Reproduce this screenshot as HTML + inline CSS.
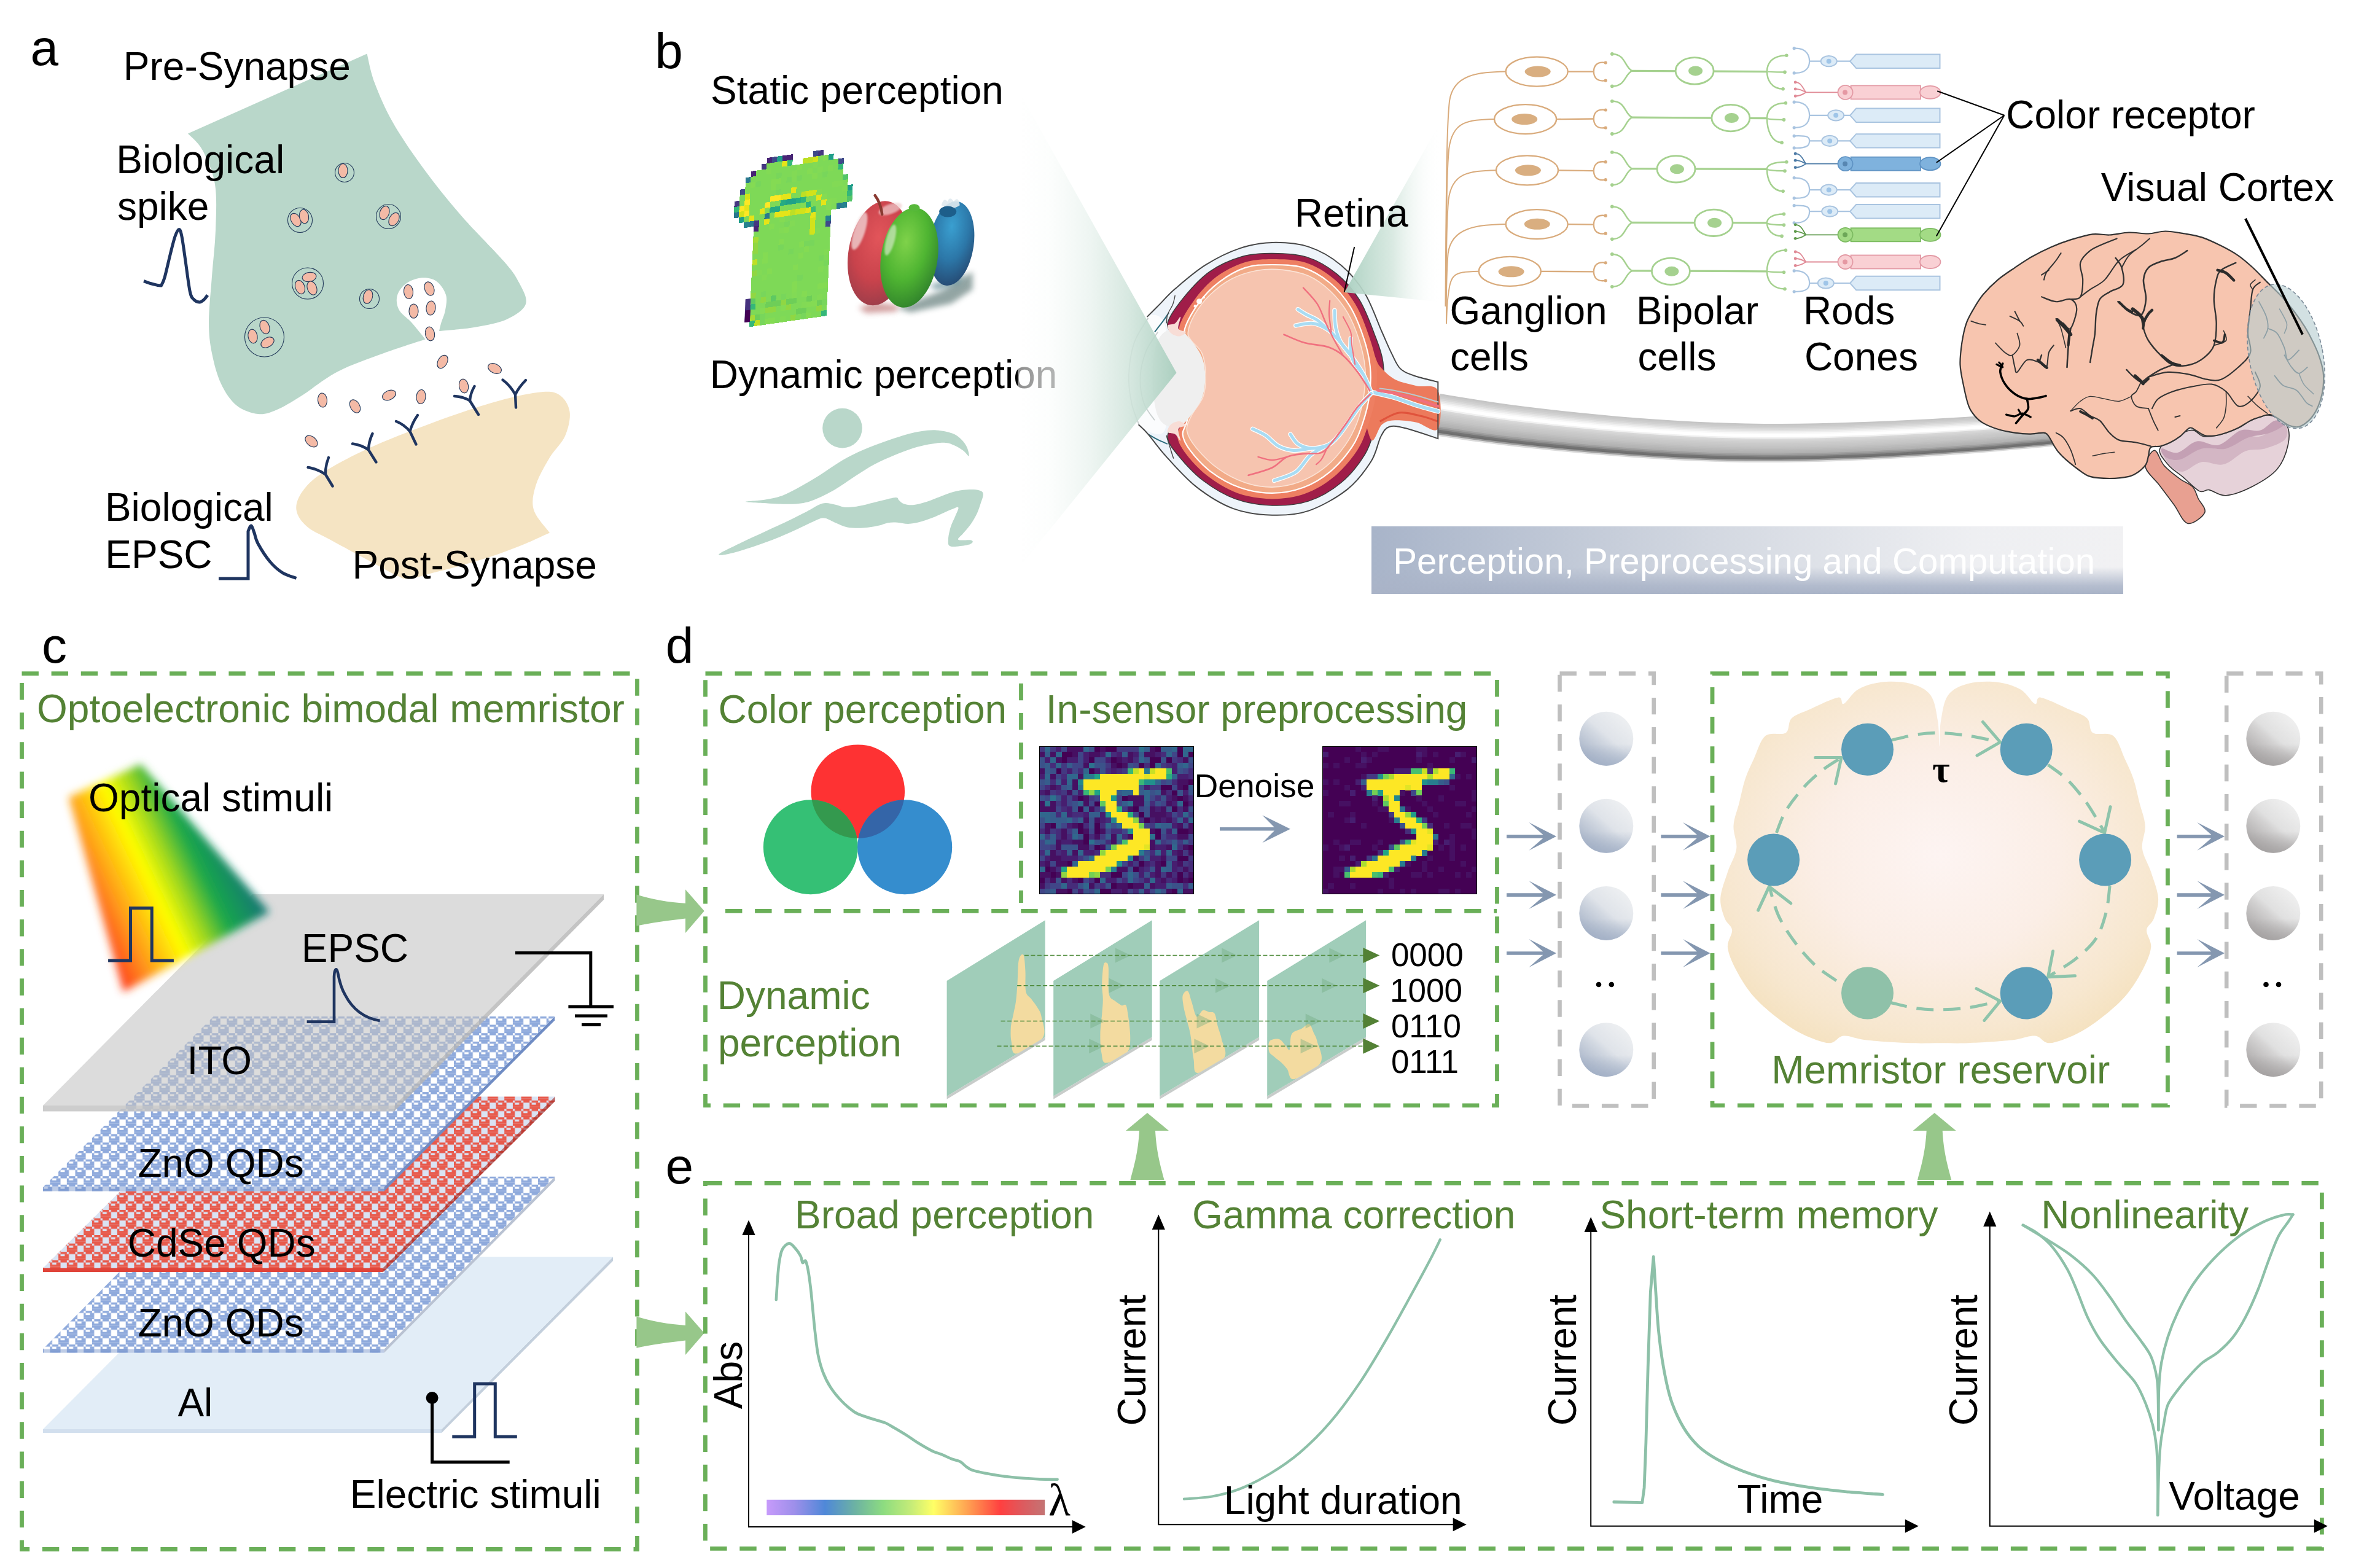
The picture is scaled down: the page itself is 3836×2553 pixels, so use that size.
<!DOCTYPE html>
<html><head><meta charset="utf-8"><title>figure</title>
<style>
html,body{margin:0;padding:0;background:#fff;}
svg{display:block}
text{font-family:"Liberation Sans",sans-serif;}
.s{font-family:"Liberation Serif",serif;}
</style></head><body>
<svg width="3836" height="2553" viewBox="0 0 3836 2553">
<rect width="3836" height="2553" fill="#fff"/>
<!-- defs -->
<defs>
<linearGradient id="beamL" gradientUnits="userSpaceOnUse" x1="1657" y1="0" x2="1916" y2="0">
<stop offset="0" stop-color="#ffffff" stop-opacity="0.55"/>
<stop offset="0.2" stop-color="#fbfdfc" stop-opacity="0.7"/>
<stop offset="0.45" stop-color="#eaf3ef" stop-opacity="0.8"/>
<stop offset="0.7" stop-color="#d0e4db" stop-opacity="0.85"/>
<stop offset="1" stop-color="#a6cdbc" stop-opacity="0.92"/>
</linearGradient>
<linearGradient id="beamR" gradientUnits="userSpaceOnUse" x1="2190" y1="0" x2="2345" y2="0">
<stop offset="0" stop-color="#a9cfbf" stop-opacity="0.95"/>
<stop offset="0.5" stop-color="#d3e6dd" stop-opacity="0.85"/>
<stop offset="1" stop-color="#ffffff" stop-opacity="0"/>
</linearGradient>
</defs>
<!-- a -->
<path d="M597.5,87.5 L306.0,217.5 C310.0,222.1 322.7,231.2 330.0,245.0C337.3,258.8 346.5,278.3 350.0,300.0C353.5,321.7 351.8,350.0 351.0,375.0C350.2,400.0 346.8,425.0 345.0,450.0C343.2,475.0 340.0,504.2 340.0,525.0C340.0,545.8 341.7,558.3 345.0,575.0C348.3,591.7 353.3,610.8 360.0,625.0C366.7,639.2 375.0,651.8 385.0,660.0C395.0,668.2 409.2,672.8 420.0,674.0C430.8,675.2 438.3,672.3 450.0,667.5C461.7,662.7 473.3,655.4 490.0,645.0C506.7,634.6 527.5,616.7 550.0,605.0C572.5,593.3 601.2,583.8 625.0,575.0C648.8,566.2 681.2,556.2 692.5,552.5C688.8,547.9 677.1,532.9 670.0,525.0C662.9,517.1 653.9,512.1 650.0,505.0C646.1,497.9 644.8,489.6 646.5,482.5C648.2,475.4 653.6,467.5 660.0,462.5C666.4,457.5 676.7,453.3 685.0,452.5C693.3,451.7 703.2,452.9 710.0,457.5C716.8,462.1 723.5,472.1 726.0,480.0C728.5,487.9 726.2,497.5 725.0,505.0C723.8,512.5 720.2,519.3 718.5,525.0C716.8,530.7 715.6,536.7 715.0,539.0C725.0,537.9 756.7,535.7 775.0,532.5C793.3,529.3 811.5,526.2 825.0,520.0C838.5,513.8 852.7,505.0 856.0,495.0C859.3,485.0 851.0,471.7 845.0,460.0C839.0,448.3 835.8,443.3 820.0,425.0C804.2,406.7 771.7,375.0 750.0,350.0C728.3,325.0 708.3,300.0 690.0,275.0C671.7,250.0 653.3,223.3 640.0,200.0C626.7,176.7 617.1,153.8 610.0,135.0C602.9,116.2 599.6,95.4 597.5,87.5Z" fill="#b9d7ca"/>
<path d="M895.0,867.5C887.5,870.8 865.8,881.1 850.0,887.5C834.2,893.9 816.7,900.4 800.0,906.0C783.3,911.6 766.7,916.3 750.0,921.0C733.3,925.7 714.2,930.4 700.0,934.0C685.8,937.6 674.2,942.1 665.0,942.5C655.8,942.9 655.8,941.5 645.0,936.5C634.2,931.5 617.5,921.9 600.0,912.5C582.5,903.1 556.7,889.2 540.0,880.0C523.3,870.8 509.6,865.8 500.0,857.5C490.4,849.2 483.8,839.6 482.5,830.0C481.2,820.4 485.4,810.0 492.5,800.0C499.6,790.0 507.1,781.7 525.0,770.0C542.9,758.3 570.8,743.3 600.0,730.0C629.2,716.7 666.7,702.3 700.0,690.0C733.3,677.7 770.8,664.5 800.0,656.0C829.2,647.5 856.7,641.2 875.0,639.0C893.3,636.8 901.2,637.3 910.0,642.5C918.8,647.7 925.8,658.8 927.5,670.0C929.2,681.2 925.4,697.5 920.0,710.0C914.6,722.5 902.9,731.7 895.0,745.0C887.1,758.3 876.8,775.8 872.5,790.0C868.2,804.2 865.2,817.1 869.0,830.0C872.8,842.9 890.7,861.2 895.0,867.5Z" fill="#f5e4c3"/>
<circle cx="561.0" cy="281.0" r="15.5" fill="none" stroke="#22395a" stroke-width="1.1"/>
<ellipse cx="558.5" cy="278.0" rx="7.5" ry="11.5" transform="rotate(0 558.5 278.0)" fill="#f4baa6" stroke="#22395a" stroke-width="1.1"/>
<circle cx="488.5" cy="358.5" r="20.0" fill="none" stroke="#22395a" stroke-width="1.1"/>
<ellipse cx="481.5" cy="358.0" rx="7.5" ry="11.5" transform="rotate(-30 481.5 358.0)" fill="#f4baa6" stroke="#22395a" stroke-width="1.1"/>
<ellipse cx="495.0" cy="352.5" rx="7.5" ry="11.5" transform="rotate(-10 495.0 352.5)" fill="#f4baa6" stroke="#22395a" stroke-width="1.1"/>
<circle cx="632.5" cy="352.5" r="20.0" fill="none" stroke="#22395a" stroke-width="1.1"/>
<ellipse cx="626.0" cy="346.5" rx="7.5" ry="11.5" transform="rotate(20 626.0 346.5)" fill="#f4baa6" stroke="#22395a" stroke-width="1.1"/>
<ellipse cx="641.5" cy="357.0" rx="7.5" ry="11.5" transform="rotate(30 641.5 357.0)" fill="#f4baa6" stroke="#22395a" stroke-width="1.1"/>
<circle cx="501.0" cy="461.5" r="25.5" fill="none" stroke="#22395a" stroke-width="1.1"/>
<ellipse cx="503.5" cy="451.0" rx="7.5" ry="11.5" transform="rotate(80 503.5 451.0)" fill="#f4baa6" stroke="#22395a" stroke-width="1.1"/>
<ellipse cx="488.5" cy="467.5" rx="7.5" ry="11.5" transform="rotate(-20 488.5 467.5)" fill="#f4baa6" stroke="#22395a" stroke-width="1.1"/>
<ellipse cx="508.0" cy="469.0" rx="7.5" ry="11.5" transform="rotate(-20 508.0 469.0)" fill="#f4baa6" stroke="#22395a" stroke-width="1.1"/>
<circle cx="601.5" cy="486.5" r="16.0" fill="none" stroke="#22395a" stroke-width="1.1"/>
<ellipse cx="599.0" cy="483.0" rx="7.5" ry="11.5" transform="rotate(15 599.0 483.0)" fill="#f4baa6" stroke="#22395a" stroke-width="1.1"/>
<circle cx="430.5" cy="549.0" r="32.0" fill="none" stroke="#22395a" stroke-width="1.1"/>
<ellipse cx="431.0" cy="532.5" rx="7.5" ry="11.5" transform="rotate(-20 431.0 532.5)" fill="#f4baa6" stroke="#22395a" stroke-width="1.1"/>
<ellipse cx="411.5" cy="547.5" rx="7.5" ry="11.5" transform="rotate(-10 411.5 547.5)" fill="#f4baa6" stroke="#22395a" stroke-width="1.1"/>
<ellipse cx="435.5" cy="557.5" rx="7.5" ry="11.5" transform="rotate(60 435.5 557.5)" fill="#f4baa6" stroke="#22395a" stroke-width="1.1"/>
<ellipse cx="665.0" cy="475.0" rx="7.5" ry="11.5" transform="rotate(-5 665.0 475.0)" fill="#f4baa6" stroke="#22395a" stroke-width="1.1"/>
<ellipse cx="699.0" cy="470.0" rx="7.5" ry="11.5" transform="rotate(-20 699.0 470.0)" fill="#f4baa6" stroke="#22395a" stroke-width="1.1"/>
<ellipse cx="673.5" cy="506.5" rx="7.5" ry="11.5" transform="rotate(0 673.5 506.5)" fill="#f4baa6" stroke="#22395a" stroke-width="1.1"/>
<ellipse cx="701.5" cy="501.5" rx="7.5" ry="11.5" transform="rotate(5 701.5 501.5)" fill="#f4baa6" stroke="#22395a" stroke-width="1.1"/>
<ellipse cx="700.0" cy="543.5" rx="7.5" ry="11.5" transform="rotate(-10 700.0 543.5)" fill="#f4baa6" stroke="#22395a" stroke-width="1.1"/>
<ellipse cx="720.5" cy="589.0" rx="7.5" ry="11.5" transform="rotate(30 720.5 589.0)" fill="#f4baa6" stroke="#22395a" stroke-width="1.1"/>
<ellipse cx="805.5" cy="600.0" rx="7.5" ry="11.5" transform="rotate(-65 805.5 600.0)" fill="#f4baa6" stroke="#22395a" stroke-width="1.1"/>
<ellipse cx="755.0" cy="628.5" rx="7.5" ry="11.5" transform="rotate(-10 755.0 628.5)" fill="#f4baa6" stroke="#22395a" stroke-width="1.1"/>
<ellipse cx="525.0" cy="651.5" rx="7.5" ry="11.5" transform="rotate(-5 525.0 651.5)" fill="#f4baa6" stroke="#22395a" stroke-width="1.1"/>
<ellipse cx="578.0" cy="661.5" rx="7.5" ry="11.5" transform="rotate(-30 578.0 661.5)" fill="#f4baa6" stroke="#22395a" stroke-width="1.1"/>
<ellipse cx="633.5" cy="643.5" rx="7.5" ry="11.5" transform="rotate(65 633.5 643.5)" fill="#f4baa6" stroke="#22395a" stroke-width="1.1"/>
<ellipse cx="685.5" cy="646.0" rx="7.5" ry="11.5" transform="rotate(5 685.5 646.0)" fill="#f4baa6" stroke="#22395a" stroke-width="1.1"/>
<ellipse cx="507.0" cy="718.5" rx="7.5" ry="11.5" transform="rotate(-50 507.0 718.5)" fill="#f4baa6" stroke="#22395a" stroke-width="1.1"/>
<path d="M541.5,791.5 L530.0,772.5 M501.5,761.0 Q517.75,763.75 530.0,772.5 Q529.5,758.75 535.0,745.0" fill="none" stroke="#1f3560" stroke-width="4.4" stroke-linecap="round" stroke-linejoin="round"/>
<path d="M612.5,752.5 L600.0,732.5 M574.0,722.5 Q589.0,724.5 600.0,732.5 Q600.25,719.25 606.5,706.0" fill="none" stroke="#1f3560" stroke-width="4.4" stroke-linecap="round" stroke-linejoin="round"/>
<path d="M677.5,723.5 L667.5,702.5 M645.0,686.0 Q658.25,691.25 667.5,702.5 Q670.75,689.25 680.0,676.0" fill="none" stroke="#1f3560" stroke-width="4.4" stroke-linecap="round" stroke-linejoin="round"/>
<path d="M779.0,675.0 L765.0,652.5 M740.0,645.0 Q754.5,645.75 765.0,652.5 Q765.75,640.75 772.5,629.0" fill="none" stroke="#1f3560" stroke-width="4.4" stroke-linecap="round" stroke-linejoin="round"/>
<path d="M840.0,663.5 L839.0,642.5 M818.5,618.5 Q830.75,627.5 839.0,642.5 Q844.5,630.75 856.0,619.0" fill="none" stroke="#1f3560" stroke-width="4.4" stroke-linecap="round" stroke-linejoin="round"/>
<path d="M234,457.6C235.8,458.2 241.2,460.4 245,461.5C248.8,462.6 254.1,463.9 257,464.5C259.9,465.1 261.6,464.9 262.5,465 L262.5,465C263.4,462.8 265.6,460.3 268,452C270.4,443.7 274.2,426.2 277,415C279.8,403.8 282.6,391.9 285,385C287.4,378.1 289.6,373.4 291.4,373.4C293.2,373.4 294.2,376.4 296,385C297.8,393.6 299.8,410.0 302,425C304.2,440.0 307.1,464.5 309.3,474.8C311.5,485.1 312.4,484.1 315,487C317.6,489.9 321.8,491.8 324.6,492C327.4,492.2 329.8,489.9 332,488C334.2,486.1 337.0,481.8 338,480.5" fill="none" stroke="#1f3560" stroke-width="5" stroke-linecap="butt" stroke-linejoin="round"/>
<path d="M356,942 L404,942 L404.0,865.0 C404.8,863.5 407.3,855.6 409.0,856.0C410.7,856.4 412.2,862.7 414.0,867.5C415.8,872.3 415.7,877.1 420.0,885.0C424.3,892.9 433.3,907.1 440.0,915.0C446.7,922.9 452.9,928.1 460.0,932.5C467.1,936.9 478.8,940.0 482.5,941.5" fill="none" stroke="#1f3560" stroke-width="5" stroke-linejoin="miter"/>
<text x="49.5" y="105.9" font-size="82" fill="#000" >a</text>
<text x="200.8" y="129.8" font-size="64" fill="#000" >Pre-Synapse</text>
<text x="189.2" y="282" font-size="64" fill="#000" >Biological</text>
<text x="190.9" y="357.8" font-size="64" fill="#000" >spike</text>
<text x="170.9" y="847.5" font-size="64" fill="#000" >Biological</text>
<text x="171.3" y="924.7" font-size="64" fill="#000" >EPSC</text>
<text x="573.5" y="941.8" font-size="64" fill="#000" >Post-Synapse</text>
<!-- b_static -->
<g transform="matrix(8.3681,-1.2144,-0.4082,9.0824,1191.55,238.42)" shape-rendering="crispEdges"><rect x="7" y="3" width="1.04" height="1.04" fill="#482475"/><rect x="8" y="3" width="1.04" height="1.04" fill="#3e4989"/><rect x="9" y="3" width="1.04" height="1.04" fill="#1f9e89"/><rect x="10" y="3" width="1.04" height="1.04" fill="#482475"/><rect x="11" y="3" width="1.04" height="1.04" fill="#482475"/><rect x="16" y="3" width="1.04" height="1.04" fill="#3e4989"/><rect x="17" y="3" width="1.04" height="1.04" fill="#453781"/><rect x="6" y="4" width="1.04" height="1.04" fill="#453781"/><rect x="7" y="4" width="1.04" height="1.04" fill="#7ed957"/><rect x="8" y="4" width="1.04" height="1.04" fill="#7ed957"/><rect x="9" y="4" width="1.04" height="1.04" fill="#7ed957"/><rect x="10" y="4" width="1.04" height="1.04" fill="#e5e419"/><rect x="11" y="4" width="1.04" height="1.04" fill="#35b779"/><rect x="14" y="4" width="1.04" height="1.04" fill="#bddf26"/><rect x="15" y="4" width="1.04" height="1.04" fill="#bddf26"/><rect x="16" y="4" width="1.04" height="1.04" fill="#d2e21b"/><rect x="17" y="4" width="1.04" height="1.04" fill="#7ed957"/><rect x="18" y="4" width="1.04" height="1.04" fill="#84db53"/><rect x="19" y="4" width="1.04" height="1.04" fill="#1f9e89"/><rect x="4" y="5" width="1.04" height="1.04" fill="#482475"/><rect x="5" y="5" width="1.04" height="1.04" fill="#7ed957"/><rect x="6" y="5" width="1.04" height="1.04" fill="#7ed957"/><rect x="7" y="5" width="1.04" height="1.04" fill="#82da55"/><rect x="8" y="5" width="1.04" height="1.04" fill="#7ed957"/><rect x="9" y="5" width="1.04" height="1.04" fill="#7ed957"/><rect x="10" y="5" width="1.04" height="1.04" fill="#7ed957"/><rect x="11" y="5" width="1.04" height="1.04" fill="#7ed957"/><rect x="12" y="5" width="1.04" height="1.04" fill="#7ed957"/><rect x="13" y="5" width="1.04" height="1.04" fill="#84db53"/><rect x="14" y="5" width="1.04" height="1.04" fill="#7ed957"/><rect x="15" y="5" width="1.04" height="1.04" fill="#7ed957"/><rect x="16" y="5" width="1.04" height="1.04" fill="#82da55"/><rect x="17" y="5" width="1.04" height="1.04" fill="#7ed957"/><rect x="18" y="5" width="1.04" height="1.04" fill="#7ed957"/><rect x="19" y="5" width="1.04" height="1.04" fill="#7ed957"/><rect x="20" y="5" width="1.04" height="1.04" fill="#7ed957"/><rect x="21" y="5" width="1.04" height="1.04" fill="#3e4989"/><rect x="3" y="6" width="1.04" height="1.04" fill="#2a788e"/><rect x="4" y="6" width="1.04" height="1.04" fill="#7ed957"/><rect x="5" y="6" width="1.04" height="1.04" fill="#7ed957"/><rect x="6" y="6" width="1.04" height="1.04" fill="#7ed957"/><rect x="7" y="6" width="1.04" height="1.04" fill="#7ed957"/><rect x="8" y="6" width="1.04" height="1.04" fill="#7ed957"/><rect x="9" y="6" width="1.04" height="1.04" fill="#78d65b"/><rect x="10" y="6" width="1.04" height="1.04" fill="#7ed957"/><rect x="11" y="6" width="1.04" height="1.04" fill="#7ed957"/><rect x="12" y="6" width="1.04" height="1.04" fill="#82da55"/><rect x="13" y="6" width="1.04" height="1.04" fill="#7ed957"/><rect x="14" y="6" width="1.04" height="1.04" fill="#7ed957"/><rect x="15" y="6" width="1.04" height="1.04" fill="#84db53"/><rect x="16" y="6" width="1.04" height="1.04" fill="#7ed957"/><rect x="17" y="6" width="1.04" height="1.04" fill="#82da55"/><rect x="18" y="6" width="1.04" height="1.04" fill="#7ed957"/><rect x="19" y="6" width="1.04" height="1.04" fill="#82da55"/><rect x="20" y="6" width="1.04" height="1.04" fill="#7ed957"/><rect x="21" y="6" width="1.04" height="1.04" fill="#35b779"/><rect x="3" y="7" width="1.04" height="1.04" fill="#7ed957"/><rect x="4" y="7" width="1.04" height="1.04" fill="#84db53"/><rect x="5" y="7" width="1.04" height="1.04" fill="#78d65b"/><rect x="6" y="7" width="1.04" height="1.04" fill="#7ed957"/><rect x="7" y="7" width="1.04" height="1.04" fill="#7ed957"/><rect x="8" y="7" width="1.04" height="1.04" fill="#84db53"/><rect x="9" y="7" width="1.04" height="1.04" fill="#84db53"/><rect x="10" y="7" width="1.04" height="1.04" fill="#7ed957"/><rect x="11" y="7" width="1.04" height="1.04" fill="#78d65b"/><rect x="12" y="7" width="1.04" height="1.04" fill="#82da55"/><rect x="13" y="7" width="1.04" height="1.04" fill="#78d65b"/><rect x="14" y="7" width="1.04" height="1.04" fill="#7ed957"/><rect x="15" y="7" width="1.04" height="1.04" fill="#7ed957"/><rect x="16" y="7" width="1.04" height="1.04" fill="#84db53"/><rect x="17" y="7" width="1.04" height="1.04" fill="#7ed957"/><rect x="18" y="7" width="1.04" height="1.04" fill="#78d65b"/><rect x="19" y="7" width="1.04" height="1.04" fill="#7ed957"/><rect x="20" y="7" width="1.04" height="1.04" fill="#7ed957"/><rect x="21" y="7" width="1.04" height="1.04" fill="#7ed957"/><rect x="2" y="8" width="1.04" height="1.04" fill="#3e4989"/><rect x="3" y="8" width="1.04" height="1.04" fill="#7ed957"/><rect x="4" y="8" width="1.04" height="1.04" fill="#7ed957"/><rect x="5" y="8" width="1.04" height="1.04" fill="#7ed957"/><rect x="6" y="8" width="1.04" height="1.04" fill="#7ed957"/><rect x="7" y="8" width="1.04" height="1.04" fill="#7ed957"/><rect x="8" y="8" width="1.04" height="1.04" fill="#84db53"/><rect x="9" y="8" width="1.04" height="1.04" fill="#7ed957"/><rect x="10" y="8" width="1.04" height="1.04" fill="#7ed957"/><rect x="11" y="8" width="1.04" height="1.04" fill="#7ed957"/><rect x="12" y="8" width="1.04" height="1.04" fill="#7ed957"/><rect x="13" y="8" width="1.04" height="1.04" fill="#7ed957"/><rect x="14" y="8" width="1.04" height="1.04" fill="#7ed957"/><rect x="15" y="8" width="1.04" height="1.04" fill="#7ed957"/><rect x="16" y="8" width="1.04" height="1.04" fill="#7ed957"/><rect x="17" y="8" width="1.04" height="1.04" fill="#7ed957"/><rect x="18" y="8" width="1.04" height="1.04" fill="#7ed957"/><rect x="19" y="8" width="1.04" height="1.04" fill="#7ed957"/><rect x="20" y="8" width="1.04" height="1.04" fill="#7ed957"/><rect x="21" y="8" width="1.04" height="1.04" fill="#7ed957"/><rect x="22" y="8" width="1.04" height="1.04" fill="#54c568"/><rect x="2" y="9" width="1.04" height="1.04" fill="#78d65b"/><rect x="3" y="9" width="1.04" height="1.04" fill="#d2e21b"/><rect x="4" y="9" width="1.04" height="1.04" fill="#7ed957"/><rect x="5" y="9" width="1.04" height="1.04" fill="#7ed957"/><rect x="6" y="9" width="1.04" height="1.04" fill="#7ed957"/><rect x="7" y="9" width="1.04" height="1.04" fill="#7ed957"/><rect x="8" y="9" width="1.04" height="1.04" fill="#7ed957"/><rect x="9" y="9" width="1.04" height="1.04" fill="#78d65b"/><rect x="10" y="9" width="1.04" height="1.04" fill="#7ed957"/><rect x="11" y="9" width="1.04" height="1.04" fill="#7ed957"/><rect x="12" y="9" width="1.04" height="1.04" fill="#e5e419"/><rect x="13" y="9" width="1.04" height="1.04" fill="#7ed957"/><rect x="14" y="9" width="1.04" height="1.04" fill="#7ed957"/><rect x="15" y="9" width="1.04" height="1.04" fill="#7ed957"/><rect x="16" y="9" width="1.04" height="1.04" fill="#7ed957"/><rect x="17" y="9" width="1.04" height="1.04" fill="#7ed957"/><rect x="18" y="9" width="1.04" height="1.04" fill="#7ed957"/><rect x="19" y="9" width="1.04" height="1.04" fill="#7ed957"/><rect x="20" y="9" width="1.04" height="1.04" fill="#82da55"/><rect x="21" y="9" width="1.04" height="1.04" fill="#82da55"/><rect x="22" y="9" width="1.04" height="1.04" fill="#7ed957"/><rect x="1" y="10" width="1.04" height="1.04" fill="#453781"/><rect x="2" y="10" width="1.04" height="1.04" fill="#7ed957"/><rect x="3" y="10" width="1.04" height="1.04" fill="#fde725"/><rect x="4" y="10" width="1.04" height="1.04" fill="#7ed957"/><rect x="5" y="10" width="1.04" height="1.04" fill="#7ed957"/><rect x="6" y="10" width="1.04" height="1.04" fill="#7ed957"/><rect x="7" y="10" width="1.04" height="1.04" fill="#7ed957"/><rect x="8" y="10" width="1.04" height="1.04" fill="#fde725"/><rect x="9" y="10" width="1.04" height="1.04" fill="#fde725"/><rect x="10" y="10" width="1.04" height="1.04" fill="#e5e419"/><rect x="11" y="10" width="1.04" height="1.04" fill="#e5e419"/><rect x="12" y="10" width="1.04" height="1.04" fill="#7ed957"/><rect x="13" y="10" width="1.04" height="1.04" fill="#7ed957"/><rect x="14" y="10" width="1.04" height="1.04" fill="#bddf26"/><rect x="15" y="10" width="1.04" height="1.04" fill="#d2e21b"/><rect x="16" y="10" width="1.04" height="1.04" fill="#d2e21b"/><rect x="17" y="10" width="1.04" height="1.04" fill="#82da55"/><rect x="18" y="10" width="1.04" height="1.04" fill="#7ed957"/><rect x="19" y="10" width="1.04" height="1.04" fill="#7ed957"/><rect x="20" y="10" width="1.04" height="1.04" fill="#7ed957"/><rect x="21" y="10" width="1.04" height="1.04" fill="#7ed957"/><rect x="22" y="10" width="1.04" height="1.04" fill="#82da55"/><rect x="23" y="10" width="1.04" height="1.04" fill="#1f9e89"/><rect x="1" y="11" width="1.04" height="1.04" fill="#35b779"/><rect x="2" y="11" width="1.04" height="1.04" fill="#fde725"/><rect x="3" y="11" width="1.04" height="1.04" fill="#e5e419"/><rect x="4" y="11" width="1.04" height="1.04" fill="#7ed957"/><rect x="5" y="11" width="1.04" height="1.04" fill="#7ed957"/><rect x="6" y="11" width="1.04" height="1.04" fill="#7ed957"/><rect x="7" y="11" width="1.04" height="1.04" fill="#fde725"/><rect x="8" y="11" width="1.04" height="1.04" fill="#7ed957"/><rect x="9" y="11" width="1.04" height="1.04" fill="#7ed957"/><rect x="10" y="11" width="1.04" height="1.04" fill="#25ab82"/><rect x="11" y="11" width="1.04" height="1.04" fill="#1fa188"/><rect x="12" y="11" width="1.04" height="1.04" fill="#1fa188"/><rect x="13" y="11" width="1.04" height="1.04" fill="#25ab82"/><rect x="14" y="11" width="1.04" height="1.04" fill="#2fb47c"/><rect x="15" y="11" width="1.04" height="1.04" fill="#7ed957"/><rect x="16" y="11" width="1.04" height="1.04" fill="#7ed957"/><rect x="17" y="11" width="1.04" height="1.04" fill="#e5e419"/><rect x="18" y="11" width="1.04" height="1.04" fill="#84db53"/><rect x="19" y="11" width="1.04" height="1.04" fill="#7ed957"/><rect x="20" y="11" width="1.04" height="1.04" fill="#7ed957"/><rect x="21" y="11" width="1.04" height="1.04" fill="#7ed957"/><rect x="22" y="11" width="1.04" height="1.04" fill="#7ed957"/><rect x="23" y="11" width="1.04" height="1.04" fill="#35b779"/><rect x="1" y="12" width="1.04" height="1.04" fill="#2a788e"/><rect x="2" y="12" width="1.04" height="1.04" fill="#d2e21b"/><rect x="3" y="12" width="1.04" height="1.04" fill="#fde725"/><rect x="4" y="12" width="1.04" height="1.04" fill="#7ed957"/><rect x="5" y="12" width="1.04" height="1.04" fill="#7ed957"/><rect x="6" y="12" width="1.04" height="1.04" fill="#e5e419"/><rect x="7" y="12" width="1.04" height="1.04" fill="#82da55"/><rect x="8" y="12" width="1.04" height="1.04" fill="#25ab82"/><rect x="9" y="12" width="1.04" height="1.04" fill="#25ab82"/><rect x="10" y="12" width="1.04" height="1.04" fill="#7ed957"/><rect x="11" y="12" width="1.04" height="1.04" fill="#7ed957"/><rect x="12" y="12" width="1.04" height="1.04" fill="#7ed957"/><rect x="13" y="12" width="1.04" height="1.04" fill="#7ed957"/><rect x="14" y="12" width="1.04" height="1.04" fill="#84db53"/><rect x="15" y="12" width="1.04" height="1.04" fill="#2fb47c"/><rect x="16" y="12" width="1.04" height="1.04" fill="#7ed957"/><rect x="17" y="12" width="1.04" height="1.04" fill="#7ed957"/><rect x="18" y="12" width="1.04" height="1.04" fill="#e5e419"/><rect x="19" y="12" width="1.04" height="1.04" fill="#84db53"/><rect x="20" y="12" width="1.04" height="1.04" fill="#82da55"/><rect x="21" y="12" width="1.04" height="1.04" fill="#7ed957"/><rect x="22" y="12" width="1.04" height="1.04" fill="#7ed957"/><rect x="23" y="12" width="1.04" height="1.04" fill="#54c568"/><rect x="2" y="13" width="1.04" height="1.04" fill="#1f9e89"/><rect x="3" y="13" width="1.04" height="1.04" fill="#7ed957"/><rect x="4" y="13" width="1.04" height="1.04" fill="#e5e419"/><rect x="5" y="13" width="1.04" height="1.04" fill="#7ed957"/><rect x="6" y="13" width="1.04" height="1.04" fill="#7ed957"/><rect x="7" y="13" width="1.04" height="1.04" fill="#2a788e"/><rect x="8" y="13" width="1.04" height="1.04" fill="#7ed957"/><rect x="9" y="13" width="1.04" height="1.04" fill="#e5e419"/><rect x="10" y="13" width="1.04" height="1.04" fill="#e5e419"/><rect x="11" y="13" width="1.04" height="1.04" fill="#e5e419"/><rect x="12" y="13" width="1.04" height="1.04" fill="#bddf26"/><rect x="13" y="13" width="1.04" height="1.04" fill="#d2e21b"/><rect x="14" y="13" width="1.04" height="1.04" fill="#d2e21b"/><rect x="15" y="13" width="1.04" height="1.04" fill="#e5e419"/><rect x="16" y="13" width="1.04" height="1.04" fill="#3dbc74"/><rect x="17" y="13" width="1.04" height="1.04" fill="#7ed957"/><rect x="18" y="13" width="1.04" height="1.04" fill="#7ed957"/><rect x="19" y="13" width="1.04" height="1.04" fill="#84db53"/><rect x="20" y="13" width="1.04" height="1.04" fill="#7ed957"/><rect x="21" y="13" width="1.04" height="1.04" fill="#2a788e"/><rect x="22" y="13" width="1.04" height="1.04" fill="#26828e"/><rect x="3" y="14" width="1.04" height="1.04" fill="#26828e"/><rect x="4" y="14" width="1.04" height="1.04" fill="#2a788e"/><rect x="5" y="14" width="1.04" height="1.04" fill="#453781"/><rect x="6" y="14" width="1.04" height="1.04" fill="#7ed957"/><rect x="7" y="14" width="1.04" height="1.04" fill="#e5e419"/><rect x="8" y="14" width="1.04" height="1.04" fill="#7ed957"/><rect x="9" y="14" width="1.04" height="1.04" fill="#7ed957"/><rect x="10" y="14" width="1.04" height="1.04" fill="#84db53"/><rect x="11" y="14" width="1.04" height="1.04" fill="#7ed957"/><rect x="12" y="14" width="1.04" height="1.04" fill="#7ed957"/><rect x="13" y="14" width="1.04" height="1.04" fill="#7ed957"/><rect x="14" y="14" width="1.04" height="1.04" fill="#7ed957"/><rect x="15" y="14" width="1.04" height="1.04" fill="#7ed957"/><rect x="16" y="14" width="1.04" height="1.04" fill="#e5e419"/><rect x="17" y="14" width="1.04" height="1.04" fill="#7ed957"/><rect x="18" y="14" width="1.04" height="1.04" fill="#7ed957"/><rect x="19" y="14" width="1.04" height="1.04" fill="#7ed957"/><rect x="5" y="15" width="1.04" height="1.04" fill="#482475"/><rect x="6" y="15" width="1.04" height="1.04" fill="#7ed957"/><rect x="7" y="15" width="1.04" height="1.04" fill="#7ed957"/><rect x="8" y="15" width="1.04" height="1.04" fill="#84db53"/><rect x="9" y="15" width="1.04" height="1.04" fill="#7ed957"/><rect x="10" y="15" width="1.04" height="1.04" fill="#7ed957"/><rect x="11" y="15" width="1.04" height="1.04" fill="#78d65b"/><rect x="12" y="15" width="1.04" height="1.04" fill="#82da55"/><rect x="13" y="15" width="1.04" height="1.04" fill="#7ed957"/><rect x="14" y="15" width="1.04" height="1.04" fill="#7ed957"/><rect x="15" y="15" width="1.04" height="1.04" fill="#7ed957"/><rect x="16" y="15" width="1.04" height="1.04" fill="#d2e21b"/><rect x="17" y="15" width="1.04" height="1.04" fill="#7ed957"/><rect x="18" y="15" width="1.04" height="1.04" fill="#7ed957"/><rect x="19" y="15" width="1.04" height="1.04" fill="#26828e"/><rect x="5" y="16" width="1.04" height="1.04" fill="#7ed957"/><rect x="6" y="16" width="1.04" height="1.04" fill="#7ed957"/><rect x="7" y="16" width="1.04" height="1.04" fill="#7ed957"/><rect x="8" y="16" width="1.04" height="1.04" fill="#7ed957"/><rect x="9" y="16" width="1.04" height="1.04" fill="#7ed957"/><rect x="10" y="16" width="1.04" height="1.04" fill="#82da55"/><rect x="11" y="16" width="1.04" height="1.04" fill="#84db53"/><rect x="12" y="16" width="1.04" height="1.04" fill="#7ed957"/><rect x="13" y="16" width="1.04" height="1.04" fill="#7ed957"/><rect x="14" y="16" width="1.04" height="1.04" fill="#7ed957"/><rect x="15" y="16" width="1.04" height="1.04" fill="#7ed957"/><rect x="16" y="16" width="1.04" height="1.04" fill="#d2e21b"/><rect x="17" y="16" width="1.04" height="1.04" fill="#7ed957"/><rect x="18" y="16" width="1.04" height="1.04" fill="#7ed957"/><rect x="19" y="16" width="1.04" height="1.04" fill="#3e4989"/><rect x="5" y="17" width="1.04" height="1.04" fill="#a5db36"/><rect x="6" y="17" width="1.04" height="1.04" fill="#7ed957"/><rect x="7" y="17" width="1.04" height="1.04" fill="#7ed957"/><rect x="8" y="17" width="1.04" height="1.04" fill="#7ed957"/><rect x="9" y="17" width="1.04" height="1.04" fill="#7ed957"/><rect x="10" y="17" width="1.04" height="1.04" fill="#7ed957"/><rect x="11" y="17" width="1.04" height="1.04" fill="#7ed957"/><rect x="12" y="17" width="1.04" height="1.04" fill="#7ed957"/><rect x="13" y="17" width="1.04" height="1.04" fill="#7ed957"/><rect x="14" y="17" width="1.04" height="1.04" fill="#7ed957"/><rect x="15" y="17" width="1.04" height="1.04" fill="#7ed957"/><rect x="16" y="17" width="1.04" height="1.04" fill="#d2e21b"/><rect x="17" y="17" width="1.04" height="1.04" fill="#82da55"/><rect x="18" y="17" width="1.04" height="1.04" fill="#7ed957"/><rect x="19" y="17" width="1.04" height="1.04" fill="#7ed957"/><rect x="5" y="18" width="1.04" height="1.04" fill="#90d743"/><rect x="6" y="18" width="1.04" height="1.04" fill="#7ed957"/><rect x="7" y="18" width="1.04" height="1.04" fill="#7ed957"/><rect x="8" y="18" width="1.04" height="1.04" fill="#7ed957"/><rect x="9" y="18" width="1.04" height="1.04" fill="#7ed957"/><rect x="10" y="18" width="1.04" height="1.04" fill="#84db53"/><rect x="11" y="18" width="1.04" height="1.04" fill="#7ed957"/><rect x="12" y="18" width="1.04" height="1.04" fill="#7ed957"/><rect x="13" y="18" width="1.04" height="1.04" fill="#7ed957"/><rect x="14" y="18" width="1.04" height="1.04" fill="#7ed957"/><rect x="15" y="18" width="1.04" height="1.04" fill="#7ed957"/><rect x="16" y="18" width="1.04" height="1.04" fill="#7ed957"/><rect x="17" y="18" width="1.04" height="1.04" fill="#7ed957"/><rect x="18" y="18" width="1.04" height="1.04" fill="#7ed957"/><rect x="19" y="18" width="1.04" height="1.04" fill="#7ed957"/><rect x="5" y="19" width="1.04" height="1.04" fill="#90d743"/><rect x="6" y="19" width="1.04" height="1.04" fill="#7ed957"/><rect x="7" y="19" width="1.04" height="1.04" fill="#7ed957"/><rect x="8" y="19" width="1.04" height="1.04" fill="#7ed957"/><rect x="9" y="19" width="1.04" height="1.04" fill="#7ed957"/><rect x="10" y="19" width="1.04" height="1.04" fill="#78d65b"/><rect x="11" y="19" width="1.04" height="1.04" fill="#7ed957"/><rect x="12" y="19" width="1.04" height="1.04" fill="#7ed957"/><rect x="13" y="19" width="1.04" height="1.04" fill="#7ed957"/><rect x="14" y="19" width="1.04" height="1.04" fill="#84db53"/><rect x="15" y="19" width="1.04" height="1.04" fill="#78d65b"/><rect x="16" y="19" width="1.04" height="1.04" fill="#78d65b"/><rect x="17" y="19" width="1.04" height="1.04" fill="#7ed957"/><rect x="18" y="19" width="1.04" height="1.04" fill="#7ed957"/><rect x="19" y="19" width="1.04" height="1.04" fill="#7ed957"/><rect x="5" y="20" width="1.04" height="1.04" fill="#7ed957"/><rect x="6" y="20" width="1.04" height="1.04" fill="#7ed957"/><rect x="7" y="20" width="1.04" height="1.04" fill="#84db53"/><rect x="8" y="20" width="1.04" height="1.04" fill="#7ed957"/><rect x="9" y="20" width="1.04" height="1.04" fill="#7ed957"/><rect x="10" y="20" width="1.04" height="1.04" fill="#7ed957"/><rect x="11" y="20" width="1.04" height="1.04" fill="#7ed957"/><rect x="12" y="20" width="1.04" height="1.04" fill="#78d65b"/><rect x="13" y="20" width="1.04" height="1.04" fill="#7ed957"/><rect x="14" y="20" width="1.04" height="1.04" fill="#7ed957"/><rect x="15" y="20" width="1.04" height="1.04" fill="#84db53"/><rect x="16" y="20" width="1.04" height="1.04" fill="#7ed957"/><rect x="17" y="20" width="1.04" height="1.04" fill="#7ed957"/><rect x="18" y="20" width="1.04" height="1.04" fill="#7ed957"/><rect x="19" y="20" width="1.04" height="1.04" fill="#7ed957"/><rect x="5" y="21" width="1.04" height="1.04" fill="#bddf26"/><rect x="6" y="21" width="1.04" height="1.04" fill="#7ed957"/><rect x="7" y="21" width="1.04" height="1.04" fill="#84db53"/><rect x="8" y="21" width="1.04" height="1.04" fill="#7ed957"/><rect x="9" y="21" width="1.04" height="1.04" fill="#7ed957"/><rect x="10" y="21" width="1.04" height="1.04" fill="#7ed957"/><rect x="11" y="21" width="1.04" height="1.04" fill="#7ed957"/><rect x="12" y="21" width="1.04" height="1.04" fill="#7ed957"/><rect x="13" y="21" width="1.04" height="1.04" fill="#7ed957"/><rect x="14" y="21" width="1.04" height="1.04" fill="#84db53"/><rect x="15" y="21" width="1.04" height="1.04" fill="#7ed957"/><rect x="16" y="21" width="1.04" height="1.04" fill="#7ed957"/><rect x="17" y="21" width="1.04" height="1.04" fill="#7ed957"/><rect x="18" y="21" width="1.04" height="1.04" fill="#7ed957"/><rect x="19" y="21" width="1.04" height="1.04" fill="#82da55"/><rect x="5" y="22" width="1.04" height="1.04" fill="#7ed957"/><rect x="6" y="22" width="1.04" height="1.04" fill="#7ed957"/><rect x="7" y="22" width="1.04" height="1.04" fill="#7ed957"/><rect x="8" y="22" width="1.04" height="1.04" fill="#7ed957"/><rect x="9" y="22" width="1.04" height="1.04" fill="#7ed957"/><rect x="10" y="22" width="1.04" height="1.04" fill="#7ed957"/><rect x="11" y="22" width="1.04" height="1.04" fill="#7ed957"/><rect x="12" y="22" width="1.04" height="1.04" fill="#7ed957"/><rect x="13" y="22" width="1.04" height="1.04" fill="#7ed957"/><rect x="14" y="22" width="1.04" height="1.04" fill="#7ed957"/><rect x="15" y="22" width="1.04" height="1.04" fill="#7ed957"/><rect x="16" y="22" width="1.04" height="1.04" fill="#7ed957"/><rect x="17" y="22" width="1.04" height="1.04" fill="#7ed957"/><rect x="18" y="22" width="1.04" height="1.04" fill="#78d65b"/><rect x="19" y="22" width="1.04" height="1.04" fill="#7ed957"/><rect x="5" y="23" width="1.04" height="1.04" fill="#90d743"/><rect x="6" y="23" width="1.04" height="1.04" fill="#82da55"/><rect x="7" y="23" width="1.04" height="1.04" fill="#7ed957"/><rect x="8" y="23" width="1.04" height="1.04" fill="#84db53"/><rect x="9" y="23" width="1.04" height="1.04" fill="#7ed957"/><rect x="10" y="23" width="1.04" height="1.04" fill="#7ed957"/><rect x="11" y="23" width="1.04" height="1.04" fill="#7ed957"/><rect x="12" y="23" width="1.04" height="1.04" fill="#7ed957"/><rect x="13" y="23" width="1.04" height="1.04" fill="#84db53"/><rect x="14" y="23" width="1.04" height="1.04" fill="#7ed957"/><rect x="15" y="23" width="1.04" height="1.04" fill="#7ed957"/><rect x="16" y="23" width="1.04" height="1.04" fill="#7ed957"/><rect x="17" y="23" width="1.04" height="1.04" fill="#7ed957"/><rect x="18" y="23" width="1.04" height="1.04" fill="#7ed957"/><rect x="19" y="23" width="1.04" height="1.04" fill="#78d65b"/><rect x="5" y="24" width="1.04" height="1.04" fill="#7ed957"/><rect x="6" y="24" width="1.04" height="1.04" fill="#7ed957"/><rect x="7" y="24" width="1.04" height="1.04" fill="#82da55"/><rect x="8" y="24" width="1.04" height="1.04" fill="#7ed957"/><rect x="9" y="24" width="1.04" height="1.04" fill="#7ed957"/><rect x="10" y="24" width="1.04" height="1.04" fill="#7ed957"/><rect x="11" y="24" width="1.04" height="1.04" fill="#7ed957"/><rect x="12" y="24" width="1.04" height="1.04" fill="#7ed957"/><rect x="13" y="24" width="1.04" height="1.04" fill="#7ed957"/><rect x="14" y="24" width="1.04" height="1.04" fill="#7ed957"/><rect x="15" y="24" width="1.04" height="1.04" fill="#7ed957"/><rect x="16" y="24" width="1.04" height="1.04" fill="#7ed957"/><rect x="17" y="24" width="1.04" height="1.04" fill="#7ed957"/><rect x="18" y="24" width="1.04" height="1.04" fill="#82da55"/><rect x="19" y="24" width="1.04" height="1.04" fill="#7ed957"/><rect x="5" y="25" width="1.04" height="1.04" fill="#7ed957"/><rect x="6" y="25" width="1.04" height="1.04" fill="#7ed957"/><rect x="7" y="25" width="1.04" height="1.04" fill="#7ed957"/><rect x="8" y="25" width="1.04" height="1.04" fill="#7ed957"/><rect x="9" y="25" width="1.04" height="1.04" fill="#7ed957"/><rect x="10" y="25" width="1.04" height="1.04" fill="#7ed957"/><rect x="11" y="25" width="1.04" height="1.04" fill="#7ed957"/><rect x="12" y="25" width="1.04" height="1.04" fill="#7ed957"/><rect x="13" y="25" width="1.04" height="1.04" fill="#7ed957"/><rect x="14" y="25" width="1.04" height="1.04" fill="#78d65b"/><rect x="15" y="25" width="1.04" height="1.04" fill="#7ed957"/><rect x="16" y="25" width="1.04" height="1.04" fill="#7ed957"/><rect x="17" y="25" width="1.04" height="1.04" fill="#7ed957"/><rect x="18" y="25" width="1.04" height="1.04" fill="#7ed957"/><rect x="19" y="25" width="1.04" height="1.04" fill="#7ed957"/><rect x="5" y="26" width="1.04" height="1.04" fill="#7ed957"/><rect x="6" y="26" width="1.04" height="1.04" fill="#7ed957"/><rect x="7" y="26" width="1.04" height="1.04" fill="#7ed957"/><rect x="8" y="26" width="1.04" height="1.04" fill="#7ed957"/><rect x="9" y="26" width="1.04" height="1.04" fill="#7ed957"/><rect x="10" y="26" width="1.04" height="1.04" fill="#7ed957"/><rect x="11" y="26" width="1.04" height="1.04" fill="#7ed957"/><rect x="12" y="26" width="1.04" height="1.04" fill="#7ed957"/><rect x="13" y="26" width="1.04" height="1.04" fill="#84db53"/><rect x="14" y="26" width="1.04" height="1.04" fill="#7ed957"/><rect x="15" y="26" width="1.04" height="1.04" fill="#7ed957"/><rect x="16" y="26" width="1.04" height="1.04" fill="#7ed957"/><rect x="17" y="26" width="1.04" height="1.04" fill="#7ed957"/><rect x="18" y="26" width="1.04" height="1.04" fill="#7ed957"/><rect x="19" y="26" width="1.04" height="1.04" fill="#7ed957"/><rect x="5" y="27" width="1.04" height="1.04" fill="#90d743"/><rect x="6" y="27" width="1.04" height="1.04" fill="#7ed957"/><rect x="7" y="27" width="1.04" height="1.04" fill="#78d65b"/><rect x="8" y="27" width="1.04" height="1.04" fill="#7ed957"/><rect x="9" y="27" width="1.04" height="1.04" fill="#7ed957"/><rect x="10" y="27" width="1.04" height="1.04" fill="#7ed957"/><rect x="11" y="27" width="1.04" height="1.04" fill="#7ed957"/><rect x="12" y="27" width="1.04" height="1.04" fill="#7ed957"/><rect x="13" y="27" width="1.04" height="1.04" fill="#84db53"/><rect x="14" y="27" width="1.04" height="1.04" fill="#7ed957"/><rect x="15" y="27" width="1.04" height="1.04" fill="#7ed957"/><rect x="16" y="27" width="1.04" height="1.04" fill="#7ed957"/><rect x="17" y="27" width="1.04" height="1.04" fill="#7ed957"/><rect x="18" y="27" width="1.04" height="1.04" fill="#84db53"/><rect x="19" y="27" width="1.04" height="1.04" fill="#84db53"/><rect x="5" y="28" width="1.04" height="1.04" fill="#5ec962"/><rect x="6" y="28" width="1.04" height="1.04" fill="#7ed957"/><rect x="7" y="28" width="1.04" height="1.04" fill="#90d743"/><rect x="8" y="28" width="1.04" height="1.04" fill="#7ed957"/><rect x="9" y="28" width="1.04" height="1.04" fill="#5ec962"/><rect x="10" y="28" width="1.04" height="1.04" fill="#7ed957"/><rect x="11" y="28" width="1.04" height="1.04" fill="#78d65b"/><rect x="12" y="28" width="1.04" height="1.04" fill="#7ed957"/><rect x="13" y="28" width="1.04" height="1.04" fill="#82da55"/><rect x="14" y="28" width="1.04" height="1.04" fill="#7ed957"/><rect x="15" y="28" width="1.04" height="1.04" fill="#84db53"/><rect x="16" y="28" width="1.04" height="1.04" fill="#7ed957"/><rect x="17" y="28" width="1.04" height="1.04" fill="#7ed957"/><rect x="18" y="28" width="1.04" height="1.04" fill="#7ed957"/><rect x="19" y="28" width="1.04" height="1.04" fill="#7ed957"/><rect x="5" y="29" width="1.04" height="1.04" fill="#35b779"/><rect x="6" y="29" width="1.04" height="1.04" fill="#7ed957"/><rect x="7" y="29" width="1.04" height="1.04" fill="#7ed957"/><rect x="8" y="29" width="1.04" height="1.04" fill="#6ece58"/><rect x="9" y="29" width="1.04" height="1.04" fill="#6ece58"/><rect x="10" y="29" width="1.04" height="1.04" fill="#6ece58"/><rect x="11" y="29" width="1.04" height="1.04" fill="#90d743"/><rect x="12" y="29" width="1.04" height="1.04" fill="#6ece58"/><rect x="13" y="29" width="1.04" height="1.04" fill="#6ece58"/><rect x="14" y="29" width="1.04" height="1.04" fill="#7ed957"/><rect x="15" y="29" width="1.04" height="1.04" fill="#7ed957"/><rect x="16" y="29" width="1.04" height="1.04" fill="#6ece58"/><rect x="17" y="29" width="1.04" height="1.04" fill="#7ed957"/><rect x="18" y="29" width="1.04" height="1.04" fill="#82da55"/><rect x="19" y="29" width="1.04" height="1.04" fill="#7ed957"/><rect x="5" y="30" width="1.04" height="1.04" fill="#7ed957"/><rect x="6" y="30" width="1.04" height="1.04" fill="#7ed957"/><rect x="7" y="30" width="1.04" height="1.04" fill="#84db53"/><rect x="8" y="30" width="1.04" height="1.04" fill="#90d743"/><rect x="9" y="30" width="1.04" height="1.04" fill="#90d743"/><rect x="10" y="30" width="1.04" height="1.04" fill="#7ed957"/><rect x="11" y="30" width="1.04" height="1.04" fill="#84db53"/><rect x="12" y="30" width="1.04" height="1.04" fill="#90d743"/><rect x="13" y="30" width="1.04" height="1.04" fill="#7ed957"/><rect x="14" y="30" width="1.04" height="1.04" fill="#7ed957"/><rect x="15" y="30" width="1.04" height="1.04" fill="#82da55"/><rect x="16" y="30" width="1.04" height="1.04" fill="#84db53"/><rect x="17" y="30" width="1.04" height="1.04" fill="#84db53"/><rect x="18" y="30" width="1.04" height="1.04" fill="#6ece58"/><rect x="19" y="30" width="1.04" height="1.04" fill="#78d65b"/><rect x="5" y="31" width="1.04" height="1.04" fill="#a5db36"/><rect x="6" y="31" width="1.04" height="1.04" fill="#6ece58"/><rect x="7" y="31" width="1.04" height="1.04" fill="#78d65b"/><rect x="8" y="31" width="1.04" height="1.04" fill="#7ed957"/><rect x="9" y="31" width="1.04" height="1.04" fill="#7ed957"/><rect x="10" y="31" width="1.04" height="1.04" fill="#7ed957"/><rect x="11" y="31" width="1.04" height="1.04" fill="#7ed957"/><rect x="12" y="31" width="1.04" height="1.04" fill="#7ed957"/><rect x="13" y="31" width="1.04" height="1.04" fill="#7ed957"/><rect x="14" y="31" width="1.04" height="1.04" fill="#6ece58"/><rect x="15" y="31" width="1.04" height="1.04" fill="#6ece58"/><rect x="16" y="31" width="1.04" height="1.04" fill="#7ed957"/><rect x="17" y="31" width="1.04" height="1.04" fill="#7ed957"/><rect x="18" y="31" width="1.04" height="1.04" fill="#90d743"/><rect x="19" y="31" width="1.04" height="1.04" fill="#7ed957"/><rect x="5" y="32" width="1.04" height="1.04" fill="#35b779"/><rect x="6" y="32" width="1.04" height="1.04" fill="#bddf26"/><rect x="7" y="32" width="1.04" height="1.04" fill="#78d65b"/><rect x="8" y="32" width="1.04" height="1.04" fill="#84db53"/><rect x="9" y="32" width="1.04" height="1.04" fill="#84db53"/><rect x="10" y="32" width="1.04" height="1.04" fill="#7ed957"/><rect x="11" y="32" width="1.04" height="1.04" fill="#82da55"/><rect x="12" y="32" width="1.04" height="1.04" fill="#7ed957"/><rect x="13" y="32" width="1.04" height="1.04" fill="#90d743"/><rect x="14" y="32" width="1.04" height="1.04" fill="#7ed957"/><rect x="15" y="32" width="1.04" height="1.04" fill="#78d65b"/><rect x="16" y="32" width="1.04" height="1.04" fill="#84db53"/><rect x="17" y="32" width="1.04" height="1.04" fill="#7ed957"/><rect x="18" y="32" width="1.04" height="1.04" fill="#7ed957"/><rect x="19" y="32" width="1.04" height="1.04" fill="#35b779"/></g>
<polygon points="1213.7,487.2 1222.2,486.1 1220.8,523.9 1212.2,524.9" fill="#46327e"/>
<polygon points="1213.7,505.5 1221.8,504.5 1220.8,523.9 1212.2,524.9" fill="#440154"/>
<defs>
<radialGradient id="gApple" cx="0.45" cy="0.35" r="0.75"><stop offset="0" stop-color="#e2555a"/><stop offset="0.55" stop-color="#c9434c"/><stop offset="1" stop-color="#8f3b49"/></radialGradient>
<radialGradient id="gLime" cx="0.4" cy="0.35" r="0.75"><stop offset="0" stop-color="#7fd24a"/><stop offset="0.5" stop-color="#4fb532"/><stop offset="1" stop-color="#2b7a2a"/></radialGradient>
<radialGradient id="gBlue" cx="0.45" cy="0.3" r="0.8"><stop offset="0" stop-color="#3a9fd0"/><stop offset="0.5" stop-color="#2c77a8"/><stop offset="1" stop-color="#243f66"/></radialGradient>
<filter id="blur6" x="-20%" y="-50%" width="140%" height="200%"><feGaussianBlur stdDeviation="5"/></filter>
<filter id="blur2"><feGaussianBlur stdDeviation="1.6"/></filter>
</defs>
<polygon points="1459.8,501.5 1531.7,474.1 1583.5,442.5 1583.5,471.3 1549.0,494.3 1482.8,508.7" fill="#6f8785" filter="url(#blur6)" opacity="0.75"/>
<polygon points="1397.9,501.5 1422.3,491.4 1462.6,497.2 1459.8,507.2 1410.8,510.1" fill="#c98c8c" filter="url(#blur6)" opacity="0.8"/>
<polygon points="1511.6,465.5 1549.0,454.0 1572.0,445.4 1560.5,462.6 1525.9,471.3" fill="#4a7a86" filter="url(#blur6)" opacity="0.7"/>
<ellipse cx="1549.5" cy="396.4" rx="36.0" ry="69.1" transform="rotate(8 1549.5 396.4)" fill="url(#gBlue)"/>
<path d="M1532.7,334.2 q4,-14 10,-6 q4,-10 10,0 q8,-10 10,6 q-14,10 -30,0z" fill="#dfe9ee" opacity="0.9"/>
<ellipse cx="1543.2" cy="344.6" rx="14" ry="9" fill="#1d5e8a"/>
<ellipse cx="1431.0" cy="412.3" rx="49.5" ry="85.8" transform="rotate(10 1431.0 412.3)" fill="url(#gApple)"/>
<ellipse cx="1399.3" cy="376.3" rx="9" ry="32" transform="rotate(18 1399.3 376.3)" fill="#f3dada" opacity="0.75" filter="url(#blur2)"/>
<ellipse cx="1449.7" cy="340.3" rx="20" ry="8" transform="rotate(-20 1449.7 340.3)" fill="#f0cfd0" opacity="0.7" filter="url(#blur2)"/>
<path d="M1436.2,348.9 Q1434.2,330.9 1424.6,318.2" stroke="#8a3a32" stroke-width="4.5" fill="none" stroke-linecap="round"/>
<ellipse cx="1480.5" cy="419.5" rx="46.0" ry="82.0" transform="rotate(9 1480.5 419.5)" fill="url(#gLime)"/>
<ellipse cx="1488.5" cy="338.3" rx="9" ry="6" fill="#57b83a"/>
<ellipse cx="1449.7" cy="390.7" rx="7" ry="26" transform="rotate(15 1449.7 390.7)" fill="#e6f0dc" opacity="0.6" filter="url(#blur2)"/>
<path d="M1214.1,817.1C1212.8,816.1 1234.8,815.4 1244.6,813.8C1254.3,812.2 1262.8,811.0 1272.6,807.4C1282.4,803.8 1293.0,797.7 1303.2,792.2C1313.4,786.7 1323.6,780.7 1333.8,774.3C1344.0,767.9 1353.7,760.3 1364.3,753.9C1374.9,747.5 1385.5,741.6 1397.4,736.1C1409.3,730.6 1422.9,725.5 1435.6,720.8C1448.3,716.1 1463.2,711.2 1473.8,708.1C1484.4,705.0 1490.8,703.5 1499.3,702.2C1507.8,700.9 1516.3,699.9 1524.8,700.5C1533.3,701.1 1543.5,703.1 1550.3,705.6C1557.1,708.1 1561.5,711.9 1565.5,715.7C1569.5,719.5 1572.5,724.0 1574.5,728.5C1576.5,733.0 1578.6,741.6 1577.5,742.5C1576.4,743.4 1572.2,736.6 1568.1,733.6C1564.0,730.6 1557.9,726.8 1552.8,724.7C1547.7,722.6 1544.3,721.0 1537.5,720.8C1530.7,720.6 1520.5,721.9 1512.0,723.4C1503.5,724.9 1495.9,726.8 1486.6,729.8C1477.3,732.8 1466.6,736.8 1456.0,741.2C1445.4,745.7 1433.9,750.5 1422.9,756.5C1411.9,762.5 1400.4,770.1 1389.8,776.9C1379.2,783.7 1369.4,791.3 1359.2,797.2C1349.0,803.1 1337.2,808.9 1328.7,812.5C1320.2,816.1 1316.0,817.5 1308.3,818.9C1300.6,820.3 1292.1,820.6 1282.8,820.7C1273.5,820.8 1263.8,820.3 1252.3,819.7C1240.8,819.1 1215.4,818.1 1214.1,817.1Z" fill="#b9d7ca"/>
<path d="M1171.3,901.7C1175.5,898.5 1194.2,889.8 1206.4,883.8C1218.6,877.8 1231.9,871.9 1244.6,866.0C1257.3,860.1 1271.3,853.7 1282.8,848.2C1294.3,842.7 1304.1,837.6 1313.4,832.9C1322.8,828.1 1331.3,821.6 1338.9,819.7C1346.5,817.8 1353.3,820.4 1359.2,821.4C1365.1,822.4 1369.4,825.1 1374.5,825.8C1379.6,826.4 1383.8,826.0 1389.8,825.3C1395.8,824.6 1402.6,823.1 1410.2,821.4C1417.8,819.7 1427.5,817.0 1435.6,815.1C1443.7,813.2 1453.9,810.1 1458.6,810.0C1463.3,809.9 1461.6,812.9 1463.7,814.6C1465.8,816.3 1467.5,818.9 1471.3,820.2C1475.1,821.5 1480.6,822.6 1486.6,822.2C1492.5,821.8 1500.2,819.6 1507.0,817.6C1513.8,815.6 1520.5,812.5 1527.3,810.0C1534.1,807.5 1540.9,804.3 1547.7,802.3C1554.5,800.3 1561.3,798.6 1568.1,797.8C1574.9,796.9 1583.4,796.8 1588.5,797.2C1593.6,797.6 1596.6,798.8 1598.6,800.3C1600.6,801.8 1600.9,803.3 1600.7,806.2C1600.5,809.1 1599.0,812.7 1597.4,817.6C1595.8,822.5 1593.8,829.5 1591.0,835.5C1588.2,841.5 1584.6,847.8 1580.8,853.3C1577.0,858.8 1571.5,864.4 1568.1,868.6C1564.7,872.9 1558.3,877.0 1560.4,878.8C1562.5,880.6 1577.0,878.7 1580.8,879.5C1584.5,880.3 1584.2,882.4 1582.9,883.8C1581.6,885.2 1579.1,886.8 1573.2,887.7C1567.3,888.6 1552.6,890.9 1547.7,889.4C1542.8,887.9 1543.9,884.0 1543.9,878.8C1543.9,873.6 1545.8,864.8 1547.7,858.4C1549.6,852.0 1553.2,845.8 1555.3,840.5C1557.4,835.2 1561.2,828.4 1560.4,826.5C1559.6,824.6 1555.4,827.2 1550.3,829.1C1545.2,831.0 1537.1,835.0 1529.9,838.0C1522.7,841.0 1515.1,844.4 1507.0,846.9C1498.9,849.4 1489.2,852.2 1481.5,852.8C1473.8,853.4 1467.0,851.0 1461.1,850.7C1455.1,850.4 1450.9,850.4 1445.8,851.2C1440.7,852.1 1437.3,854.4 1430.5,855.8C1423.7,857.2 1413.6,859.2 1405.1,859.6C1396.6,860.0 1387.2,859.9 1379.6,858.4C1371.9,856.9 1365.6,853.2 1359.2,850.7C1352.8,848.2 1347.3,843.8 1341.4,843.6C1335.5,843.4 1333.4,845.3 1323.6,849.5C1313.8,853.7 1296.0,862.9 1282.8,868.6C1269.6,874.3 1257.3,879.1 1244.6,883.8C1231.9,888.5 1217.0,893.4 1206.4,896.6C1195.8,899.8 1186.8,902.0 1180.9,902.9C1175.1,903.8 1167.0,904.9 1171.3,901.7Z" fill="#b9d7ca"/>
<circle cx="1371.5" cy="697.1" r="32.3" fill="#b9d7ca"/>
<!-- b_text0 -->
<text x="1066.3" y="110.9" font-size="82" fill="#000" >b</text>
<text x="1157.1" y="168.5" font-size="64" fill="#000" >Static perception</text>
<text x="1155.8" y="631.7" font-size="64" fill="#000" >Dynamic perception</text>
<!-- b_tube -->
<polygon points="2344.8,640.9 2359.3,643.4 2379.2,646.8 2402.7,650.6 2428.3,654.6 2454.2,658.3 2481.3,661.7 2510.5,665.3 2541.1,668.8 2572.1,672.1 2602.9,675.1 2633.7,677.9 2665.0,680.4 2696.3,682.8 2727.3,684.8 2757.5,686.5 2786.6,687.8 2815.0,688.8 2843.0,689.5 2871.2,689.9 2899.9,690.0 2929.2,689.8 2958.8,689.3 2988.7,688.6 3018.7,687.6 3048.7,686.5 3079.3,685.3 3110.7,683.8 3141.8,682.2 3171.3,680.6 3198.0,679.1 3221.0,677.6 3241.2,676.1 3259.9,674.7 3278.3,673.2 3297.5,671.6 3319.0,669.8 3342.2,667.9 3364.5,665.9 3383.7,664.3 3397.4,663.1 3397.6,666.0 3384.0,667.2 3364.8,668.9 3342.4,670.8 3319.3,672.8 3297.7,674.6 3278.5,676.1 3260.1,677.6 3241.5,679.1 3221.2,680.6 3198.2,682.1 3171.5,683.6 3142.0,685.3 3110.9,686.9 3079.4,688.4 3048.8,689.7 3018.9,690.8 2988.8,691.7 2958.9,692.5 2929.2,693.0 2899.9,693.2 2871.2,693.1 2843.0,692.7 2814.9,692.0 2786.5,691.1 2757.4,689.8 2727.1,688.1 2696.1,686.0 2664.7,683.7 2633.4,681.1 2602.6,678.4 2571.8,675.4 2540.7,672.1 2510.1,668.6 2480.9,665.1 2453.8,661.6 2427.8,658.0 2402.2,654.0 2378.6,650.2 2358.7,646.8 2344.3,644.4" fill="#c5c5c5"/>
<polygon points="2344.4,643.5 2358.8,646.0 2378.7,649.3 2402.3,653.2 2427.9,657.2 2453.9,660.8 2481.0,664.3 2510.2,667.8 2540.8,671.3 2571.9,674.6 2602.7,677.6 2633.5,680.3 2664.8,682.9 2696.2,685.3 2727.2,687.3 2757.4,689.0 2786.5,690.3 2814.9,691.3 2843.0,691.9 2871.2,692.3 2899.9,692.4 2929.2,692.2 2958.9,691.7 2988.8,691.0 3018.8,690.0 3048.8,688.9 3079.4,687.7 3110.8,686.2 3141.9,684.6 3171.4,682.9 3198.1,681.4 3221.2,679.9 3241.4,678.4 3260.1,676.9 3278.4,675.4 3297.6,673.9 3319.2,672.1 3342.4,670.1 3364.7,668.2 3384.0,666.5 3397.6,665.3 3397.8,668.3 3384.2,669.4 3365.0,671.1 3342.6,673.0 3319.5,675.0 3297.9,676.8 3278.7,678.4 3260.3,679.9 3241.6,681.4 3221.4,682.9 3198.3,684.4 3171.6,686.0 3142.1,687.6 3111.0,689.3 3079.5,690.8 3048.9,692.0 3018.9,693.1 2988.9,694.1 2958.9,694.9 2929.2,695.4 2899.9,695.6 2871.1,695.5 2842.9,695.1 2814.8,694.5 2786.4,693.5 2757.2,692.2 2727.0,690.5 2696.0,688.5 2664.5,686.2 2633.2,683.6 2602.4,680.9 2571.6,677.9 2540.5,674.6 2509.9,671.1 2480.6,667.6 2453.5,664.2 2427.5,660.5 2401.8,656.6 2378.2,652.7 2358.3,649.4 2343.9,647.0" fill="#cacaca"/>
<polygon points="2344.0,646.2 2358.4,648.6 2378.3,651.9 2401.9,655.8 2427.6,659.7 2453.6,663.4 2480.7,666.8 2509.9,670.3 2540.5,673.8 2571.6,677.1 2602.4,680.1 2633.3,682.8 2664.6,685.4 2696.0,687.7 2727.0,689.8 2757.3,691.5 2786.5,692.7 2814.9,693.7 2843.0,694.4 2871.2,694.7 2899.9,694.8 2929.2,694.7 2958.9,694.1 2988.9,693.4 3018.9,692.4 3048.9,691.3 3079.5,690.1 3111.0,688.5 3142.1,686.9 3171.6,685.2 3198.3,683.7 3221.4,682.2 3241.6,680.7 3260.3,679.2 3278.6,677.7 3297.8,676.1 3319.4,674.3 3342.6,672.3 3365.0,670.4 3384.2,668.7 3397.8,667.6 3398.0,670.5 3384.4,671.6 3365.2,673.3 3342.8,675.3 3319.7,677.3 3298.1,679.1 3278.9,680.7 3260.5,682.2 3241.8,683.7 3221.6,685.2 3198.5,686.7 3171.8,688.3 3142.2,690.0 3111.1,691.6 3079.7,693.2 3049.0,694.4 3019.0,695.5 2989.0,696.5 2959.0,697.3 2929.3,697.8 2899.9,698.0 2871.1,697.9 2842.9,697.6 2814.8,696.9 2786.3,696.0 2757.1,694.7 2726.9,693.0 2695.8,691.0 2664.4,688.6 2633.0,686.1 2602.1,683.4 2571.3,680.4 2540.2,677.1 2509.6,673.7 2480.3,670.2 2453.2,666.7 2427.1,663.1 2401.4,659.2 2377.8,655.3 2357.9,652.0 2343.5,649.6" fill="#d0d0d0"/>
<polygon points="2343.6,648.8 2358.0,651.2 2377.9,654.5 2401.6,658.4 2427.2,662.3 2453.3,665.9 2480.4,669.4 2509.7,672.9 2540.3,676.3 2571.4,679.6 2602.2,682.6 2633.1,685.3 2664.4,687.9 2695.8,690.2 2726.9,692.2 2757.2,693.9 2786.4,695.2 2814.8,696.2 2842.9,696.8 2871.1,697.2 2899.9,697.3 2929.3,697.1 2959.0,696.6 2988.9,695.8 3019.0,694.8 3049.0,693.7 3079.6,692.4 3111.1,690.9 3142.2,689.2 3171.7,687.6 3198.5,686.0 3221.5,684.4 3241.8,683.0 3260.5,681.5 3278.8,680.0 3298.0,678.4 3319.6,676.6 3342.8,674.6 3365.2,672.6 3384.4,670.9 3398.0,669.8 3398.2,672.7 3384.6,673.9 3365.4,675.6 3343.0,677.5 3319.9,679.5 3298.3,681.4 3279.1,682.9 3260.7,684.5 3242.0,686.0 3221.7,687.5 3198.7,689.0 3171.9,690.6 3142.4,692.3 3111.3,694.0 3079.8,695.5 3049.1,696.8 3019.1,697.9 2989.0,698.9 2959.1,699.7 2929.3,700.2 2899.9,700.4 2871.1,700.4 2842.9,700.0 2814.7,699.4 2786.2,698.4 2757.0,697.1 2726.7,695.5 2695.6,693.4 2664.2,691.1 2632.8,688.6 2601.9,685.9 2571.1,682.9 2539.9,679.6 2509.3,676.2 2480.0,672.7 2452.8,669.3 2426.7,665.7 2401.0,661.7 2377.4,657.9 2357.5,654.6 2343.1,652.2" fill="#d8d8d8"/>
<polygon points="2343.2,651.4 2357.6,653.8 2377.5,657.1 2401.2,660.9 2426.9,664.9 2452.9,668.5 2480.1,671.9 2509.4,675.4 2540.0,678.8 2571.2,682.1 2602.0,685.1 2632.8,687.8 2664.2,690.3 2695.7,692.7 2726.8,694.7 2757.0,696.4 2786.3,697.7 2814.7,698.6 2842.9,699.2 2871.1,699.6 2899.9,699.7 2929.3,699.5 2959.0,699.0 2989.0,698.2 3019.1,697.2 3049.1,696.1 3079.7,694.8 3111.2,693.2 3142.3,691.6 3171.9,689.9 3198.6,688.3 3221.7,686.7 3242.0,685.2 3260.7,683.8 3279.0,682.2 3298.2,680.7 3319.8,678.8 3343.0,676.8 3365.4,674.9 3384.6,673.2 3398.2,672.0 3398.4,674.9 3384.8,676.1 3365.6,677.8 3343.2,679.8 3320.1,681.8 3298.5,683.6 3279.3,685.2 3260.9,686.7 3242.2,688.2 3221.9,689.7 3198.8,691.3 3172.1,692.9 3142.5,694.6 3111.4,696.3 3079.9,697.9 3049.2,699.2 3019.2,700.3 2989.1,701.3 2959.1,702.1 2929.3,702.7 2899.9,702.9 2871.1,702.8 2842.8,702.4 2814.7,701.8 2786.2,700.9 2756.9,699.6 2726.6,697.9 2695.5,695.9 2664.0,693.6 2632.6,691.1 2601.7,688.4 2570.8,685.4 2539.7,682.1 2509.0,678.7 2479.7,675.3 2452.5,671.8 2426.4,668.2 2400.7,664.3 2377.0,660.5 2357.1,657.2 2342.7,654.8" fill="#e3e3e3"/>
<polygon points="2342.8,654.0 2357.2,656.4 2377.1,659.7 2400.8,663.5 2426.5,667.4 2452.6,671.0 2479.8,674.5 2509.1,677.9 2539.8,681.3 2570.9,684.6 2601.8,687.6 2632.6,690.3 2664.0,692.8 2695.5,695.1 2726.6,697.2 2756.9,698.8 2786.2,700.1 2814.7,701.0 2842.8,701.7 2871.1,702.0 2899.9,702.1 2929.3,701.9 2959.1,701.4 2989.1,700.6 3019.2,699.6 3049.2,698.4 3079.9,697.1 3111.4,695.6 3142.5,693.9 3172.0,692.2 3198.8,690.6 3221.9,689.0 3242.1,687.5 3260.9,686.0 3279.2,684.5 3298.4,682.9 3320.0,681.1 3343.2,679.1 3365.6,677.1 3384.8,675.4 3398.4,674.2 3398.6,677.1 3385.0,678.3 3365.8,680.0 3343.4,682.0 3320.3,684.1 3298.7,685.9 3279.5,687.5 3261.1,689.0 3242.4,690.5 3222.1,692.0 3199.0,693.6 3172.2,695.2 3142.7,697.0 3111.5,698.7 3080.0,700.3 3049.3,701.6 3019.3,702.7 2989.2,703.7 2959.2,704.5 2929.4,705.1 2899.9,705.3 2871.1,705.2 2842.8,704.9 2814.6,704.3 2786.1,703.3 2756.8,702.1 2726.4,700.4 2695.3,698.4 2663.8,696.1 2632.4,693.5 2601.5,690.8 2570.6,687.9 2539.4,684.6 2508.7,681.3 2479.4,677.8 2452.2,674.4 2426.0,670.8 2400.3,666.9 2376.6,663.1 2356.7,659.8 2342.2,657.5" fill="#eeeeee"/>
<polygon points="2342.4,656.6 2356.8,659.0 2376.7,662.3 2400.4,666.1 2426.1,670.0 2452.3,673.6 2479.5,677.0 2508.8,680.5 2539.5,683.9 2570.7,687.1 2601.6,690.1 2632.4,692.8 2663.9,695.3 2695.3,697.6 2726.5,699.6 2756.8,701.3 2786.1,702.6 2814.6,703.5 2842.8,704.1 2871.1,704.5 2899.9,704.5 2929.4,704.3 2959.2,703.8 2989.2,703.0 3019.3,702.0 3049.3,700.8 3080.0,699.5 3111.5,697.9 3142.6,696.2 3172.2,694.5 3198.9,692.9 3222.0,691.3 3242.3,689.8 3261.0,688.3 3279.4,686.8 3298.6,685.2 3320.2,683.4 3343.4,681.3 3365.8,679.3 3385.0,677.6 3398.6,676.4 3398.8,679.4 3385.2,680.6 3366.0,682.3 3343.6,684.3 3320.5,686.3 3298.9,688.1 3279.7,689.8 3261.3,691.3 3242.6,692.8 3222.2,694.3 3199.1,695.9 3172.4,697.6 3142.8,699.3 3111.7,701.0 3080.1,702.6 3049.4,703.9 3019.4,705.1 2989.3,706.1 2959.2,706.9 2929.4,707.5 2899.9,707.7 2871.1,707.6 2842.8,707.3 2814.5,706.7 2786.0,705.8 2756.7,704.5 2726.3,702.9 2695.1,700.9 2663.6,698.6 2632.2,696.0 2601.3,693.3 2570.4,690.4 2539.2,687.2 2508.5,683.8 2479.1,680.3 2451.9,677.0 2425.7,673.4 2399.9,669.5 2376.2,665.7 2356.2,662.4 2341.8,660.1" fill="#f9f9f9"/>
<polygon points="2342.0,659.3 2356.4,661.6 2376.3,664.9 2400.0,668.7 2425.8,672.6 2452.0,676.2 2479.2,679.5 2508.5,683.0 2539.2,686.4 2570.4,689.6 2601.3,692.6 2632.2,695.2 2663.7,697.8 2695.2,700.1 2726.3,702.1 2756.7,703.7 2786.0,705.0 2814.6,705.9 2842.8,706.6 2871.1,706.9 2899.9,707.0 2929.4,706.7 2959.2,706.2 2989.3,705.4 3019.4,704.4 3049.4,703.2 3080.1,701.9 3111.6,700.3 3142.8,698.6 3172.3,696.8 3199.1,695.2 3222.2,693.6 3242.5,692.1 3261.2,690.6 3279.6,689.0 3298.8,687.4 3320.4,685.6 3343.6,683.6 3366.0,681.6 3385.2,679.9 3398.8,678.7 3399.1,681.6 3385.4,682.8 3366.2,684.5 3343.8,686.5 3320.7,688.6 3299.1,690.4 3279.9,692.0 3261.5,693.6 3242.7,695.1 3222.4,696.6 3199.3,698.2 3172.5,699.9 3142.9,701.6 3111.8,703.4 3080.2,705.0 3049.5,706.3 3019.5,707.5 2989.4,708.5 2959.3,709.3 2929.4,709.9 2900.0,710.1 2871.1,710.1 2842.7,709.8 2814.5,709.1 2785.9,708.2 2756.5,707.0 2726.1,705.3 2695.0,703.3 2663.4,701.0 2632.0,698.5 2601.0,695.8 2570.1,692.9 2538.9,689.7 2508.2,686.3 2478.8,682.9 2451.5,679.5 2425.3,675.9 2399.5,672.1 2375.8,668.3 2355.8,665.0 2341.4,662.7" fill="#ffffff"/>
<polygon points="2341.6,661.9 2356.0,664.2 2375.9,667.5 2399.6,671.3 2425.4,675.1 2451.6,678.7 2478.9,682.1 2508.3,685.5 2539.0,688.9 2570.2,692.1 2601.1,695.0 2632.0,697.7 2663.5,700.3 2695.0,702.6 2726.2,704.6 2756.6,706.2 2785.9,707.5 2814.5,708.4 2842.7,709.0 2871.1,709.3 2899.9,709.4 2929.4,709.1 2959.3,708.6 2989.3,707.8 3019.5,706.7 3049.5,705.6 3080.2,704.2 3111.7,702.6 3142.9,700.9 3172.5,699.1 3199.2,697.5 3222.4,695.9 3242.7,694.4 3261.4,692.9 3279.8,691.3 3299.0,689.7 3320.6,687.9 3343.8,685.8 3366.2,683.8 3385.4,682.1 3399.0,680.9 3399.3,683.8 3385.6,685.0 3366.4,686.8 3344.1,688.8 3320.9,690.8 3299.3,692.7 3280.1,694.3 3261.7,695.9 3242.9,697.4 3222.6,698.9 3199.4,700.5 3172.7,702.2 3143.1,704.0 3111.9,705.7 3080.4,707.4 3049.6,708.7 3019.6,709.9 2989.4,710.9 2959.4,711.7 2929.5,712.3 2900.0,712.6 2871.1,712.5 2842.7,712.2 2814.4,711.6 2785.8,710.7 2756.4,709.4 2726.0,707.8 2694.8,705.8 2663.2,703.5 2631.8,701.0 2600.8,698.3 2569.9,695.4 2538.6,692.2 2507.9,688.8 2478.5,685.4 2451.2,682.1 2424.9,678.5 2399.1,674.6 2375.4,670.9 2355.4,667.6 2341.0,665.3" fill="#ffffff"/>
<polygon points="2341.1,664.5 2355.5,666.8 2375.5,670.1 2399.2,673.8 2425.0,677.7 2451.3,681.3 2478.6,684.6 2508.0,688.1 2538.7,691.4 2570.0,694.6 2600.9,697.5 2631.8,700.2 2663.3,702.7 2694.8,705.0 2726.0,707.0 2756.5,708.7 2785.8,709.9 2814.4,710.8 2842.7,711.4 2871.1,711.8 2900.0,711.8 2929.5,711.6 2959.3,711.0 2989.4,710.2 3019.5,709.1 3049.6,708.0 3080.3,706.6 3111.9,705.0 3143.0,703.2 3172.6,701.5 3199.4,699.8 3222.5,698.2 3242.9,696.7 3261.6,695.1 3280.0,693.6 3299.2,692.0 3320.8,690.1 3344.0,688.1 3366.4,686.1 3385.6,684.3 3399.2,683.1 3399.5,686.0 3385.9,687.2 3366.7,689.0 3344.3,691.0 3321.1,693.1 3299.5,694.9 3280.3,696.6 3261.9,698.1 3243.1,699.7 3222.7,701.2 3199.6,702.8 3172.8,704.5 3143.2,706.3 3112.0,708.1 3080.5,709.7 3049.7,711.1 3019.7,712.3 2989.5,713.3 2959.4,714.2 2929.5,714.7 2900.0,715.0 2871.0,714.9 2842.6,714.6 2814.3,714.0 2785.7,713.1 2756.3,711.9 2725.9,710.3 2694.6,708.3 2663.0,706.0 2631.6,703.5 2600.6,700.8 2569.6,697.9 2538.4,694.7 2507.6,691.4 2478.2,688.0 2450.9,684.6 2424.6,681.1 2398.7,677.2 2374.9,673.5 2355.0,670.2 2340.6,668.0" fill="#f1f1f1"/>
<polygon points="2340.7,667.1 2355.1,669.4 2375.1,672.7 2398.8,676.4 2424.7,680.3 2451.0,683.8 2478.3,687.2 2507.7,690.6 2538.5,693.9 2569.7,697.1 2600.7,700.0 2631.6,702.7 2663.1,705.2 2694.7,707.5 2725.9,709.5 2756.3,711.1 2785.7,712.4 2814.4,713.3 2842.7,713.9 2871.0,714.2 2900.0,714.2 2929.5,714.0 2959.4,713.4 2989.5,712.6 3019.6,711.5 3049.7,710.4 3080.4,709.0 3112.0,707.3 3143.2,705.6 3172.8,703.8 3199.5,702.1 3222.7,700.5 3243.1,699.0 3261.8,697.4 3280.2,695.9 3299.4,694.2 3321.0,692.4 3344.2,690.3 3366.6,688.3 3385.8,686.6 3399.4,685.3 3399.7,688.3 3386.1,689.5 3366.9,691.2 3344.5,693.3 3321.3,695.3 3299.7,697.2 3280.5,698.8 3262.1,700.4 3243.3,702.0 3222.9,703.5 3199.7,705.1 3173.0,706.8 3143.4,708.6 3112.2,710.4 3080.6,712.1 3049.8,713.5 3019.8,714.7 2989.6,715.7 2959.5,716.6 2929.6,717.1 2900.0,717.4 2871.0,717.4 2842.6,717.1 2814.3,716.5 2785.6,715.6 2756.2,714.3 2725.7,712.7 2694.5,710.7 2662.9,708.5 2631.4,706.0 2600.4,703.3 2569.4,700.4 2538.1,697.2 2507.3,693.9 2477.9,690.5 2450.5,687.2 2424.2,683.6 2398.3,679.8 2374.5,676.1 2354.6,672.9 2340.2,670.6" fill="#d8d8d8"/>
<polygon points="2340.3,669.8 2354.7,672.0 2374.7,675.3 2398.4,679.0 2424.3,682.8 2450.7,686.4 2478.0,689.7 2507.4,693.1 2538.2,696.4 2569.5,699.6 2600.4,702.5 2631.4,705.2 2662.9,707.7 2694.5,710.0 2725.8,712.0 2756.2,713.6 2785.7,714.8 2814.3,715.7 2842.6,716.3 2871.0,716.6 2900.0,716.7 2929.5,716.4 2959.5,715.8 2989.6,715.0 3019.7,713.9 3049.8,712.7 3080.6,711.3 3112.1,709.7 3143.3,707.9 3172.9,706.1 3199.7,704.4 3222.9,702.8 3243.2,701.2 3262.0,699.7 3280.4,698.1 3299.6,696.5 3321.2,694.6 3344.4,692.6 3366.8,690.5 3386.0,688.8 3399.6,687.6 3399.9,690.5 3386.3,691.7 3367.1,693.5 3344.7,695.5 3321.5,697.6 3299.9,699.4 3280.7,701.1 3262.3,702.7 3243.5,704.2 3223.1,705.8 3199.9,707.4 3173.1,709.1 3143.5,711.0 3112.3,712.8 3080.7,714.5 3049.9,715.9 3019.8,717.1 2989.7,718.1 2959.5,719.0 2929.6,719.6 2900.0,719.8 2871.0,719.8 2842.6,719.5 2814.2,718.9 2785.5,718.0 2756.1,716.8 2725.6,715.2 2694.3,713.2 2662.7,710.9 2631.1,708.4 2600.2,705.8 2569.2,702.9 2537.9,699.8 2507.1,696.4 2477.6,693.1 2450.2,689.7 2423.9,686.2 2397.9,682.4 2374.1,678.7 2354.2,675.5 2339.8,673.2" fill="#d3d3d3"/>
<polygon points="2339.9,672.4 2354.3,674.6 2374.3,677.8 2398.0,681.6 2424.0,685.4 2450.3,688.9 2477.7,692.3 2507.1,695.6 2537.9,699.0 2569.2,702.1 2600.2,705.0 2631.2,707.7 2662.7,710.2 2694.3,712.4 2725.6,714.4 2756.1,716.0 2785.6,717.3 2814.2,718.2 2842.6,718.7 2871.0,719.0 2900.0,719.1 2929.6,718.8 2959.5,718.2 2989.6,717.4 3019.8,716.3 3049.9,715.1 3080.7,713.7 3112.3,712.0 3143.5,710.2 3173.1,708.4 3199.8,706.7 3223.0,705.1 3243.4,703.5 3262.2,702.0 3280.6,700.4 3299.8,698.7 3321.4,696.9 3344.6,694.8 3367.0,692.8 3386.2,691.0 3399.8,689.8 3400.1,692.7 3386.5,693.9 3367.3,695.7 3344.9,697.7 3321.7,699.8 3300.1,701.7 3280.9,703.4 3262.5,705.0 3243.7,706.5 3223.3,708.1 3200.0,709.7 3173.2,711.5 3143.6,713.3 3112.4,715.1 3080.8,716.8 3050.0,718.2 3019.9,719.4 2989.7,720.5 2959.6,721.4 2929.6,722.0 2900.0,722.3 2871.0,722.2 2842.5,721.9 2814.2,721.4 2785.4,720.5 2756.0,719.3 2725.4,717.7 2694.1,715.7 2662.5,713.4 2630.9,710.9 2599.9,708.3 2568.9,705.4 2537.6,702.3 2506.8,699.0 2477.3,695.6 2449.9,692.3 2423.5,688.8 2397.5,684.9 2373.7,681.2 2353.8,678.1 2339.4,675.8" fill="#cecece"/>
<polygon points="2339.5,675.0 2353.9,677.3 2373.8,680.4 2397.7,684.1 2423.6,688.0 2450.0,691.5 2477.4,694.8 2506.9,698.2 2537.7,701.5 2569.0,704.6 2600.0,707.5 2631.0,710.1 2662.5,712.6 2694.2,714.9 2725.5,716.9 2756.0,718.5 2785.5,719.7 2814.2,720.6 2842.5,721.2 2871.0,721.5 2900.0,721.5 2929.6,721.2 2959.6,720.6 2989.7,719.8 3019.9,718.7 3050.0,717.5 3080.8,716.1 3112.4,714.4 3143.6,712.6 3173.2,710.7 3200.0,709.0 3223.2,707.4 3243.6,705.8 3262.4,704.2 3280.8,702.7 3300.0,701.0 3321.6,699.1 3344.8,697.0 3367.2,695.0 3386.4,693.2 3400.0,692.0 3400.3,694.9 3386.7,696.2 3367.5,697.9 3345.1,700.0 3321.9,702.1 3300.3,704.0 3281.1,705.6 3262.7,707.2 3243.8,708.8 3223.4,710.4 3200.2,712.0 3173.4,713.8 3143.8,715.6 3112.6,717.5 3081.0,719.2 3050.1,720.6 3020.0,721.8 2989.8,722.9 2959.6,723.8 2929.7,724.4 2900.0,724.7 2871.0,724.7 2842.5,724.4 2814.1,723.8 2785.4,722.9 2755.8,721.7 2725.3,720.1 2694.0,718.2 2662.3,715.9 2630.7,713.4 2599.7,710.8 2568.7,707.9 2537.3,704.8 2506.5,701.5 2477.0,698.1 2449.6,694.9 2423.1,691.3 2397.1,687.5 2373.3,683.8 2353.4,680.7 2339.0,678.4" fill="#cacaca"/>
<polygon points="2339.1,677.6 2353.5,679.9 2373.4,683.0 2397.3,686.7 2423.2,690.5 2449.7,694.1 2477.1,697.4 2506.6,700.7 2537.4,704.0 2568.7,707.1 2599.8,710.0 2630.8,712.6 2662.4,715.1 2694.0,717.4 2725.3,719.4 2755.9,721.0 2785.4,722.2 2814.1,723.1 2842.5,723.6 2871.0,723.9 2900.0,723.9 2929.7,723.6 2959.6,723.0 2989.8,722.2 3020.0,721.1 3050.1,719.9 3080.9,718.4 3112.5,716.8 3143.7,714.9 3173.3,713.1 3200.2,711.3 3223.4,709.7 3243.8,708.1 3262.6,706.5 3281.0,704.9 3300.2,703.3 3321.8,701.4 3345.0,699.3 3367.4,697.2 3386.6,695.5 3400.2,694.2 3400.5,697.1 3386.9,698.4 3367.7,700.2 3345.3,702.2 3322.1,704.3 3300.5,706.2 3281.3,707.9 3262.8,709.5 3244.0,711.1 3223.6,712.7 3200.4,714.3 3173.5,716.1 3143.9,718.0 3112.7,719.8 3081.1,721.6 3050.2,723.0 3020.1,724.2 2989.9,725.3 2959.7,726.2 2929.7,726.8 2900.0,727.1 2871.0,727.1 2842.5,726.8 2814.0,726.3 2785.3,725.4 2755.7,724.2 2725.1,722.6 2693.8,720.6 2662.1,718.4 2630.5,715.9 2599.5,713.3 2568.4,710.4 2537.1,707.3 2506.2,704.0 2476.7,700.7 2449.2,697.4 2422.8,693.9 2396.7,690.1 2372.9,686.4 2352.9,683.3 2338.6,681.1" fill="#c7c7c7"/>
<polygon points="2338.7,680.2 2353.1,682.5 2373.0,685.6 2396.9,689.3 2422.9,693.1 2449.3,696.6 2476.8,699.9 2506.3,703.2 2537.1,706.5 2568.5,709.6 2599.6,712.5 2630.6,715.1 2662.2,717.6 2693.8,719.9 2725.2,721.8 2755.8,723.4 2785.3,724.6 2814.1,725.5 2842.5,726.1 2871.0,726.3 2900.0,726.3 2929.7,726.1 2959.7,725.4 2989.9,724.6 3020.1,723.5 3050.2,722.3 3081.0,720.8 3112.7,719.1 3143.9,717.2 3173.5,715.4 3200.3,713.6 3223.5,712.0 3244.0,710.4 3262.8,708.8 3281.2,707.2 3300.4,705.5 3322.0,703.6 3345.2,701.5 3367.6,699.5 3386.8,697.7 3400.4,696.4 3400.7,699.4 3387.1,700.6 3367.9,702.4 3345.5,704.5 3322.3,706.6 3300.6,708.5 3281.4,710.2 3263.0,711.8 3244.2,713.4 3223.8,715.0 3200.5,716.6 3173.7,718.4 3144.1,720.3 3112.8,722.2 3081.2,723.9 3050.3,725.4 3020.2,726.6 2990.0,727.7 2959.8,728.6 2929.7,729.2 2900.0,729.5 2871.0,729.5 2842.4,729.3 2814.0,728.7 2785.2,727.8 2755.6,726.6 2725.0,725.1 2693.6,723.1 2661.9,720.8 2630.3,718.4 2599.3,715.7 2568.2,712.9 2536.8,709.8 2505.9,706.6 2476.4,703.2 2448.9,700.0 2422.4,696.5 2396.4,692.7 2372.5,689.0 2352.5,685.9 2338.1,683.7" fill="#c4c4c4"/>
<polygon points="2338.3,682.9 2352.7,685.1 2372.6,688.2 2396.5,691.9 2422.5,695.7 2449.0,699.2 2476.5,702.4 2506.0,705.8 2536.9,709.0 2568.3,712.1 2599.3,715.0 2630.4,717.6 2662.0,720.1 2693.7,722.3 2725.0,724.3 2755.7,725.9 2785.2,727.1 2814.0,727.9 2842.4,728.5 2871.0,728.8 2900.0,728.8 2929.7,728.5 2959.7,727.8 2989.9,727.0 3020.2,725.9 3050.3,724.6 3081.2,723.2 3112.8,721.5 3144.0,719.6 3173.6,717.7 3200.5,715.9 3223.7,714.3 3244.1,712.7 3263.0,711.1 3281.4,709.5 3300.6,707.8 3322.2,705.9 3345.4,703.8 3367.8,701.7 3387.0,699.9 3400.6,698.7 3400.9,701.6 3387.3,702.9 3368.1,704.6 3345.7,706.7 3322.5,708.8 3300.8,710.7 3281.6,712.4 3263.2,714.1 3244.4,715.7 3223.9,717.3 3200.7,718.9 3173.8,720.7 3144.2,722.6 3113.0,724.5 3081.3,726.3 3050.4,727.8 3020.3,729.0 2990.0,730.1 2959.8,731.0 2929.8,731.6 2900.0,731.9 2871.0,732.0 2842.4,731.7 2813.9,731.2 2785.1,730.3 2755.5,729.1 2724.9,727.5 2693.5,725.6 2661.7,723.3 2630.1,720.9 2599.0,718.2 2567.9,715.4 2536.5,712.3 2505.7,709.1 2476.1,705.8 2448.6,702.5 2422.0,699.0 2396.0,695.3 2372.1,691.6 2352.1,688.5 2337.7,686.3" fill="#bfbfbf"/>
<polygon points="2337.9,685.5 2352.2,687.7 2372.2,690.8 2396.1,694.5 2422.2,698.2 2448.7,701.7 2476.2,705.0 2505.7,708.3 2536.6,711.6 2568.0,714.6 2599.1,717.5 2630.2,720.1 2661.8,722.6 2693.5,724.8 2724.9,726.8 2755.5,728.3 2785.1,729.5 2813.9,730.4 2842.4,730.9 2871.0,731.2 2900.0,731.2 2929.8,730.9 2959.8,730.2 2990.0,729.4 3020.3,728.3 3050.4,727.0 3081.3,725.5 3112.9,723.8 3144.2,721.9 3173.8,720.0 3200.6,718.2 3223.9,716.6 3244.3,715.0 3263.2,713.4 3281.6,711.7 3300.8,710.0 3322.4,708.1 3345.6,706.0 3368.0,703.9 3387.2,702.2 3400.8,700.9 3401.1,703.8 3387.5,705.1 3368.3,706.9 3345.9,709.0 3322.7,711.1 3301.0,713.0 3281.8,714.7 3263.4,716.3 3244.6,717.9 3224.1,719.6 3200.8,721.2 3174.0,723.1 3144.3,725.0 3113.1,726.9 3081.4,728.6 3050.5,730.2 3020.4,731.4 2990.1,732.5 2959.9,733.4 2929.8,734.0 2900.1,734.4 2870.9,734.4 2842.3,734.1 2813.8,733.6 2785.0,732.8 2755.4,731.6 2724.7,730.0 2693.3,728.0 2661.6,725.8 2629.9,723.3 2598.8,720.7 2567.7,717.9 2536.3,714.9 2505.4,711.6 2475.8,708.3 2448.3,705.1 2421.7,701.6 2395.6,697.8 2371.7,694.2 2351.7,691.1 2337.3,688.9" fill="#bababa"/>
<polygon points="2337.4,688.1 2351.8,690.3 2371.8,693.4 2395.7,697.0 2421.8,700.8 2448.4,704.3 2475.9,707.5 2505.5,710.8 2536.4,714.1 2567.8,717.1 2598.9,720.0 2630.0,722.6 2661.6,725.0 2693.3,727.3 2724.8,729.2 2755.4,730.8 2785.0,732.0 2813.9,732.8 2842.4,733.4 2870.9,733.6 2900.1,733.6 2929.8,733.3 2959.9,732.7 2990.1,731.8 3020.4,730.7 3050.5,729.4 3081.4,727.9 3113.1,726.2 3144.3,724.3 3173.9,722.3 3200.8,720.5 3224.0,718.9 3244.5,717.2 3263.4,715.6 3281.8,714.0 3301.0,712.3 3322.6,710.4 3345.8,708.3 3368.2,706.2 3387.4,704.4 3401.0,703.1 3401.3,706.0 3387.7,707.3 3368.5,709.1 3346.1,711.2 3322.9,713.3 3301.2,715.3 3282.0,717.0 3263.6,718.6 3244.8,720.2 3224.3,721.9 3201.0,723.5 3174.1,725.4 3144.5,727.3 3113.2,729.2 3081.5,731.0 3050.6,732.5 3020.5,733.8 2990.2,734.9 2959.9,735.8 2929.8,736.5 2900.1,736.8 2870.9,736.8 2842.3,736.6 2813.8,736.0 2784.9,735.2 2755.3,734.0 2724.6,732.5 2693.1,730.5 2661.4,728.3 2629.7,725.8 2598.6,723.2 2567.5,720.4 2536.0,717.4 2505.1,714.1 2475.5,710.9 2447.9,707.6 2421.3,704.2 2395.2,700.4 2371.3,696.8 2351.3,693.7 2336.9,691.5" fill="#b5b5b5"/>
<polygon points="2337.0,690.7 2351.4,692.9 2371.4,696.0 2395.3,699.6 2421.4,703.4 2448.0,706.8 2475.6,710.1 2505.2,713.4 2536.1,716.6 2567.5,719.7 2598.7,722.4 2629.8,725.1 2661.4,727.5 2693.2,729.7 2724.6,731.7 2755.3,733.3 2784.9,734.4 2813.8,735.3 2842.3,735.8 2870.9,736.1 2900.1,736.0 2929.8,735.7 2959.9,735.1 2990.2,734.2 3020.4,733.0 3050.6,731.8 3081.5,730.3 3113.2,728.5 3144.4,726.6 3174.1,724.7 3200.9,722.8 3224.2,721.1 3244.7,719.5 3263.6,717.9 3282.0,716.3 3301.2,714.6 3322.8,712.6 3346.0,710.5 3368.4,708.4 3387.6,706.6 3401.2,705.3 3401.5,708.2 3387.9,709.5 3368.7,711.4 3346.3,713.5 3323.1,715.6 3301.4,717.5 3282.2,719.2 3263.8,720.9 3244.9,722.5 3224.4,724.2 3201.1,725.8 3174.3,727.7 3144.6,729.6 3113.4,731.6 3081.7,733.4 3050.7,734.9 3020.6,736.2 2990.3,737.3 2960.0,738.2 2929.9,738.9 2900.1,739.2 2870.9,739.2 2842.3,739.0 2813.7,738.5 2784.8,737.7 2755.2,736.5 2724.4,734.9 2693.0,733.0 2661.2,730.8 2629.5,728.3 2598.4,725.7 2567.2,722.9 2535.8,719.9 2504.8,716.7 2475.2,713.4 2447.6,710.2 2421.0,706.7 2394.8,703.0 2370.9,699.4 2350.9,696.3 2336.5,694.2" fill="#b1b1b1"/>
<polygon points="2336.6,693.4 2351.0,695.5 2371.0,698.6 2394.9,702.2 2421.1,705.9 2447.7,709.4 2475.3,712.6 2504.9,715.9 2535.8,719.1 2567.3,722.2 2598.4,724.9 2629.6,727.5 2661.2,730.0 2693.0,732.2 2724.5,734.1 2755.2,735.7 2784.8,736.9 2813.7,737.7 2842.3,738.3 2870.9,738.5 2900.1,738.5 2929.9,738.1 2960.0,737.5 2990.2,736.6 3020.5,735.4 3050.7,734.2 3081.6,732.6 3113.3,730.9 3144.6,728.9 3174.2,727.0 3201.1,725.1 3224.4,723.4 3244.9,721.8 3263.8,720.2 3282.2,718.5 3301.4,716.8 3323.0,714.9 3346.2,712.8 3368.6,710.7 3387.8,708.8 3401.4,707.6 3401.7,710.5 3388.1,711.8 3368.9,713.6 3346.5,715.7 3323.3,717.8 3301.6,719.8 3282.4,721.5 3264.0,723.2 3245.1,724.8 3224.6,726.5 3201.3,728.1 3174.4,730.0 3144.8,732.0 3113.5,733.9 3081.8,735.7 3050.9,737.3 3020.6,738.6 2990.3,739.7 2960.1,740.6 2929.9,741.3 2900.1,741.6 2870.9,741.7 2842.2,741.5 2813.7,740.9 2784.7,740.1 2755.0,738.9 2724.3,737.4 2692.8,735.5 2661.0,733.2 2629.3,730.8 2598.2,728.2 2567.0,725.4 2535.5,722.4 2504.5,719.2 2474.9,716.0 2447.3,712.7 2420.6,709.3 2394.4,705.6 2370.5,702.0 2350.5,698.9 2336.1,696.8" fill="#a0a0a0"/>
<polygon points="2336.2,696.0 2350.6,698.1 2370.6,701.2 2394.5,704.8 2420.7,708.5 2447.4,712.0 2475.0,715.2 2504.6,718.4 2535.6,721.6 2567.1,724.7 2598.2,727.4 2629.4,730.0 2661.0,732.5 2692.8,734.7 2724.3,736.6 2755.1,738.2 2784.8,739.3 2813.7,740.2 2842.2,740.7 2870.9,740.9 2900.1,740.9 2929.9,740.5 2960.0,739.9 2990.3,739.0 3020.6,737.8 3050.8,736.6 3081.7,735.0 3113.4,733.2 3144.7,731.3 3174.4,729.3 3201.2,727.4 3224.5,725.7 3245.1,724.1 3263.9,722.5 3282.4,720.8 3301.6,719.1 3323.2,717.1 3346.4,715.0 3368.8,712.9 3388.0,711.1 3401.6,709.8 3401.9,712.7 3388.3,714.0 3369.1,715.8 3346.7,717.9 3323.5,720.1 3301.8,722.1 3282.6,723.8 3264.2,725.4 3245.3,727.1 3224.8,728.7 3201.4,730.4 3174.6,732.3 3144.9,734.3 3113.6,736.3 3081.9,738.1 3051.0,739.7 3020.7,741.0 2990.4,742.1 2960.1,743.0 2929.9,743.7 2900.1,744.1 2870.9,744.1 2842.2,743.9 2813.6,743.4 2784.6,742.6 2754.9,741.4 2724.1,739.8 2692.6,737.9 2660.8,735.7 2629.1,733.3 2597.9,730.7 2566.7,727.9 2535.2,724.9 2504.3,721.7 2474.6,718.5 2447.0,715.3 2420.2,711.9 2394.0,708.2 2370.0,704.6 2350.1,701.5 2335.7,699.4" fill="#8d8d8d"/>
<polygon points="2335.8,698.6 2350.2,700.7 2370.2,703.8 2394.1,707.3 2420.4,711.1 2447.1,714.5 2474.7,717.7 2504.3,721.0 2535.3,724.1 2566.8,727.2 2598.0,729.9 2629.2,732.5 2660.9,734.9 2692.7,737.2 2724.2,739.1 2755.0,740.6 2784.7,741.8 2813.6,742.6 2842.2,743.1 2870.9,743.4 2900.1,743.3 2929.9,743.0 2960.1,742.3 2990.4,741.3 3020.7,740.2 3050.9,738.9 3081.9,737.4 3113.6,735.6 3144.9,733.6 3174.5,731.6 3201.4,729.7 3224.7,728.0 3245.2,726.4 3264.1,724.7 3282.6,723.1 3301.8,721.3 3323.4,719.4 3346.6,717.2 3369.0,715.1 3388.2,713.3 3401.8,712.0 3402.1,714.9 3388.5,716.2 3369.3,718.1 3346.9,720.2 3323.7,722.4 3302.0,724.3 3282.8,726.0 3264.4,727.7 3245.5,729.4 3224.9,731.0 3201.6,732.7 3174.7,734.6 3145.0,736.7 3113.8,738.6 3082.0,740.5 3051.1,742.1 3020.8,743.4 2990.5,744.5 2960.2,745.4 2930.0,746.1 2900.1,746.5 2870.9,746.5 2842.2,746.3 2813.5,745.8 2784.6,745.0 2754.8,743.9 2724.0,742.3 2692.5,740.4 2660.6,738.2 2628.9,735.8 2597.7,733.2 2566.5,730.4 2535.0,727.4 2504.0,724.3 2474.3,721.0 2446.6,717.9 2419.9,714.4 2393.6,710.7 2369.6,707.2 2349.6,704.1 2335.3,702.0" fill="#747474"/>
<polygon points="2335.4,701.2 2349.8,703.3 2369.8,706.3 2393.7,709.9 2420.0,713.6 2446.7,717.1 2474.4,720.3 2504.1,723.5 2535.1,726.7 2566.6,729.7 2597.8,732.4 2629.0,735.0 2660.7,737.4 2692.5,739.6 2724.0,741.5 2754.8,743.1 2784.6,744.2 2813.5,745.1 2842.2,745.6 2870.9,745.8 2900.1,745.7 2930.0,745.4 2960.2,744.7 2990.5,743.7 3020.8,742.6 3051.0,741.3 3082.0,739.7 3113.7,737.9 3145.0,735.9 3174.7,733.9 3201.5,732.0 3224.9,730.3 3245.4,728.7 3264.3,727.0 3282.8,725.3 3302.0,723.6 3323.6,721.6 3346.8,719.5 3369.2,717.4 3388.4,715.5 3402.0,714.2 3402.3,717.1 3388.7,718.5 3369.5,720.3 3347.1,722.4 3323.9,724.6 3302.2,726.6 3283.0,728.3 3264.6,730.0 3245.7,731.7 3225.1,733.3 3201.7,735.0 3174.9,737.0 3145.2,739.0 3113.9,741.0 3082.1,742.8 3051.2,744.4 3020.9,745.7 2990.6,746.9 2960.2,747.8 2930.0,748.5 2900.1,748.9 2870.9,749.0 2842.1,748.8 2813.5,748.3 2784.5,747.5 2754.7,746.3 2723.9,744.8 2692.3,742.9 2660.4,740.7 2628.7,738.2 2597.5,735.7 2566.3,733.0 2534.7,730.0 2503.7,726.8 2474.0,723.6 2446.3,720.4 2419.5,717.0 2393.2,713.3 2369.2,709.7 2349.2,706.7 2334.9,704.7" fill="#6f6f6f"/>
<polygon points="2335.0,703.8 2349.4,705.9 2369.4,708.9 2393.4,712.5 2419.6,716.2 2446.4,719.6 2474.1,722.8 2503.8,726.0 2534.8,729.2 2566.3,732.2 2597.6,734.9 2628.8,737.5 2660.5,739.9 2692.3,742.1 2723.9,744.0 2754.7,745.5 2784.5,746.7 2813.5,747.5 2842.1,748.0 2870.9,748.2 2900.1,748.2 2930.0,747.8 2960.2,747.1 2990.6,746.1 3020.9,745.0 3051.1,743.7 3082.1,742.1 3113.8,740.3 3145.1,738.3 3174.8,736.2 3201.7,734.3 3225.0,732.6 3245.6,730.9 3264.5,729.3 3283.0,727.6 3302.2,725.9 3323.8,723.9 3347.0,721.7 3369.4,719.6 3388.6,717.8 3402.2,716.4 3402.5,719.4 3388.9,720.7 3369.7,722.5 3347.3,724.7 3324.1,726.9 3302.4,728.8 3283.2,730.6 3264.8,732.3 3245.9,733.9 3225.3,735.6 3201.9,737.3 3175.0,739.3 3145.3,741.3 3114.0,743.3 3082.2,745.2 3051.3,746.8 3021.0,748.1 2990.7,749.3 2960.3,750.3 2930.1,751.0 2900.1,751.3 2870.8,751.4 2842.1,751.2 2813.4,750.7 2784.4,749.9 2754.6,748.8 2723.7,747.2 2692.1,745.3 2660.2,743.1 2628.5,740.7 2597.3,738.2 2566.0,735.5 2534.5,732.5 2503.4,729.3 2473.7,726.1 2446.0,723.0 2419.2,719.6 2392.8,715.9 2368.8,712.3 2348.8,709.3 2334.5,707.3" fill="#9d9d9d"/>
<polygon points="2334.6,706.5 2348.9,708.5 2369.0,711.5 2393.0,715.1 2419.3,718.8 2446.1,722.2 2473.8,725.3 2503.5,728.5 2534.5,731.7 2566.1,734.7 2597.3,737.4 2628.6,740.0 2660.3,742.4 2692.2,744.6 2723.8,746.5 2754.6,748.0 2784.4,749.2 2813.4,750.0 2842.1,750.4 2870.8,750.6 2900.1,750.6 2930.0,750.2 2960.3,749.5 2990.6,748.5 3021.0,747.4 3051.2,746.1 3082.2,744.5 3114.0,742.6 3145.3,740.6 3175.0,738.6 3201.9,736.6 3225.2,734.9 3245.8,733.2 3264.7,731.6 3283.2,729.9 3302.4,728.1 3324.0,726.2 3347.2,724.0 3369.7,721.8 3388.8,720.0 3402.4,718.7 3402.6,720.9 3389.1,722.2 3369.9,724.1 3347.4,726.2 3324.2,728.4 3302.5,730.4 3283.3,732.1 3264.9,733.8 3246.0,735.5 3225.4,737.2 3202.0,738.9 3175.1,740.9 3145.4,742.9 3114.1,745.0 3082.3,746.8 3051.3,748.5 3021.1,749.8 2990.7,750.9 2960.3,751.9 2930.1,752.6 2900.1,753.0 2870.8,753.1 2842.1,752.9 2813.4,752.4 2784.3,751.6 2754.5,750.5 2723.6,748.9 2692.0,747.0 2660.1,744.9 2628.4,742.4 2597.1,739.9 2565.8,737.2 2534.3,734.2 2503.2,731.1 2473.5,727.9 2445.8,724.7 2418.9,721.3 2392.6,717.7 2368.5,714.1 2348.5,711.1 2334.2,709.1" fill="#dbdbdb"/>
<!-- b_eye -->
<defs>
<clipPath id="eyeclip"><rect x="1780" y="380" width="580" height="480"/></clipPath>
</defs>
<path d="M1867.7,515.9C1871.2,512.4 1881.1,502.5 1888.7,494.9C1896.3,487.3 1901.0,480.8 1913.3,470.3C1925.6,459.8 1944.9,442.7 1962.4,431.7C1979.9,420.7 2000.4,410.5 2018.5,404.4C2036.6,398.3 2052.5,395.3 2071.2,394.9C2089.9,394.5 2112.1,395.8 2130.8,401.9C2149.5,408.0 2168.2,419.1 2183.4,431.7C2198.6,444.3 2210.9,459.2 2222.0,477.3C2233.1,495.4 2242.8,524.1 2250.1,540.5C2257.4,556.9 2260.9,565.7 2265.9,575.6C2270.9,585.5 2273.8,594.1 2279.9,600.1C2286.0,606.1 2292.5,608.1 2302.7,611.7C2312.9,615.3 2334.9,620.2 2341.3,621.9 L2341.3,714.1 C2332.5,711.3 2301.9,700.5 2288.7,697.3C2275.5,694.1 2269.0,692.6 2262.3,694.8C2255.6,697.0 2253.3,701.2 2248.3,710.6C2243.3,720.0 2241.6,736.7 2232.5,751.0C2223.4,765.3 2210.8,783.2 2193.9,796.6C2177.0,810.0 2151.2,824.6 2130.8,831.6C2110.4,838.6 2091.7,839.3 2071.2,838.7C2050.7,838.1 2028.5,835.7 2008.0,828.1C1987.5,820.5 1966.5,807.1 1948.4,793.1C1930.3,779.1 1912.5,758.2 1899.3,743.9C1886.1,729.6 1877.1,715.9 1869.5,707.1C1861.9,698.3 1856.3,693.9 1853.7,691.3C1851.7,684.9 1844.0,666.2 1841.4,652.7C1838.8,639.2 1837.3,626.4 1837.9,610.6C1838.5,594.8 1839.9,573.8 1844.9,558.0C1849.9,542.2 1863.9,522.9 1867.7,515.9Z" fill="#eef4fa" stroke="none"/>
<path d="M1867.7,515.9C1859.2,521.2 1849.9,542.2 1844.9,558.0C1839.9,573.8 1838.5,594.8 1837.9,610.6C1837.3,626.4 1838.8,639.2 1841.4,652.7C1844.0,666.2 1844.6,683.1 1853.7,691.3C1862.8,699.5 1887.6,715.2 1895.8,701.8C1904.0,688.3 1902.8,639.8 1902.8,610.6C1902.8,581.4 1901.6,542.2 1895.8,526.4C1890.0,510.6 1876.2,510.6 1867.7,515.9Z" fill="#fbfcfd"/>
<path d="M1901.0,526.4C1903.3,514.7 1915.9,498.4 1927.3,484.4C1938.7,470.4 1953.6,453.4 1969.4,442.3C1985.2,431.2 2005.1,422.7 2022.1,417.7C2039.1,412.7 2053.7,412.3 2071.2,412.4C2088.7,412.5 2109.8,412.8 2127.3,418.4C2144.8,424.0 2162.1,434.2 2176.4,445.8C2190.7,457.4 2203.0,471.5 2213.2,487.9C2223.4,504.3 2231.4,527.0 2237.8,544.0C2244.2,561.0 2249.5,572.6 2251.8,589.6C2254.1,606.6 2253.9,628.2 2251.8,645.7C2249.8,663.2 2244.5,679.0 2239.5,694.8C2234.5,710.6 2231.3,725.2 2222.0,740.4C2212.7,755.6 2198.6,773.4 2183.4,786.0C2168.2,798.6 2149.5,809.8 2130.8,815.9C2112.1,822.0 2091.1,823.5 2071.2,822.9C2051.3,822.3 2030.2,819.1 2011.5,812.4C1992.8,805.7 1974.1,793.9 1958.9,782.5C1943.7,771.1 1930.0,755.6 1920.3,743.9C1910.6,732.2 1902.2,722.9 1901.0,712.4C1899.8,701.9 1910.4,696.9 1913.3,680.8C1916.2,664.7 1918.6,636.9 1918.6,615.9C1918.6,594.9 1916.2,569.4 1913.3,554.5C1910.4,539.6 1898.7,538.1 1901.0,526.4Z" fill="#a01d49" stroke="#3d3d3d" stroke-width="1.5"/>
<path d="M2232.5,575.6C2237.2,567.4 2240.2,589.6 2246.6,596.6C2253.0,603.6 2261.2,612.4 2271.1,617.7C2281.0,623.0 2294.5,625.2 2306.2,628.2C2317.9,631.2 2335.5,624.2 2341.3,635.9C2347.2,647.6 2347.2,689.6 2341.3,698.3C2335.5,706.9 2317.9,690.1 2306.2,687.8C2294.5,685.5 2280.4,683.7 2271.1,684.3C2261.8,684.9 2256.5,686.0 2250.1,691.3C2243.7,696.6 2237.8,723.5 2232.5,715.9C2227.2,708.3 2218.5,669.1 2218.5,645.7C2218.5,622.3 2227.8,583.8 2232.5,575.6Z" fill="#ec7a5c"/>
<path d="M2246.6,686.1C2251.8,683.8 2267.0,673.5 2278.1,672.0C2289.2,670.5 2302.7,674.9 2313.2,677.3C2323.7,679.6 2336.6,684.6 2341.3,686.1" fill="none" stroke="#e0533c" stroke-width="3.2"/>
<path d="M1920.3,531.7C1923.2,520.0 1935.0,501.3 1944.9,487.9C1954.9,474.4 1966.5,461.1 1980.0,451.0C1993.5,440.9 2010.4,432.4 2025.6,427.5C2040.8,422.6 2054.5,421.9 2071.2,421.9C2087.8,421.9 2108.8,422.2 2125.5,427.5C2142.2,432.8 2157.7,442.4 2171.1,453.5C2184.5,464.6 2196.5,478.5 2206.2,494.2C2215.8,509.9 2223.2,530.4 2229.0,547.5C2234.8,564.6 2239.6,580.2 2241.3,596.6C2243.1,613.0 2241.8,629.6 2239.5,645.7C2237.2,661.8 2232.3,678.5 2227.3,693.1C2222.3,707.7 2218.8,719.7 2209.7,733.4C2200.6,747.1 2186.9,763.8 2172.9,775.5C2158.9,787.2 2142.4,797.5 2125.5,803.6C2108.6,809.8 2089.6,812.5 2071.2,812.4C2052.8,812.3 2032.5,809.2 2015.0,802.9C1997.5,796.6 1979.9,785.5 1965.9,774.8C1951.9,764.1 1939.0,749.7 1930.8,738.7C1922.6,727.7 1917.4,718.5 1916.8,708.9C1916.2,699.2 1925.0,696.3 1927.3,680.8C1929.6,665.3 1930.8,636.4 1930.8,615.9C1930.8,595.4 1929.0,572.0 1927.3,558.0C1925.5,544.0 1917.4,543.4 1920.3,531.7Z" fill="#ee7f62" />
<path d="M1929.1,535.2C1932.0,524.1 1942.6,505.8 1951.9,493.1C1961.2,480.4 1972.6,468.6 1985.2,459.1C1997.8,449.6 2013.0,440.6 2027.3,435.9C2041.6,431.2 2055.4,431.0 2071.2,431.0C2087.0,431.0 2106.3,431.0 2122.0,435.9C2137.7,440.8 2152.5,450.0 2165.2,460.5C2177.9,471.0 2189.0,484.1 2198.2,499.1C2207.4,514.1 2214.9,534.0 2220.3,550.3C2225.7,566.5 2229.2,581.0 2230.8,596.6C2232.4,612.2 2231.8,628.5 2229.7,644.0C2227.6,659.5 2223.3,675.6 2218.5,689.6C2213.7,703.6 2209.8,715.2 2201.0,728.2C2192.2,741.2 2179.1,756.9 2165.9,767.8C2152.7,778.7 2137.8,787.9 2122.0,793.8C2106.2,799.6 2088.4,802.9 2071.2,802.9C2053.9,802.9 2035.2,799.6 2018.5,793.8C2001.8,787.9 1984.6,777.9 1971.2,767.8C1957.8,757.7 1945.5,743.5 1937.9,733.4C1930.3,723.3 1926.3,715.9 1925.6,707.1C1924.9,698.3 1931.7,696.0 1933.7,680.8C1935.8,665.6 1937.8,636.1 1937.9,615.9C1938.0,595.7 1935.9,573.2 1934.4,559.8C1932.9,546.3 1926.2,546.3 1929.1,535.2Z" fill="#f2ab88" stroke="#ffffff" stroke-width="2.2"/>
<path d="M1934.4,540.5C1935.3,533.5 1939.1,522.4 1944.9,512.4C1950.7,502.4 1959.5,490.4 1969.4,480.8C1979.3,471.2 1991.6,461.2 2004.5,454.5C2017.4,447.8 2032.6,443.0 2046.6,440.5C2060.6,438.0 2074.7,437.9 2088.7,439.4C2102.7,440.9 2117.9,443.6 2130.8,449.3C2143.7,455.0 2155.4,463.9 2165.9,473.8C2176.4,483.7 2186.0,495.4 2193.9,508.9C2201.8,522.4 2208.4,539.3 2213.2,554.5C2218.0,569.7 2221.5,584.9 2222.7,600.1C2223.9,615.3 2222.5,631.1 2220.3,645.7C2218.1,660.3 2214.7,674.6 2209.7,687.8C2204.7,700.9 2198.9,712.6 2190.4,724.6C2181.9,736.6 2171.2,749.8 2158.9,759.7C2146.6,769.7 2131.4,778.7 2116.8,784.3C2102.2,789.9 2086.4,792.9 2071.2,793.1C2056.0,793.3 2040.2,790.3 2025.6,785.3C2011.0,780.3 1996.4,772.4 1983.5,763.2C1970.6,754.0 1956.9,740.1 1948.4,729.9C1939.9,719.7 1934.1,710.6 1932.6,701.8C1931.1,693.0 1935.2,686.6 1939.6,677.3C1944.0,667.9 1955.0,656.8 1958.9,645.7C1962.8,634.6 1963.4,622.3 1963.1,610.6C1962.8,598.9 1961.1,585.0 1957.2,575.6C1953.3,566.2 1943.4,560.4 1939.6,554.5C1935.8,548.6 1933.5,547.5 1934.4,540.5Z" fill="#f6c4af" stroke="#fbe3d6" stroke-width="1.6"/>
<path d="M1885.2,554.5C1888.7,547.2 1893.5,541.6 1899.3,538.7C1905.1,535.8 1913.6,534.4 1920.3,537.0C1927.0,539.6 1933.4,546.9 1939.6,554.5C1945.8,562.1 1953.4,572.7 1957.2,582.6C1961.0,592.5 1962.4,603.3 1962.4,614.1C1962.4,624.9 1961.0,637.3 1957.2,647.5C1953.4,657.7 1945.8,667.6 1939.6,675.5C1933.4,683.4 1927.0,691.9 1920.3,694.8C1913.6,697.7 1905.1,696.0 1899.3,693.1C1893.5,690.2 1888.7,685.2 1885.2,677.3C1881.7,669.4 1879.7,656.2 1878.2,645.7C1876.8,635.2 1876.5,624.6 1876.5,614.1C1876.5,603.6 1876.8,592.5 1878.2,582.6C1879.7,572.7 1881.7,561.8 1885.2,554.5Z" fill="#efefef" />
<path d="M1901.0,530.0C1902.2,527.4 1909.8,528.8 1913.3,526.4C1916.8,524.0 1921.2,514.4 1922.1,515.9C1923.0,517.4 1917.1,531.1 1918.6,535.2C1920.0,539.3 1930.5,538.5 1930.8,540.5C1931.1,542.5 1924.4,547.2 1920.3,547.5C1916.2,547.8 1909.5,545.1 1906.3,542.2C1903.1,539.3 1899.8,532.6 1901.0,530.0Z" fill="#f8ddd6" />
<path d="M1901.0,703.6C1902.2,706.2 1909.8,704.8 1913.3,707.1C1916.8,709.4 1921.2,719.1 1922.1,717.6C1923.0,716.1 1917.1,702.4 1918.6,698.3C1920.0,694.2 1930.5,695.1 1930.8,693.1C1931.1,691.1 1924.4,686.4 1920.3,686.1C1916.2,685.8 1909.5,688.4 1906.3,691.3C1903.1,694.2 1899.8,701.0 1901.0,703.6Z" fill="#f8ddd6" />
<path d="M1869.5,517.7C1865.7,524.4 1852.0,542.5 1846.7,558.0C1841.4,573.5 1838.6,594.2 1837.9,610.6C1837.2,627.0 1839.7,642.8 1842.4,656.2C1845.2,669.7 1852.4,685.4 1854.4,691.3" fill="none" stroke="#c9cfcf" stroke-width="1.8"/>
<path d="M1885.2,540.5C1882.0,545.8 1870.7,559.8 1865.9,572.1C1861.1,584.4 1857.1,600.1 1856.5,614.1C1855.9,628.1 1858.5,644.5 1862.4,656.2C1866.3,667.9 1877.1,679.6 1880.0,684.3" fill="none" stroke="#c9cfcf" stroke-width="1.8"/>
<path d="M1880.0,540.5C1882.0,537.9 1888.5,529.9 1892.3,524.7C1896.1,519.6 1901.0,512.1 1902.8,509.6" fill="none" stroke="#2d6d7d" stroke-width="2"/>
<path d="M1869.5,707.1C1872.1,708.6 1880.0,713.3 1885.2,715.9C1890.5,718.5 1898.4,721.7 1901.0,722.9" fill="none" stroke="#2d6d7d" stroke-width="2"/>
<path d="M1867.7,515.9C1871.2,512.4 1881.1,502.5 1888.7,494.9C1896.3,487.3 1901.0,480.8 1913.3,470.3C1925.6,459.8 1944.9,442.7 1962.4,431.7C1979.9,420.7 2000.4,410.5 2018.5,404.4C2036.6,398.3 2052.5,395.3 2071.2,394.9C2089.9,394.5 2112.1,395.8 2130.8,401.9C2149.5,408.0 2168.2,419.1 2183.4,431.7C2198.6,444.3 2210.9,459.2 2222.0,477.3C2233.1,495.4 2242.8,524.1 2250.1,540.5C2257.4,556.9 2260.9,565.7 2265.9,575.6C2270.9,585.5 2273.8,594.1 2279.9,600.1C2286.0,606.1 2292.5,608.1 2302.7,611.7C2312.9,615.3 2334.9,620.2 2341.3,621.9 L2341.3,714.1 C2332.5,711.3 2301.9,700.5 2288.7,697.3C2275.5,694.1 2269.0,692.6 2262.3,694.8C2255.6,697.0 2253.3,701.2 2248.3,710.6C2243.3,720.0 2241.6,736.7 2232.5,751.0C2223.4,765.3 2210.8,783.2 2193.9,796.6C2177.0,810.0 2151.2,824.6 2130.8,831.6C2110.4,838.6 2091.7,839.3 2071.2,838.7C2050.7,838.1 2028.5,835.7 2008.0,828.1C1987.5,820.5 1966.5,807.1 1948.4,793.1C1930.3,779.1 1912.5,758.2 1899.3,743.9C1886.1,729.6 1877.1,715.9 1869.5,707.1C1861.9,698.3 1856.3,693.9 1853.7,691.3" fill="none" stroke="#474747" stroke-width="2"/>
<path d="M1913.3,480.8C1912.7,483.1 1911.8,489.6 1909.8,494.9C1907.8,500.2 1902.8,507.1 1901.0,512.4C1899.2,517.6 1899.6,524.1 1899.3,526.4" fill="none" stroke="#474747" stroke-width="1.4"/>
<path d="M1906.3,733.4C1907.0,735.5 1911.4,748.6 1910.5,745.7C1909.6,742.8 1902.9,722.0 1901.0,715.9C1899.1,709.8 1899.6,710.1 1899.3,708.9" fill="none" stroke="#474747" stroke-width="1.4"/>
<path d="M2341.3,669.6C2335.5,668.0 2317.9,663.5 2306.2,659.8C2294.5,656.1 2281.6,650.7 2271.1,647.5C2260.6,644.3 2249.5,642.0 2243.1,640.5C2236.7,639.0 2234.3,639.0 2232.5,638.7" fill="none" stroke="#ffffff" stroke-width="8" stroke-linecap="round" />
<path d="M2341.3,661.5C2335.5,659.6 2317.9,653.4 2306.2,649.9C2294.5,646.4 2281.6,642.8 2271.1,640.5C2260.6,638.2 2247.8,636.7 2243.1,635.9" fill="none" stroke="#f0707f" stroke-width="4.5" stroke-linecap="round" />
<path d="M2341.3,654.5C2335.5,652.8 2317.9,647.1 2306.2,644.0C2294.5,640.9 2281.0,637.8 2271.1,635.9C2261.2,634.0 2250.7,633.0 2246.6,632.4" fill="none" stroke="#b9c9cf" stroke-width="2" stroke-linecap="round" />
<path d="M2341.3,669.6C2335.5,668.0 2317.9,663.5 2306.2,659.8C2294.5,656.1 2281.6,650.7 2271.1,647.5C2260.6,644.3 2249.5,642.0 2243.1,640.5C2236.7,639.0 2234.3,639.0 2232.5,638.7" fill="none" stroke="#a9dcf3" stroke-width="5.5" stroke-linecap="round" />
<path d="M2232.5,638.7C2230.5,634.0 2225.6,620.2 2220.3,610.6C2215.1,601.0 2207.7,590.1 2201.0,580.8C2194.3,571.4 2186.3,561.8 2179.9,554.5C2173.5,547.2 2169.4,541.7 2162.4,537.0C2155.4,532.3 2146.6,527.6 2137.8,526.4C2129.0,525.2 2114.5,529.4 2109.8,530.0" fill="none" stroke="#ffffff" stroke-width="7.5" stroke-linecap="round" />
<path d="M2162.4,537.0C2159.5,534.4 2150.7,525.3 2144.8,521.2C2139.0,517.1 2132.6,515.3 2127.3,512.4C2122.1,509.5 2115.6,505.1 2113.3,503.6" fill="none" stroke="#ffffff" stroke-width="7.5" stroke-linecap="round" />
<path d="M2201.0,580.8C2198.1,577.0 2187.8,565.9 2183.4,558.0C2179.0,550.1 2176.4,542.3 2174.7,533.5C2172.9,524.7 2173.2,510.1 2172.9,505.4" fill="none" stroke="#ffffff" stroke-width="7.5" stroke-linecap="round" />
<path d="M2220.3,610.6C2217.7,607.1 2208.0,596.0 2204.5,589.6C2201.0,583.2 2200.1,578.5 2199.2,572.1C2198.3,565.7 2199.2,554.5 2199.2,551.0" fill="none" stroke="#ffffff" stroke-width="7.5" stroke-linecap="round" />
<path d="M2232.5,638.7C2230.5,634.0 2225.6,620.2 2220.3,610.6C2215.1,601.0 2207.7,590.1 2201.0,580.8C2194.3,571.4 2186.3,561.8 2179.9,554.5C2173.5,547.2 2169.4,541.7 2162.4,537.0C2155.4,532.3 2146.6,527.6 2137.8,526.4C2129.0,525.2 2114.5,529.4 2109.8,530.0" fill="none" stroke="#a9dcf3" stroke-width="5" stroke-linecap="round" />
<path d="M2162.4,537.0C2159.5,534.4 2150.7,525.3 2144.8,521.2C2139.0,517.1 2132.6,515.3 2127.3,512.4C2122.1,509.5 2115.6,505.1 2113.3,503.6" fill="none" stroke="#a9dcf3" stroke-width="5" stroke-linecap="round" />
<path d="M2201.0,580.8C2198.1,577.0 2187.8,565.9 2183.4,558.0C2179.0,550.1 2176.4,542.3 2174.7,533.5C2172.9,524.7 2173.2,510.1 2172.9,505.4" fill="none" stroke="#a9dcf3" stroke-width="5" stroke-linecap="round" />
<path d="M2220.3,610.6C2217.7,607.1 2208.0,596.0 2204.5,589.6C2201.0,583.2 2200.1,578.5 2199.2,572.1C2198.3,565.7 2199.2,554.5 2199.2,551.0" fill="none" stroke="#a9dcf3" stroke-width="5" stroke-linecap="round" />
<path d="M2230.8,637.0C2227.6,632.0 2218.8,616.8 2211.5,607.1C2204.2,597.5 2195.1,586.1 2186.9,579.1C2178.7,572.1 2172.9,568.5 2162.4,565.0C2151.9,561.5 2135.8,561.4 2123.8,558.0C2111.8,554.6 2096.1,546.9 2090.5,544.7" fill="none" stroke="#f0707f" stroke-width="2.6" stroke-linecap="round" />
<path d="M2186.9,579.1C2184.6,575.0 2177.6,563.3 2172.9,554.5C2168.2,545.7 2163.6,536.3 2158.9,526.4C2154.2,516.5 2151.0,504.5 2144.8,494.9C2138.7,485.3 2125.8,473.0 2122.0,468.6" fill="none" stroke="#f0707f" stroke-width="2.4" stroke-linecap="round" />
<path d="M2167.6,540.5C2167.0,535.8 2164.5,520.9 2164.1,512.4C2163.7,503.9 2165.0,493.4 2165.2,489.6" fill="none" stroke="#f0707f" stroke-width="2.2" stroke-linecap="round" />
<path d="M2206.2,593.1C2205.3,587.8 2202.2,570.3 2201.0,561.5C2199.8,552.7 2201.5,548.1 2199.2,540.5C2196.8,532.9 2188.9,520.0 2186.9,515.9" fill="none" stroke="#f0707f" stroke-width="2" stroke-linecap="round" />
<path d="M2232.5,640.5C2229.6,643.7 2220.8,652.5 2215.0,659.8C2209.2,667.1 2203.3,676.1 2197.5,684.3C2191.7,692.5 2185.8,702.2 2179.9,708.9C2174.1,715.6 2170.0,721.1 2162.4,724.6C2154.8,728.1 2142.5,730.2 2134.3,729.9C2126.1,729.6 2118.9,726.7 2113.3,722.9C2107.8,719.1 2103.1,709.7 2101.0,707.1" fill="none" stroke="#ffffff" stroke-width="7.5" stroke-linecap="round" />
<path d="M2162.4,724.6C2157.7,727.2 2143.1,733.1 2134.3,740.4C2125.5,747.7 2119.7,761.5 2109.8,768.5C2099.9,775.5 2080.5,780.2 2074.7,782.5" fill="none" stroke="#ffffff" stroke-width="7.5" stroke-linecap="round" />
<path d="M2134.3,729.9C2129.6,730.5 2115.0,734.0 2106.2,733.4C2097.4,732.8 2089.3,730.5 2081.7,726.4C2074.1,722.3 2067.6,713.6 2060.6,708.9C2053.6,704.2 2043.1,700.1 2039.6,698.3" fill="none" stroke="#ffffff" stroke-width="7.5" stroke-linecap="round" />
<path d="M2232.5,640.5C2229.6,643.7 2220.8,652.5 2215.0,659.8C2209.2,667.1 2203.3,676.1 2197.5,684.3C2191.7,692.5 2185.8,702.2 2179.9,708.9C2174.1,715.6 2170.0,721.1 2162.4,724.6C2154.8,728.1 2142.5,730.2 2134.3,729.9C2126.1,729.6 2118.9,726.7 2113.3,722.9C2107.8,719.1 2103.1,709.7 2101.0,707.1" fill="none" stroke="#a9dcf3" stroke-width="5" stroke-linecap="round" />
<path d="M2162.4,724.6C2157.7,727.2 2143.1,733.1 2134.3,740.4C2125.5,747.7 2119.7,761.5 2109.8,768.5C2099.9,775.5 2080.5,780.2 2074.7,782.5" fill="none" stroke="#a9dcf3" stroke-width="5" stroke-linecap="round" />
<path d="M2134.3,729.9C2129.6,730.5 2115.0,734.0 2106.2,733.4C2097.4,732.8 2089.3,730.5 2081.7,726.4C2074.1,722.3 2067.6,713.6 2060.6,708.9C2053.6,704.2 2043.1,700.1 2039.6,698.3" fill="none" stroke="#a9dcf3" stroke-width="5" stroke-linecap="round" />
<path d="M2230.8,642.2C2227.3,645.7 2216.4,655.1 2209.7,663.3C2203.0,671.5 2197.1,681.9 2190.4,691.3C2183.7,700.6 2175.8,711.8 2169.4,719.4C2163.0,727.0 2159.4,733.7 2151.8,736.9C2144.2,740.1 2133.2,737.5 2123.8,738.7C2114.5,739.9 2104.5,740.1 2095.7,743.9C2086.9,747.7 2081.7,756.5 2071.2,761.5C2060.7,766.5 2039.0,771.8 2032.6,773.8" fill="none" stroke="#f0707f" stroke-width="2.6" stroke-linecap="round" />
<path d="M2095.7,743.9C2091.6,744.8 2079.1,749.2 2071.2,749.2C2063.3,749.2 2052.2,744.8 2048.4,743.9" fill="none" stroke="#f0707f" stroke-width="2.2" stroke-linecap="round" />
<path d="M2158.9,733.4C2157.7,735.8 2154.4,743.7 2151.8,747.5C2149.2,751.3 2144.6,754.8 2143.1,756.2" fill="none" stroke="#f0707f" stroke-width="2.2" stroke-linecap="round" />
<circle cx="1952.6" cy="490.7" r="4.5" fill="#fff" opacity="0.95"/>
<circle cx="1945.9" cy="498.4" r="2.4" fill="#fff" opacity="0.95"/>
<circle cx="1960.0" cy="484.4" r="1.8" fill="#fff" opacity="0.95"/>
<!-- b_beam -->
<polygon points="1657,145 1915.5,607 1657,927" fill="url(#beamL)"/>
<polygon points="2189,476 2350,190 2350,492" fill="url(#beamR)"/>
<!-- b_neurons -->
<ellipse cx="2502.2" cy="116.6" rx="50.5" ry="24" fill="#fff" stroke="#d9ab7c" stroke-width="2.3"/>
<ellipse cx="2503.7" cy="116.6" rx="21" ry="9" fill="#d9ae80"/>
<path d="M2552.7,116.6 L2594.9,116.6" stroke="#d9ab7c" stroke-width="2.3" fill="none"/>
<path d="M2614.2,102.1 C2598.9,99.6 2594.9,108.6 2594.9,116.6 C2594.9,124.6 2598.9,133.6 2614.2,131.1" stroke="#d9ab7c" stroke-width="2.3" fill="none"/>
<circle cx="2614.2" cy="102.1" r="2.6" fill="#d9ab7c"/><circle cx="2614.2" cy="131.1" r="2.6" fill="#d9ab7c"/>
<path d="M2451.7,116.6 C2406.7,117.6 2366,120.6 2360.0,164.6 C2357.0,191.6 2355,226.6 2353.5,499" stroke="#d9ab7c" stroke-width="2" fill="none"/>
<ellipse cx="2483.6" cy="194.1" rx="50.5" ry="24" fill="#fff" stroke="#d9ab7c" stroke-width="2.3"/>
<ellipse cx="2482.2" cy="194.1" rx="21" ry="9" fill="#d9ae80"/>
<path d="M2534.1,194.1 L2594.9,193.5" stroke="#d9ab7c" stroke-width="2.3" fill="none"/>
<path d="M2614.2,179.0 C2598.9,176.5 2594.9,185.5 2594.9,193.5 C2594.9,201.5 2598.9,210.5 2614.2,208.0" stroke="#d9ab7c" stroke-width="2.3" fill="none"/>
<circle cx="2614.2" cy="179.0" r="2.6" fill="#d9ab7c"/><circle cx="2614.2" cy="208.0" r="2.6" fill="#d9ab7c"/>
<path d="M2433.1,194.1 C2388.1,195.1 2365,198.1 2359.2,242.1 C2356.4,269.1 2355,304.1 2353.9,499" stroke="#d9ab7c" stroke-width="2" fill="none"/>
<ellipse cx="2486.5" cy="277.3" rx="50.5" ry="24" fill="#fff" stroke="#d9ab7c" stroke-width="2.3"/>
<ellipse cx="2487.9" cy="277.3" rx="21" ry="9" fill="#d9ae80"/>
<path d="M2537.0,277.3 L2594.9,278.2" stroke="#d9ab7c" stroke-width="2.3" fill="none"/>
<path d="M2614.2,263.7 C2598.9,261.2 2594.9,270.2 2594.9,278.2 C2594.9,286.2 2598.9,295.2 2614.2,292.7" stroke="#d9ab7c" stroke-width="2.3" fill="none"/>
<circle cx="2614.2" cy="263.7" r="2.6" fill="#d9ab7c"/><circle cx="2614.2" cy="292.7" r="2.6" fill="#d9ab7c"/>
<path d="M2436.0,277.3 C2391.0,278.3 2364,281.3 2358.4,325.3 C2355.8,352.3 2355,387.3 2354.3,499" stroke="#d9ab7c" stroke-width="2" fill="none"/>
<ellipse cx="2502.2" cy="365.1" rx="50.5" ry="24" fill="#fff" stroke="#d9ab7c" stroke-width="2.3"/>
<ellipse cx="2502.8" cy="364.8" rx="21" ry="9" fill="#d9ae80"/>
<path d="M2552.7,365.1 L2594.9,365.7" stroke="#d9ab7c" stroke-width="2.3" fill="none"/>
<path d="M2614.2,351.2 C2598.9,348.7 2594.9,357.7 2594.9,365.7 C2594.9,373.7 2598.9,382.7 2614.2,380.2" stroke="#d9ab7c" stroke-width="2.3" fill="none"/>
<circle cx="2614.2" cy="351.2" r="2.6" fill="#d9ab7c"/><circle cx="2614.2" cy="380.2" r="2.6" fill="#d9ab7c"/>
<path d="M2451.7,365.1 C2406.7,366.1 2363,369.1 2357.6,413.1 C2355.2,440.1 2355,475.1 2354.7,499" stroke="#d9ab7c" stroke-width="2" fill="none"/>
<ellipse cx="2458.3" cy="441.8" rx="50.5" ry="24" fill="#fff" stroke="#d9ab7c" stroke-width="2.3"/>
<ellipse cx="2460.6" cy="442.3" rx="21" ry="9" fill="#d9ae80"/>
<path d="M2508.8,441.8 L2594.9,442.3" stroke="#d9ab7c" stroke-width="2.3" fill="none"/>
<path d="M2614.2,427.8 C2598.9,425.3 2594.9,434.3 2594.9,442.3 C2594.9,450.3 2598.9,459.3 2614.2,456.8" stroke="#d9ab7c" stroke-width="2.3" fill="none"/>
<circle cx="2614.2" cy="427.8" r="2.6" fill="#d9ab7c"/><circle cx="2614.2" cy="456.8" r="2.6" fill="#d9ab7c"/>
<path d="M2407.8,441.8 C2362.8,442.8 2362,445.8 2356.8,489.8 C2354.6,516.8 2355,551.8 2355.1,499" stroke="#d9ab7c" stroke-width="2" fill="none"/>
<path d="M2624.8,87.9 C2646.8,87.9 2644.8,109.4 2657.2,115.4 M2624.8,140.4 C2646.8,140.4 2644.8,121.4 2657.2,115.4" stroke="#a5d18f" stroke-width="2.5" fill="none"/>
<circle cx="2624.8" cy="87.9" r="2.8" fill="#a5d18f"/><circle cx="2624.8" cy="140.4" r="2.8" fill="#a5d18f"/>
<path d="M2656.2,115.4 L2877,116.6" stroke="#a5d18f" stroke-width="3.2" fill="none"/>
<ellipse cx="2759.1" cy="115.4" rx="31" ry="21.7" fill="#fff" stroke="#a5d18f" stroke-width="2.8"/>
<ellipse cx="2760.6" cy="115.4" rx="11.5" ry="8" fill="#a5d18f"/>
<path d="M2877,116.6 C2877,103.4 2885,90.2 2908.8,90.2" stroke="#a5d18f" stroke-width="2.5" fill="none"/>
<circle cx="2908.8" cy="90.2" r="2.8" fill="#a5d18f"/>
<path d="M2877,116.6 C2877,117.0 2885,117.4 2906.0,117.4" stroke="#a5d18f" stroke-width="2.5" fill="none"/>
<circle cx="2906.0" cy="117.4" r="2.8" fill="#a5d18f"/>
<path d="M2877,116.6 C2877,130.64999999999998 2885,144.7 2903.1,144.7" stroke="#a5d18f" stroke-width="2.5" fill="none"/>
<circle cx="2903.1" cy="144.7" r="2.8" fill="#a5d18f"/>
<path d="M2624.8,164.8 C2646.8,164.8 2644.8,185.2 2657.2,191.2 M2624.8,217.9 C2646.8,217.9 2644.8,197.2 2657.2,191.2" stroke="#a5d18f" stroke-width="2.5" fill="none"/>
<circle cx="2624.8" cy="164.8" r="2.8" fill="#a5d18f"/><circle cx="2624.8" cy="217.9" r="2.8" fill="#a5d18f"/>
<path d="M2656.2,191.2 L2877,192.6" stroke="#a5d18f" stroke-width="3.2" fill="none"/>
<ellipse cx="2817.9" cy="192.1" rx="31" ry="21.7" fill="#fff" stroke="#a5d18f" stroke-width="2.8"/>
<ellipse cx="2819.4" cy="192.1" rx="11.5" ry="8" fill="#a5d18f"/>
<path d="M2877,192.6 C2877,180.14999999999998 2885,167.7 2907.4,167.7" stroke="#a5d18f" stroke-width="2.5" fill="none"/>
<circle cx="2907.4" cy="167.7" r="2.8" fill="#a5d18f"/>
<path d="M2877,192.6 C2877,193.75 2885,194.9 2904.5,194.9" stroke="#a5d18f" stroke-width="2.5" fill="none"/>
<circle cx="2904.5" cy="194.9" r="2.8" fill="#a5d18f"/>
<path d="M2877,192.6 C2877,212.39999999999998 2885,232.2 2901.1,232.2" stroke="#a5d18f" stroke-width="2.5" fill="none"/>
<circle cx="2901.1" cy="232.2" r="2.8" fill="#a5d18f"/>
<path d="M2624.8,248.0 C2646.8,248.0 2644.8,268.7 2657.2,274.7 M2624.8,301.1 C2646.8,301.1 2644.8,280.7 2657.2,274.7" stroke="#a5d18f" stroke-width="2.5" fill="none"/>
<circle cx="2624.8" cy="248.0" r="2.8" fill="#a5d18f"/><circle cx="2624.8" cy="301.1" r="2.8" fill="#a5d18f"/>
<path d="M2656.2,274.7 L2877,275.3" stroke="#a5d18f" stroke-width="3.2" fill="none"/>
<ellipse cx="2729.0" cy="275.3" rx="31" ry="21.7" fill="#fff" stroke="#a5d18f" stroke-width="2.8"/>
<ellipse cx="2730.5" cy="275.3" rx="11.5" ry="8" fill="#a5d18f"/>
<path d="M2877,275.3 C2877,269.55 2885,263.8 2908.8,263.8" stroke="#a5d18f" stroke-width="2.5" fill="none"/>
<circle cx="2908.8" cy="263.8" r="2.8" fill="#a5d18f"/>
<path d="M2877,275.3 C2877,276.75 2885,278.2 2906.0,278.2" stroke="#a5d18f" stroke-width="2.5" fill="none"/>
<circle cx="2906.0" cy="278.2" r="2.8" fill="#a5d18f"/>
<path d="M2877,275.3 C2877,293.25 2885,311.2 2903.1,311.2" stroke="#a5d18f" stroke-width="2.5" fill="none"/>
<circle cx="2903.1" cy="311.2" r="2.8" fill="#a5d18f"/>
<path d="M2624.8,336.4 C2646.8,336.4 2644.8,356.3 2657.2,362.3 M2624.8,389.2 C2646.8,389.2 2644.8,368.3 2657.2,362.3" stroke="#a5d18f" stroke-width="2.5" fill="none"/>
<circle cx="2624.8" cy="336.4" r="2.8" fill="#a5d18f"/><circle cx="2624.8" cy="389.2" r="2.8" fill="#a5d18f"/>
<path d="M2656.2,362.3 L2877,362.8" stroke="#a5d18f" stroke-width="3.2" fill="none"/>
<ellipse cx="2790.1" cy="362.8" rx="31" ry="21.7" fill="#fff" stroke="#a5d18f" stroke-width="2.8"/>
<ellipse cx="2791.6" cy="362.8" rx="11.5" ry="8" fill="#a5d18f"/>
<path d="M2877,362.8 C2877,355.65 2885,348.5 2904.5,348.5" stroke="#a5d18f" stroke-width="2.5" fill="none"/>
<circle cx="2904.5" cy="348.5" r="2.8" fill="#a5d18f"/>
<path d="M2877,362.8 C2877,364.55 2885,366.3 2904.5,366.3" stroke="#a5d18f" stroke-width="2.5" fill="none"/>
<circle cx="2904.5" cy="366.3" r="2.8" fill="#a5d18f"/>
<path d="M2877,362.8 C2877,373.6 2885,384.4 2901.1,384.4" stroke="#a5d18f" stroke-width="2.5" fill="none"/>
<circle cx="2901.1" cy="384.4" r="2.8" fill="#a5d18f"/>
<path d="M2624.8,413.9 C2646.8,413.9 2644.8,434.9 2657.2,440.9 M2624.8,466.7 C2646.8,466.7 2644.8,446.9 2657.2,440.9" stroke="#a5d18f" stroke-width="2.5" fill="none"/>
<circle cx="2624.8" cy="413.9" r="2.8" fill="#a5d18f"/><circle cx="2624.8" cy="466.7" r="2.8" fill="#a5d18f"/>
<path d="M2656.2,440.9 L2877,441.8" stroke="#a5d18f" stroke-width="3.2" fill="none"/>
<ellipse cx="2720.4" cy="441.8" rx="31" ry="21.7" fill="#fff" stroke="#a5d18f" stroke-width="2.8"/>
<ellipse cx="2721.9" cy="441.8" rx="11.5" ry="8" fill="#a5d18f"/>
<path d="M2877,441.8 C2877,424.55 2885,407.3 2907.4,407.3" stroke="#a5d18f" stroke-width="2.5" fill="none"/>
<circle cx="2907.4" cy="407.3" r="2.8" fill="#a5d18f"/>
<path d="M2877,441.8 C2877,442.5 2885,443.2 2904.5,443.2" stroke="#a5d18f" stroke-width="2.5" fill="none"/>
<circle cx="2904.5" cy="443.2" r="2.8" fill="#a5d18f"/>
<path d="M2877,441.8 C2877,456.15 2885,470.5 2906.0,470.5" stroke="#a5d18f" stroke-width="2.5" fill="none"/>
<circle cx="2906.0" cy="470.5" r="2.8" fill="#a5d18f"/>
<path d="M2921.2,78.7 C2944.1,77.7 2946.1,93.7 2946.1,99.7 C2946.1,105.7 2944.1,119.9 2921.2,118.9" stroke="#a9c4e0" stroke-width="2.2" fill="none"/>
<circle cx="2921.2" cy="78.7" r="2.6" fill="#a9c4e0"/><circle cx="2921.2" cy="118.9" r="2.6" fill="#a9c4e0"/>
<path d="M2946.1,99.7 L3012.2,99.7" stroke="#a9c4e0" stroke-width="2.2"/>
<ellipse cx="2977.7" cy="99.7" rx="13" ry="8.6" fill="#dcebf7" stroke="#a9c4e0" stroke-width="2"/>
<circle cx="2977.7" cy="99.7" r="4" fill="#9fc5e8"/>
<path d="M3012.2,99.7 L3022.2,88.5 L3158.5,88.5 L3158.5,110.9 L3022.2,110.9 Z" fill="#dcebf7" stroke="#a9c4e0" stroke-width="2"/>
<path d="M2921.2,166.2 C2944.1,165.2 2946.1,181.8 2946.1,187.8 C2946.1,193.8 2944.1,208.8 2921.2,207.8" stroke="#a9c4e0" stroke-width="2.2" fill="none"/>
<circle cx="2921.2" cy="166.2" r="2.6" fill="#a9c4e0"/><circle cx="2921.2" cy="207.8" r="2.6" fill="#a9c4e0"/>
<path d="M2946.1,187.8 L3012.2,187.8" stroke="#a9c4e0" stroke-width="2.2"/>
<ellipse cx="2989.2" cy="187.8" rx="13" ry="8.6" fill="#dcebf7" stroke="#a9c4e0" stroke-width="2"/>
<circle cx="2989.2" cy="187.8" r="4" fill="#9fc5e8"/>
<path d="M3012.2,187.8 L3022.2,176.60000000000002 L3158.5,176.60000000000002 L3158.5,199.0 L3022.2,199.0 Z" fill="#dcebf7" stroke="#a9c4e0" stroke-width="2"/>
<path d="M2921.2,221.3 C2944.1,220.3 2946.1,223.4 2946.1,229.4 C2946.1,235.4 2944.1,241.9 2921.2,240.9" stroke="#a9c4e0" stroke-width="2.2" fill="none"/>
<circle cx="2921.2" cy="221.3" r="2.6" fill="#a9c4e0"/><circle cx="2921.2" cy="240.9" r="2.6" fill="#a9c4e0"/>
<path d="M2946.1,229.4 L3012.2,229.4" stroke="#a9c4e0" stroke-width="2.2"/>
<ellipse cx="2979.2" cy="229.4" rx="13" ry="8.6" fill="#dcebf7" stroke="#a9c4e0" stroke-width="2"/>
<circle cx="2979.2" cy="229.4" r="4" fill="#9fc5e8"/>
<path d="M3012.2,229.4 L3022.2,218.20000000000002 L3158.5,218.20000000000002 L3158.5,240.6 L3022.2,240.6 Z" fill="#dcebf7" stroke="#a9c4e0" stroke-width="2"/>
<path d="M2921.2,289.6 C2944.1,288.6 2946.1,303.2 2946.1,309.2 C2946.1,315.2 2944.1,323.6 2921.2,322.6" stroke="#a9c4e0" stroke-width="2.2" fill="none"/>
<circle cx="2921.2" cy="289.6" r="2.6" fill="#a9c4e0"/><circle cx="2921.2" cy="322.6" r="2.6" fill="#a9c4e0"/>
<path d="M2946.1,309.2 L3012.2,309.2" stroke="#a9c4e0" stroke-width="2.2"/>
<ellipse cx="2977.7" cy="309.2" rx="13" ry="8.6" fill="#dcebf7" stroke="#a9c4e0" stroke-width="2"/>
<circle cx="2977.7" cy="309.2" r="4" fill="#9fc5e8"/>
<path d="M3012.2,309.2 L3022.2,298.0 L3158.5,298.0 L3158.5,320.4 L3022.2,320.4 Z" fill="#dcebf7" stroke="#a9c4e0" stroke-width="2"/>
<path d="M2921.2,334.7 C2944.1,333.7 2946.1,338.2 2946.1,344.2 C2946.1,350.2 2944.1,363.8 2921.2,362.8" stroke="#a9c4e0" stroke-width="2.2" fill="none"/>
<circle cx="2921.2" cy="334.7" r="2.6" fill="#a9c4e0"/><circle cx="2921.2" cy="362.8" r="2.6" fill="#a9c4e0"/>
<path d="M2946.1,344.2 L3012.2,344.2" stroke="#a9c4e0" stroke-width="2.2"/>
<ellipse cx="2979.2" cy="344.2" rx="13" ry="8.6" fill="#dcebf7" stroke="#a9c4e0" stroke-width="2"/>
<circle cx="2979.2" cy="344.2" r="4" fill="#9fc5e8"/>
<path d="M3012.2,344.2 L3022.2,333.0 L3158.5,333.0 L3158.5,355.4 L3022.2,355.4 Z" fill="#dcebf7" stroke="#a9c4e0" stroke-width="2"/>
<path d="M2921.2,440.9 C2944.1,439.9 2946.1,455.0 2946.1,461.0 C2946.1,467.0 2944.1,475.8 2921.2,474.8" stroke="#a9c4e0" stroke-width="2.2" fill="none"/>
<circle cx="2921.2" cy="440.9" r="2.6" fill="#a9c4e0"/><circle cx="2921.2" cy="474.8" r="2.6" fill="#a9c4e0"/>
<path d="M2946.1,461.0 L3012.2,461.0" stroke="#a9c4e0" stroke-width="2.2"/>
<ellipse cx="2972.8" cy="461.0" rx="13" ry="8.6" fill="#dcebf7" stroke="#a9c4e0" stroke-width="2"/>
<circle cx="2972.8" cy="461.0" r="4" fill="#9fc5e8"/>
<path d="M3012.2,461.0 L3022.2,449.8 L3158.5,449.8 L3158.5,472.2 L3022.2,472.2 Z" fill="#dcebf7" stroke="#a9c4e0" stroke-width="2"/>
<path d="M2923.2,133.9 C2933.2,133.9 2936.4,145.45000000000002 2940.4,150.4" stroke="#e08a96" stroke-width="1.8" fill="none"/>
<circle cx="2923.2" cy="133.9" r="2.4" fill="#e08a96"/>
<path d="M2923.2,144.9 C2933.2,144.9 2936.4,148.75 2940.4,150.4" stroke="#e08a96" stroke-width="1.8" fill="none"/>
<circle cx="2923.2" cy="144.9" r="2.4" fill="#e08a96"/>
<path d="M2923.2,156.4 C2933.2,156.4 2936.4,152.20000000000002 2940.4,150.4" stroke="#e08a96" stroke-width="1.8" fill="none"/>
<circle cx="2923.2" cy="156.4" r="2.4" fill="#e08a96"/>
<path d="M2940.4,150.4 L2993.5,150.4" stroke="#e08a96" stroke-width="1.8"/>
<rect x="3013.6" y="139.4" width="113.40000000000009" height="22" fill="#f9d0d4" stroke="#e39aa5" stroke-width="1.8"/>
<ellipse cx="3004.55" cy="150.4" rx="12.049999999999955" ry="11.5" fill="#f9d0d4" stroke="#e39aa5" stroke-width="1.8"/>
<circle cx="3004.1" cy="150.4" r="4" fill="#e08a96" opacity="0.8"/>
<ellipse cx="3142.75" cy="150.4" rx="16.75" ry="10.5" fill="#f9d0d4" stroke="#e39aa5" stroke-width="1.8"/>
<path d="M2923.2,250.2 C2933.2,250.2 2936.4,261.75 2940.4,266.7" stroke="#4d7ba6" stroke-width="1.8" fill="none"/>
<circle cx="2923.2" cy="250.2" r="2.4" fill="#4d7ba6"/>
<path d="M2923.2,261.2 C2933.2,261.2 2936.4,265.05 2940.4,266.7" stroke="#4d7ba6" stroke-width="1.8" fill="none"/>
<circle cx="2923.2" cy="261.2" r="2.4" fill="#4d7ba6"/>
<path d="M2923.2,272.7 C2933.2,272.7 2936.4,268.5 2940.4,266.7" stroke="#4d7ba6" stroke-width="1.8" fill="none"/>
<circle cx="2923.2" cy="272.7" r="2.4" fill="#4d7ba6"/>
<path d="M2940.4,266.7 L2993.5,266.7" stroke="#4d7ba6" stroke-width="1.8"/>
<rect x="3013.6" y="255.7" width="113.40000000000009" height="22" fill="#7fb2dd" stroke="#5f93c4" stroke-width="1.8"/>
<ellipse cx="3004.55" cy="266.7" rx="12.049999999999955" ry="11.5" fill="#7fb2dd" stroke="#5f93c4" stroke-width="1.8"/>
<circle cx="3004.1" cy="266.7" r="4" fill="#4d7ba6" opacity="0.8"/>
<ellipse cx="3142.75" cy="266.7" rx="16.75" ry="10.5" fill="#7fb2dd" stroke="#5f93c4" stroke-width="1.8"/>
<path d="M2923.2,365.8 C2933.2,365.8 2936.4,377.35 2940.4,382.3" stroke="#5f9a4c" stroke-width="1.8" fill="none"/>
<circle cx="2923.2" cy="365.8" r="2.4" fill="#5f9a4c"/>
<path d="M2923.2,376.8 C2933.2,376.8 2936.4,380.65000000000003 2940.4,382.3" stroke="#5f9a4c" stroke-width="1.8" fill="none"/>
<circle cx="2923.2" cy="376.8" r="2.4" fill="#5f9a4c"/>
<path d="M2923.2,388.3 C2933.2,388.3 2936.4,384.1 2940.4,382.3" stroke="#5f9a4c" stroke-width="1.8" fill="none"/>
<circle cx="2923.2" cy="388.3" r="2.4" fill="#5f9a4c"/>
<path d="M2940.4,382.3 L2993.5,382.3" stroke="#5f9a4c" stroke-width="1.8"/>
<rect x="3013.6" y="371.3" width="113.40000000000009" height="22" fill="#a3db85" stroke="#7dbb62" stroke-width="1.8"/>
<ellipse cx="3004.55" cy="382.3" rx="12.049999999999955" ry="11.5" fill="#a3db85" stroke="#7dbb62" stroke-width="1.8"/>
<circle cx="3004.1" cy="382.3" r="4" fill="#5f9a4c" opacity="0.8"/>
<ellipse cx="3142.75" cy="382.3" rx="16.75" ry="10.5" fill="#a3db85" stroke="#7dbb62" stroke-width="1.8"/>
<path d="M2923.2,410.0 C2933.2,410.0 2936.4,421.55 2940.4,426.5" stroke="#e08a96" stroke-width="1.8" fill="none"/>
<circle cx="2923.2" cy="410.0" r="2.4" fill="#e08a96"/>
<path d="M2923.2,421.0 C2933.2,421.0 2936.4,424.85 2940.4,426.5" stroke="#e08a96" stroke-width="1.8" fill="none"/>
<circle cx="2923.2" cy="421.0" r="2.4" fill="#e08a96"/>
<path d="M2923.2,432.5 C2933.2,432.5 2936.4,428.3 2940.4,426.5" stroke="#e08a96" stroke-width="1.8" fill="none"/>
<circle cx="2923.2" cy="432.5" r="2.4" fill="#e08a96"/>
<path d="M2940.4,426.5 L2993.5,426.5" stroke="#e08a96" stroke-width="1.8"/>
<rect x="3013.6" y="415.5" width="113.40000000000009" height="22" fill="#f9d0d4" stroke="#e39aa5" stroke-width="1.8"/>
<ellipse cx="3004.55" cy="426.5" rx="12.049999999999955" ry="11.5" fill="#f9d0d4" stroke="#e39aa5" stroke-width="1.8"/>
<circle cx="3004.1" cy="426.5" r="4" fill="#e08a96" opacity="0.8"/>
<ellipse cx="3142.75" cy="426.5" rx="16.75" ry="10.5" fill="#f9d0d4" stroke="#e39aa5" stroke-width="1.8"/>
<path d="M3263.3,187.8 L3154.2,148.2" stroke="#000" stroke-width="2"/>
<path d="M3263.3,187.8 L3152.8,264.7" stroke="#000" stroke-width="2"/>
<path d="M3263.3,187.8 L3152.8,384.4" stroke="#000" stroke-width="2"/>
<!-- b_brain -->
<path d="M3517.7,728.4C3523.6,719.2 3553.3,703.8 3565.2,700.8C3577.1,697.8 3579.0,710.0 3588.9,710.6C3598.8,711.2 3612.0,709.0 3624.5,704.7C3637.0,700.4 3652.1,689.6 3664.0,684.9C3675.9,680.1 3685.8,674.9 3695.7,676.2C3705.6,677.5 3718.4,684.8 3723.3,692.8C3728.2,700.8 3727.9,712.6 3725.3,724.5C3722.7,736.4 3717.1,752.8 3707.5,764.0C3697.9,775.2 3681.8,784.6 3668.0,791.7C3654.2,798.8 3636.4,805.7 3624.5,806.7C3612.6,807.7 3604.1,798.8 3596.8,797.6C3589.6,796.4 3588.2,803.2 3581.0,799.6C3573.8,796.0 3561.9,783.1 3553.3,775.9C3544.7,768.6 3535.5,764.0 3529.6,756.1C3523.7,748.2 3511.8,737.6 3517.7,728.4Z" fill="#e6d2d9" stroke="#333333" stroke-width="1.6"/>
<path d="M3519.7,730.4C3522.0,727.8 3535.8,741.6 3545.4,740.3C3555.0,739.0 3565.8,724.1 3577.0,722.5C3588.2,720.9 3600.7,732.7 3612.6,730.4C3624.5,728.1 3637.0,712.0 3648.2,708.7C3659.4,705.4 3669.2,713.2 3679.8,710.6C3690.4,708.0 3704.2,695.1 3711.5,692.8C3718.8,690.5 3722.0,692.8 3723.3,696.8C3724.6,700.8 3725.3,711.0 3719.4,716.6C3713.5,722.2 3698.2,727.4 3687.7,730.4C3677.1,733.4 3667.3,730.1 3656.1,734.4C3644.9,738.7 3632.4,753.1 3620.5,756.1C3608.6,759.1 3596.1,750.2 3584.9,752.2C3573.7,754.2 3562.2,767.4 3553.3,768.0C3544.4,768.6 3537.2,762.4 3531.6,756.1C3526.0,749.8 3517.4,733.0 3519.7,730.4Z" fill="#d3b6c4"/>
<path d="M3519.7,730.4C3523.0,729.2 3535.8,739.1 3545.4,737.1C3555.0,735.1 3565.8,720.6 3577.0,718.5C3588.2,716.4 3600.7,727.5 3612.6,724.5C3624.5,721.5 3637.0,704.8 3648.2,700.8C3659.4,696.8 3670.6,703.4 3679.8,700.8C3689.0,698.1 3697.0,686.5 3703.6,684.9C3710.2,683.2 3720.7,687.6 3719.4,690.9C3718.1,694.2 3705.6,701.1 3695.7,704.7C3685.8,708.3 3672.0,708.3 3660.1,712.6C3648.2,716.9 3637.0,727.4 3624.5,730.4C3612.0,733.4 3597.4,727.4 3584.9,730.4C3572.4,733.4 3559.3,745.9 3549.4,748.2C3539.5,750.5 3530.6,747.2 3525.6,744.2C3520.6,741.2 3516.4,731.6 3519.7,730.4Z" fill="#c4a0b4"/>
<path d="M3493.2,760.1C3491.9,750.7 3502.7,733.5 3507.8,733.2C3512.9,732.9 3516.8,750.3 3523.7,758.1C3530.6,765.9 3541.7,774.1 3549.4,779.8C3557.1,785.5 3565.0,787.2 3569.9,792.5C3574.8,797.8 3575.7,804.5 3579.0,811.5C3582.3,818.5 3592.5,827.6 3589.7,834.4C3586.9,841.2 3570.4,854.4 3562.0,852.2C3553.6,850.0 3547.2,831.8 3539.5,821.4C3531.8,811.0 3523.4,799.9 3515.7,789.7C3508.0,779.5 3494.5,769.5 3493.2,760.1Z" fill="#e8a091" stroke="#333333" stroke-width="1.6"/>
<path d="M3191.5,594.0C3191.0,582.1 3192.7,569.6 3194.3,558.4C3196.0,547.2 3198.2,536.0 3201.4,526.8C3204.6,517.6 3208.7,511.0 3213.3,503.1C3217.9,495.2 3222.5,487.2 3229.1,479.3C3235.7,471.4 3244.2,462.9 3252.8,455.6C3261.4,448.4 3271.3,442.1 3280.5,435.8C3289.7,429.5 3298.3,423.6 3308.2,418.0C3318.1,412.4 3329.3,406.8 3339.8,402.2C3350.3,397.6 3360.2,393.9 3371.4,390.4C3382.6,386.9 3396.4,382.6 3407.0,381.3C3417.6,380.0 3424.8,383.0 3434.7,382.5C3444.6,382.0 3455.8,378.8 3466.3,378.5C3476.9,378.2 3488.1,380.8 3498.0,380.5C3507.9,380.2 3515.7,376.5 3525.6,376.5C3535.5,376.5 3547.4,378.9 3557.3,380.5C3567.2,382.1 3575.0,383.1 3584.9,386.4C3594.8,389.7 3606.7,395.4 3616.6,400.3C3626.5,405.2 3635.6,410.2 3644.2,416.1C3652.8,422.0 3660.1,428.6 3668.0,435.8C3675.9,443.1 3683.8,451.7 3691.7,459.6C3699.6,467.5 3708.2,475.4 3715.4,483.3C3722.7,491.2 3728.9,498.8 3735.2,507.0C3741.5,515.2 3747.7,524.1 3753.0,532.7C3758.3,541.3 3762.9,550.2 3766.8,558.4C3770.8,566.6 3774.1,574.2 3776.7,582.1C3779.3,590.0 3781.6,598.0 3782.6,605.9C3783.6,613.8 3783.2,622.4 3782.6,629.6C3781.9,636.9 3780.7,642.8 3778.7,649.4C3776.7,656.0 3774.1,663.2 3770.8,669.1C3767.5,675.0 3763.5,680.6 3758.9,684.9C3754.3,689.2 3748.4,693.5 3743.1,694.8C3737.8,696.1 3732.6,694.8 3727.3,692.8C3722.0,690.8 3716.8,686.0 3711.5,683.0C3706.2,680.0 3701.0,675.8 3695.7,675.1C3690.4,674.4 3685.1,677.4 3679.8,679.0C3674.5,680.6 3669.9,681.9 3664.0,684.9C3658.1,687.9 3650.8,693.5 3644.2,696.8C3637.6,700.1 3631.1,702.6 3624.5,704.7C3617.9,706.8 3610.6,708.8 3604.7,709.5C3598.8,710.2 3593.8,710.2 3588.9,708.7C3584.0,707.2 3579.1,702.8 3575.1,700.8C3571.1,698.8 3569.5,695.2 3565.2,696.8C3560.9,698.4 3554.7,706.6 3549.4,710.6C3544.1,714.6 3538.8,717.9 3533.5,720.5C3528.2,723.1 3523.0,725.2 3517.7,726.5C3512.4,727.8 3505.2,725.8 3501.9,728.4C3498.6,731.0 3499.3,737.7 3498.0,742.3C3496.7,746.9 3496.7,751.8 3494.0,756.1C3491.3,760.4 3486.7,764.7 3482.1,768.0C3477.5,771.3 3474.2,774.1 3466.3,775.9C3458.4,777.7 3445.2,779.0 3434.7,779.0C3424.2,779.0 3411.7,778.4 3403.1,775.9C3394.5,773.4 3389.9,768.6 3383.3,764.0C3376.7,759.4 3368.8,752.8 3363.5,748.2C3358.2,743.6 3355.0,740.2 3351.7,736.3C3348.4,732.3 3346.3,728.8 3343.7,724.5C3341.0,720.2 3338.4,713.9 3335.8,710.6C3333.2,707.3 3333.2,705.4 3327.9,704.7C3322.6,704.1 3312.1,706.7 3304.2,706.7C3296.3,706.7 3289.1,706.0 3280.5,704.7C3271.9,703.4 3261.4,701.4 3252.8,698.8C3244.2,696.2 3235.4,692.5 3229.1,688.9C3222.8,685.3 3219.1,681.6 3215.2,677.0C3211.2,672.4 3208.4,669.1 3205.4,661.2C3202.4,653.3 3199.7,640.8 3197.4,629.6C3195.1,618.4 3192.0,605.9 3191.5,594.0Z" fill="#f7c5af" stroke="#333333" stroke-width="2.2" stroke-linejoin="round"/>
<path d="M3444.6,420.0C3446.2,422.6 3452.5,428.6 3454.5,435.8C3456.5,443.1 3459.7,456.9 3456.4,463.5C3453.1,470.1 3440.9,471.4 3434.7,475.4C3428.4,479.3 3422.5,481.3 3418.9,487.2C3415.3,493.1 3414.2,501.8 3412.9,511.0C3411.6,520.2 3412.0,533.4 3411.0,542.6C3410.0,551.8 3408.3,558.4 3407.0,566.3C3405.7,574.2 3403.8,586.0 3403.1,590.0" fill="none" stroke="#333333" stroke-width="2.4" stroke-linecap="round" stroke-linejoin="round"/>
<path d="M3454.5,435.8C3456.5,432.5 3461.0,422.0 3466.3,416.1C3471.6,410.2 3480.5,404.9 3486.1,400.3C3491.7,395.7 3497.6,390.4 3499.9,388.4" fill="none" stroke="#333333" stroke-width="2" stroke-linecap="round" stroke-linejoin="round"/>
<path d="M3387.2,483.3C3389.8,481.3 3396.5,476.0 3403.1,471.4C3409.7,466.8 3418.9,463.5 3426.8,455.6C3434.7,447.7 3441.9,432.2 3450.5,424.0C3459.1,415.8 3473.6,409.2 3478.2,406.2" fill="none" stroke="#333333" stroke-width="2" stroke-linecap="round" stroke-linejoin="round"/>
<path d="M3448.5,491.2C3451.5,493.8 3460.0,503.4 3466.3,507.0C3472.6,510.6 3481.5,516.2 3486.1,512.9C3490.7,509.6 3493.3,496.8 3494.0,487.2C3494.7,477.6 3489.3,464.2 3490.0,455.6C3490.7,447.0 3493.4,440.7 3498.0,435.8C3502.6,430.9 3510.5,428.6 3517.7,426.0C3524.9,423.4 3534.2,423.0 3541.4,420.0C3548.7,417.0 3557.9,410.2 3561.2,408.2" fill="none" stroke="#333333" stroke-width="2.6" stroke-linecap="round" stroke-linejoin="round"/>
<path d="M3486.1,512.9C3486.8,516.5 3488.0,527.8 3490.0,534.7C3492.0,541.6 3493.4,547.2 3498.0,554.5C3502.6,561.8 3511.1,571.6 3517.7,578.2C3524.3,584.8 3529.6,591.4 3537.5,594.0C3545.4,596.6 3556.6,596.0 3565.2,594.0C3573.8,592.0 3582.3,587.4 3588.9,582.1C3595.5,576.8 3601.4,571.6 3604.7,562.4C3608.0,553.2 3608.7,539.3 3608.7,526.8C3608.7,514.3 3604.7,499.1 3604.7,487.2C3604.7,475.3 3606.7,463.5 3608.7,455.6C3610.7,447.7 3611.3,444.4 3616.6,439.8C3621.9,435.2 3636.4,429.9 3640.3,427.9" fill="none" stroke="#333333" stroke-width="2.4" stroke-linecap="round" stroke-linejoin="round"/>
<path d="M3537.5,594.0C3534.2,595.3 3524.3,598.6 3517.7,601.9C3511.1,605.2 3503.3,610.5 3498.0,613.8C3492.7,617.1 3490.1,621.7 3486.1,621.7C3482.1,621.7 3478.1,617.1 3474.2,613.8C3470.2,610.5 3464.4,603.9 3462.4,601.9" fill="none" stroke="#333333" stroke-width="2.4" stroke-linecap="round" stroke-linejoin="round"/>
<path d="M3486.1,621.7C3484.8,624.3 3480.8,633.5 3478.2,637.5C3475.6,641.5 3470.3,641.4 3470.3,645.4C3470.3,649.4 3473.6,657.9 3478.2,661.2C3482.8,664.5 3494.7,664.5 3498.0,665.2" fill="none" stroke="#333333" stroke-width="1.8" stroke-linecap="round" stroke-linejoin="round"/>
<path d="M3498.0,613.8C3503.3,612.5 3518.4,606.6 3529.6,605.9C3540.8,605.2 3554.7,607.8 3565.2,609.8C3575.7,611.8 3584.2,616.4 3592.8,617.7C3601.4,619.0 3608.0,621.0 3616.6,617.7C3625.2,614.4 3636.3,605.2 3644.2,598.0C3652.1,590.8 3661.3,583.4 3664.0,574.2C3666.7,565.0 3660.1,554.5 3660.1,542.6C3660.1,530.8 3662.7,515.0 3664.0,503.1C3665.3,491.2 3665.4,478.6 3668.0,471.4C3670.6,464.1 3677.8,461.6 3679.8,459.6" fill="none" stroke="#333333" stroke-width="2.2" stroke-linecap="round" stroke-linejoin="round"/>
<path d="M3616.6,439.8C3617.9,440.4 3621.2,441.1 3624.5,443.7C3627.8,446.3 3634.3,453.6 3636.3,455.6" fill="none" stroke="#333333" stroke-width="2" stroke-linecap="round" stroke-linejoin="round"/>
<path d="M3604.7,562.4C3608.0,561.1 3621.9,558.5 3624.5,554.5C3627.1,550.5 3621.2,541.2 3620.5,538.6" fill="none" stroke="#333333" stroke-width="1.6" stroke-linecap="round" stroke-linejoin="round"/>
<path d="M3503.9,665.2C3505.6,662.6 3508.2,654.0 3513.8,649.4C3519.4,644.8 3528.3,640.8 3537.5,637.5C3546.7,634.2 3558.5,631.6 3569.1,629.6C3579.7,627.6 3591.6,624.3 3600.8,625.6C3610.0,626.9 3617.3,631.6 3624.5,637.5C3631.7,643.4 3637.6,658.6 3644.2,661.2C3650.8,663.8 3658.1,658.6 3664.0,653.3C3669.9,648.0 3678.5,637.5 3679.8,629.6C3681.1,621.7 3673.2,609.9 3671.9,605.9" fill="none" stroke="#333333" stroke-width="2" stroke-linecap="round" stroke-linejoin="round"/>
<path d="M3498.0,665.2C3499.3,668.5 3503.3,679.0 3505.9,684.9C3508.5,690.8 3512.5,698.1 3513.8,700.8" fill="none" stroke="#333333" stroke-width="1.8" stroke-linecap="round" stroke-linejoin="round"/>
<path d="M3624.5,637.5C3624.5,641.5 3625.2,654.0 3624.5,661.2C3623.8,668.5 3623.1,675.1 3620.5,681.0C3617.9,686.9 3610.7,694.2 3608.7,696.8" fill="none" stroke="#333333" stroke-width="1.6" stroke-linecap="round" stroke-linejoin="round"/>
<path d="M3541.4,679.0C3542.7,678.7 3548.1,677.3 3549.4,677.0" fill="none" stroke="#333333" stroke-width="2" stroke-linecap="round" stroke-linejoin="round"/>
<path d="M3371.4,487.2C3374.0,486.6 3383.9,488.6 3387.2,483.3C3390.5,478.0 3391.2,464.8 3391.2,455.6C3391.2,446.4 3385.2,435.8 3387.2,427.9C3389.2,420.0 3396.5,413.5 3403.1,408.2C3409.7,402.9 3419.6,399.6 3426.8,396.3C3434.1,393.0 3443.3,389.7 3446.6,388.4" fill="none" stroke="#333333" stroke-width="2.2" stroke-linecap="round" stroke-linejoin="round"/>
<path d="M3324.0,483.3C3327.9,484.6 3339.8,490.6 3347.7,491.2C3355.6,491.8 3365.8,485.2 3371.4,487.2C3377.0,489.2 3381.3,495.2 3381.3,503.1C3381.3,511.0 3375.0,530.8 3371.4,534.7C3367.8,538.7 3363.6,529.4 3359.6,526.8C3355.6,524.2 3349.7,520.2 3347.7,518.9" fill="none" stroke="#333333" stroke-width="2.2" stroke-linecap="round" stroke-linejoin="round"/>
<path d="M3371.4,534.7C3370.8,540.0 3368.5,555.8 3367.5,566.3C3366.5,576.8 3365.8,592.7 3365.5,598.0" fill="none" stroke="#333333" stroke-width="2.6" stroke-linecap="round" stroke-linejoin="round"/>
<path d="M3359.6,526.8C3361.6,529.4 3369.4,540.0 3371.4,542.6" fill="none" stroke="#333333" stroke-width="3" stroke-linecap="round" stroke-linejoin="round"/>
<path d="M3327.9,455.6C3328.6,453.6 3328.6,449.0 3331.9,443.7C3335.2,438.4 3343.8,429.3 3347.7,424.0C3351.6,418.7 3354.3,414.1 3355.6,412.1" fill="none" stroke="#333333" stroke-width="2" stroke-linecap="round" stroke-linejoin="round"/>
<path d="M3324.0,447.7C3326.0,446.4 3333.8,441.1 3335.8,439.8" fill="none" stroke="#333333" stroke-width="2" stroke-linecap="round" stroke-linejoin="round"/>
<path d="M3272.6,514.9C3275.2,516.2 3284.8,520.2 3288.4,522.8C3292.0,525.4 3293.3,529.4 3294.3,530.7" fill="none" stroke="#333333" stroke-width="2" stroke-linecap="round" stroke-linejoin="round"/>
<path d="M3280.5,507.0C3281.8,509.6 3287.1,520.2 3288.4,522.8" fill="none" stroke="#333333" stroke-width="2" stroke-linecap="round" stroke-linejoin="round"/>
<path d="M3209.3,522.8C3211.3,523.5 3217.2,525.8 3221.2,526.8C3225.1,527.8 3231.0,528.5 3233.0,528.8" fill="none" stroke="#333333" stroke-width="1.8" stroke-linecap="round" stroke-linejoin="round"/>
<path d="M3248.8,558.4C3251.5,561.0 3260.1,570.9 3264.7,574.2C3269.3,577.5 3272.6,580.2 3276.5,578.2C3280.4,576.2 3287.1,568.3 3288.4,562.4C3289.7,556.5 3285.1,545.9 3284.4,542.6" fill="none" stroke="#333333" stroke-width="1.8" stroke-linecap="round" stroke-linejoin="round"/>
<path d="M3276.5,578.2C3277.2,581.5 3279.2,593.4 3280.5,598.0C3281.8,602.6 3281.1,607.9 3284.4,605.9C3287.7,603.9 3294.4,588.8 3300.3,586.1C3306.2,583.5 3314.7,588.0 3320.0,590.0C3325.3,592.0 3329.3,600.6 3331.9,598.0C3334.5,595.4 3333.8,580.1 3335.8,574.2C3337.8,568.3 3342.4,564.4 3343.7,562.4" fill="none" stroke="#333333" stroke-width="2" stroke-linecap="round" stroke-linejoin="round"/>
<path d="M3320.0,590.0C3320.7,588.0 3323.3,580.2 3324.0,578.2" fill="none" stroke="#333333" stroke-width="2.4" stroke-linecap="round" stroke-linejoin="round"/>
<path d="M3347.7,518.9C3349.0,521.5 3353.0,526.8 3355.6,534.7C3358.2,542.6 3362.2,561.0 3363.5,566.3" fill="none" stroke="#333333" stroke-width="1.6" stroke-linecap="round" stroke-linejoin="round"/>
<path d="M3371.4,669.1C3374.0,668.5 3381.9,663.9 3387.2,665.2C3392.5,666.5 3397.8,673.7 3403.1,677.0C3408.4,680.3 3413.6,680.3 3418.9,684.9C3424.2,689.5 3429.4,699.4 3434.7,704.7C3440.0,710.0 3443.2,714.0 3450.5,716.6C3457.8,719.2 3469.6,718.9 3478.2,720.5C3486.8,722.1 3497.9,725.5 3501.9,726.5" fill="none" stroke="#333333" stroke-width="2.2" stroke-linecap="round" stroke-linejoin="round"/>
<path d="M3347.7,704.7C3349.7,706.0 3355.6,708.0 3359.6,712.6C3363.6,717.2 3368.1,725.1 3371.4,732.4C3374.7,739.6 3378.0,752.1 3379.3,756.1" fill="none" stroke="#333333" stroke-width="1.8" stroke-linecap="round" stroke-linejoin="round"/>
<path d="M3407.0,742.3C3410.3,741.6 3420.9,739.3 3426.8,738.3C3432.7,737.3 3440.0,736.6 3442.6,736.3" fill="none" stroke="#333333" stroke-width="1.6" stroke-linecap="round" stroke-linejoin="round"/>
<path d="M3470.3,645.4C3467.0,646.7 3457.8,652.6 3450.5,653.3C3443.2,654.0 3434.7,650.7 3426.8,649.4C3418.9,648.1 3409.7,644.8 3403.1,645.4C3396.5,646.0 3392.5,649.3 3387.2,653.3C3381.9,657.2 3374.0,666.5 3371.4,669.1" fill="none" stroke="#333333" stroke-width="1.4" stroke-linecap="round" stroke-linejoin="round"/>
<path d="M3668.0,471.4C3667.3,470.1 3663.3,466.1 3664.0,463.5C3664.7,460.9 3670.6,456.9 3671.9,455.6" fill="none" stroke="#333333" stroke-width="1.6" stroke-linecap="round" stroke-linejoin="round"/>
<path d="M3660.1,645.4C3662.7,648.0 3670.6,656.6 3675.9,661.2C3681.2,665.8 3689.1,671.1 3691.7,673.1" fill="none" stroke="#333333" stroke-width="1.6" stroke-linecap="round" stroke-linejoin="round"/>
<path d="M3472.3,503.1C3474.3,504.7 3481.0,509.6 3484.1,512.9C3487.2,516.2 3489.7,521.1 3490.8,522.8" fill="none" stroke="#2b2b2b" stroke-width="5.5" stroke-linecap="round" stroke-linejoin="round"/>
<path d="M3490.8,522.8C3492.0,520.8 3495.8,514.0 3498.0,511.0C3500.2,508.0 3502.9,506.0 3503.9,505.0" fill="none" stroke="#2b2b2b" stroke-width="4.5" stroke-linecap="round" stroke-linejoin="round"/>
<path d="M3490.8,522.8C3490.6,524.8 3489.6,532.7 3489.3,534.7" fill="none" stroke="#2b2b2b" stroke-width="4" stroke-linecap="round" stroke-linejoin="round"/>
<path d="M3349.7,520.8C3351.7,522.8 3357.9,528.7 3361.5,532.7C3365.1,536.7 3369.8,542.6 3371.4,544.6" fill="none" stroke="#2b2b2b" stroke-width="5.5" stroke-linecap="round" stroke-linejoin="round"/>
<path d="M3369.4,543.4C3369.1,546.6 3367.8,559.2 3367.5,562.4" fill="none" stroke="#2b2b2b" stroke-width="4" stroke-linecap="round" stroke-linejoin="round"/>
<path d="M3318.0,586.1C3319.3,587.3 3323.6,591.1 3326.0,593.2C3328.4,595.3 3331.6,597.8 3332.7,598.7" fill="none" stroke="#2b2b2b" stroke-width="4.5" stroke-linecap="round" stroke-linejoin="round"/>
<path d="M3476.2,611.8C3478.0,613.4 3484.7,619.5 3486.9,621.7C3489.1,623.9 3488.9,624.3 3489.3,624.8" fill="none" stroke="#2b2b2b" stroke-width="5" stroke-linecap="round" stroke-linejoin="round"/>
<path d="M3489.3,624.8C3490.8,623.5 3496.6,618.2 3498.0,616.9" fill="none" stroke="#2b2b2b" stroke-width="4" stroke-linecap="round" stroke-linejoin="round"/>
<path d="M3610.6,439.8C3612.9,440.6 3620.1,441.7 3624.5,444.5C3628.9,447.3 3635.0,454.4 3637.1,456.4" fill="none" stroke="#2b2b2b" stroke-width="4.5" stroke-linecap="round" stroke-linejoin="round"/>
<path d="M3519.7,579.0C3522.3,581.0 3530.6,588.2 3535.5,590.8C3540.4,593.4 3547.1,594.1 3549.4,594.8" fill="none" stroke="#2b2b2b" stroke-width="4.5" stroke-linecap="round" stroke-linejoin="round"/>
<path d="M3450.5,492.0C3452.5,493.9 3459.0,500.5 3462.4,503.1C3465.8,505.7 3469.7,507.0 3471.1,507.8" fill="none" stroke="#2b2b2b" stroke-width="4" stroke-linecap="round" stroke-linejoin="round"/>
<path d="M3387.2,669.9C3389.2,671.0 3395.8,674.4 3399.1,676.2C3402.4,678.1 3405.7,680.2 3407.0,681.0" fill="none" stroke="#2b2b2b" stroke-width="4" stroke-linecap="round" stroke-linejoin="round"/>
<path d="M3604.7,554.5C3607.0,555.0 3615.5,559.2 3618.5,557.6C3621.5,556.0 3621.8,546.8 3622.5,544.6" fill="none" stroke="#2b2b2b" stroke-width="3.6" stroke-linecap="round" stroke-linejoin="round"/>
<path d="M3260.7,592.0C3260.0,594.3 3256.1,600.3 3256.8,605.9C3257.5,611.5 3260.8,619.7 3264.7,625.6C3268.6,631.5 3274.6,637.4 3280.5,641.4C3286.4,645.4 3293.7,648.4 3300.3,649.4C3306.9,650.4 3314.9,648.2 3320.0,647.4C3325.1,646.6 3329.2,645.1 3331.1,644.6" fill="none" stroke="#000" stroke-width="3.6" stroke-linecap="round" stroke-linejoin="round"/>
<path d="M3250.8,593.2C3252.5,594.0 3260.0,598.5 3260.7,598.0C3261.4,597.5 3255.8,591.3 3254.8,590.0" fill="none" stroke="#000" stroke-width="3" stroke-linecap="round" stroke-linejoin="round"/>
<path d="M3300.3,649.4C3300.6,652.0 3303.5,660.6 3302.2,665.2C3300.9,669.8 3295.6,673.0 3292.3,677.0C3289.0,681.0 3284.1,686.9 3282.5,688.9" fill="none" stroke="#000" stroke-width="3.6" stroke-linecap="round" stroke-linejoin="round"/>
<path d="M3266.6,675.1C3268.9,675.5 3276.2,678.1 3280.5,677.8C3284.8,677.5 3288.0,672.9 3292.3,673.1C3296.6,673.3 3303.9,678.0 3306.2,679.0" fill="none" stroke="#000" stroke-width="3.2" stroke-linecap="round" stroke-linejoin="round"/>
<path d="M3286.4,667.1C3287.4,668.8 3291.3,675.4 3292.3,677.0" fill="none" stroke="#000" stroke-width="3" stroke-linecap="round" stroke-linejoin="round"/>
<path d="M3677.9,491.2C3679.9,495.1 3687.3,507.6 3689.7,514.9C3692.1,522.1 3693.2,528.8 3692.5,534.7C3691.8,540.6 3686.9,547.9 3685.8,550.5" fill="none" stroke="#4a5560" stroke-width="1.8" stroke-linecap="round" stroke-linejoin="round"/>
<path d="M3692.5,534.7C3695.0,536.0 3703.0,537.3 3707.5,542.6C3712.0,547.9 3716.4,559.0 3719.4,566.3C3722.4,573.5 3721.4,585.4 3725.3,586.1C3729.2,586.8 3740.1,572.9 3743.1,570.3" fill="none" stroke="#4a5560" stroke-width="1.8" stroke-linecap="round" stroke-linejoin="round"/>
<path d="M3719.4,578.2C3721.4,581.5 3727.2,593.1 3731.2,598.0C3735.1,602.9 3738.8,607.8 3743.1,607.8C3747.4,607.8 3754.6,599.6 3756.9,598.0" fill="none" stroke="#4a5560" stroke-width="1.8" stroke-linecap="round" stroke-linejoin="round"/>
<path d="M3703.6,611.8C3705.9,614.4 3711.5,623.6 3717.4,627.6C3723.3,631.6 3732.8,630.9 3739.1,635.5C3745.4,640.1 3750.7,651.0 3755.0,655.3C3759.3,659.6 3763.2,660.2 3764.8,661.2" fill="none" stroke="#4a5560" stroke-width="1.8" stroke-linecap="round" stroke-linejoin="round"/>
<path d="M3711.5,503.1C3713.5,507.1 3722.0,520.2 3723.3,526.8C3724.6,533.4 3720.1,540.0 3719.4,542.6" fill="none" stroke="#4a5560" stroke-width="1.6" stroke-linecap="round" stroke-linejoin="round"/>
<path d="M3743.1,607.8C3744.4,610.8 3747.1,620.0 3751.0,625.6C3754.9,631.2 3764.2,638.8 3766.8,641.4" fill="none" stroke="#4a5560" stroke-width="1.6" stroke-linecap="round" stroke-linejoin="round"/>
<ellipse cx="3722.1" cy="580.2" rx="60" ry="119" transform="rotate(-11 3722.1 580.2)" fill="#b7cdd0" fill-opacity="0.62" stroke="#7b8a98" stroke-width="1.6" stroke-dasharray="6 4"/>
<path d="M3656,356 L3749,544.6" stroke="#000" stroke-width="4"/>
<!-- b_text -->
<text x="2107.8" y="368.6" font-size="64" fill="#000" >Retina</text>
<path d="M2205.2,402 L2188.7,475.6" stroke="#000" stroke-width="2"/>
<text x="2360.4" y="527.5" font-size="64" fill="#000" >Ganglion</text>
<text x="2360.9" y="602.5" font-size="64" fill="#000" >cells</text>
<text x="2663.9" y="527.5" font-size="64" fill="#000" >Bipolar</text>
<text x="2666.5" y="602.5" font-size="64" fill="#000" >cells</text>
<text x="2935.9" y="527.5" font-size="64" fill="#000" >Rods</text>
<text x="2937.9" y="602.5" font-size="64" fill="#000" >Cones</text>
<text x="3266.3" y="209" font-size="64" fill="#000" >Color receptor</text>
<text x="3420.7" y="327" font-size="64" fill="#000" >Visual Cortex</text>
<defs><linearGradient id="banH" x1="0" y1="0" x2="1" y2="0"><stop offset="0" stop-color="#a8b4c9"/><stop offset="0.45" stop-color="#d3d8e1"/><stop offset="0.8" stop-color="#eeeff2"/><stop offset="1" stop-color="#f1f1f3"/></linearGradient>
<linearGradient id="banV" x1="0" y1="0" x2="0" y2="1"><stop offset="0" stop-color="#aab4c8" stop-opacity="0"/><stop offset="0.6" stop-color="#aab4c8" stop-opacity="0"/><stop offset="0.88" stop-color="#aab4c8" stop-opacity="0.85"/><stop offset="1" stop-color="#a9b3c7" stop-opacity="1"/></linearGradient></defs>
<rect x="2233" y="857" width="1224" height="110" fill="url(#banH)"/><rect x="2233" y="857" width="1224" height="110" fill="url(#banV)"/>
<text x="2268.2" y="934" font-size="58.3" fill="#fff" textLength="1143" lengthAdjust="spacingAndGlyphs">Perception, Preprocessing and Computation</text>
<!-- c -->
<defs><pattern id="pZnO" width="8" height="8" patternUnits="userSpaceOnUse" patternTransform="translate(-0.8,10.8) scale(3.425)"><rect width="8" height="8" fill="#ffffff"/><rect x="1" y="0" width="3" height="1.02" fill="#8faadc"/><rect x="5" y="0" width="3" height="1.02" fill="#8faadc"/><rect x="0" y="1" width="1" height="1.02" fill="#8faadc"/><rect x="4" y="1" width="1" height="1.02" fill="#8faadc"/><rect x="7" y="1" width="1" height="1.02" fill="#8faadc"/><rect x="0" y="2" width="1" height="1.02" fill="#8faadc"/><rect x="4" y="2" width="4" height="1.02" fill="#8faadc"/><rect x="0" y="3" width="1" height="1.02" fill="#8faadc"/><rect x="4" y="3" width="4" height="1.02" fill="#8faadc"/><rect x="1" y="4" width="3" height="1.02" fill="#8faadc"/><rect x="5" y="4" width="3" height="1.02" fill="#8faadc"/><rect x="0" y="5" width="1" height="1.02" fill="#8faadc"/><rect x="3" y="5" width="2" height="1.02" fill="#8faadc"/><rect x="0" y="6" width="5" height="1.02" fill="#8faadc"/><rect x="0" y="7" width="5" height="1.02" fill="#8faadc"/></pattern><pattern id="pCdSe" width="8" height="8" patternUnits="userSpaceOnUse" patternTransform="translate(-0.8,10.8) scale(3.425)"><rect width="8" height="8" fill="#dae3f3"/><rect x="1" y="0" width="3" height="1.02" fill="#e85a4c"/><rect x="5" y="0" width="3" height="1.02" fill="#e85a4c"/><rect x="0" y="1" width="1" height="1.02" fill="#e85a4c"/><rect x="4" y="1" width="1" height="1.02" fill="#e85a4c"/><rect x="7" y="1" width="1" height="1.02" fill="#e85a4c"/><rect x="0" y="2" width="1" height="1.02" fill="#e85a4c"/><rect x="4" y="2" width="4" height="1.02" fill="#e85a4c"/><rect x="0" y="3" width="1" height="1.02" fill="#e85a4c"/><rect x="4" y="3" width="4" height="1.02" fill="#e85a4c"/><rect x="1" y="4" width="3" height="1.02" fill="#e85a4c"/><rect x="5" y="4" width="3" height="1.02" fill="#e85a4c"/><rect x="0" y="5" width="1" height="1.02" fill="#e85a4c"/><rect x="3" y="5" width="2" height="1.02" fill="#e85a4c"/><rect x="0" y="6" width="5" height="1.02" fill="#e85a4c"/><rect x="0" y="7" width="5" height="1.02" fill="#e85a4c"/></pattern>
<linearGradient id="optG" gradientUnits="userSpaceOnUse" x1="201" y1="1615.5" x2="437.5" y2="1503.5">
<stop offset="0" stop-color="#ff3a1c"/><stop offset="0.2" stop-color="#ff9a1a"/><stop offset="0.45" stop-color="#ffff00"/><stop offset="0.6" stop-color="#a0d81e"/><stop offset="0.76" stop-color="#1aa84a"/><stop offset="1" stop-color="#177a72"/>
</linearGradient>
<linearGradient id="optFade" gradientUnits="userSpaceOnUse" x1="170" y1="1270" x2="320" y2="1550">
<stop offset="0" stop-color="#fff" stop-opacity="0.25"/><stop offset="0.3" stop-color="#fff" stop-opacity="0"/>
</linearGradient>
<filter id="optBlur" x="-20%" y="-20%" width="140%" height="140%"><feGaussianBlur stdDeviation="7"/></filter>
</defs>
<rect x="35.5" y="1096.6" width="1002" height="1425.9" fill="none" stroke="#6aaf58" stroke-width="6.8" stroke-dasharray="27.4 20.73" stroke-dashoffset="0"/>
<polygon points="70.0,2327.0 719.0,2327.0 719.0,2333.0 70.0,2333.0" fill="#d2dfee" />
<polygon points="719.0,2327.0 998.0,2046.5 998.0,2053.0 719.0,2333.0" fill="#c3cfdc" />
<polygon points="70.0,2327.0 719.0,2327.0 998.0,2046.5 349.0,2046.5" fill="#e2edf7" />
<polygon points="70.0,2196.5 625.6,2196.5 625.6,2202.5 70.0,2202.5" fill="url(#pZnO)" />
<polygon points="70.0,2196.5 625.6,2196.5 625.6,2202.5 70.0,2202.5" fill="#6f8fc8" opacity="0.45"/>
<polygon points="625.6,2196.5 903.6,1915.8 903.6,1922.0 625.6,2202.5" fill="#b9c2d2" />
<polygon points="70.0,2196.5 625.6,2196.5 903.6,1915.8 348.0,1915.8" fill="url(#pZnO)" />
<polygon points="70.0,2064.0 623.0,2064.0 623.0,2071.0 70.0,2071.0" fill="#e0443a" />
<polygon points="623.0,2064.8 903.6,1785.5 903.6,1793.0 623.0,2072.0" fill="url(#pCdSe)" />
<polygon points="623.0,2064.8 903.6,1785.5 903.6,1793.0 623.0,2072.0" fill="#a02420" opacity="0.6"/>
<polygon points="70.0,2064.8 623.0,2064.8 903.6,1785.5 350.6,1785.5" fill="url(#pCdSe)" />
<polygon points="70.0,1933.0 625.6,1933.0 625.6,1939.5 70.0,1939.5" fill="url(#pZnO)" />
<polygon points="70.0,1933.0 625.6,1933.0 625.6,1939.5 70.0,1939.5" fill="#6f8fc8" opacity="0.45"/>
<polygon points="625.6,1933.0 903.1,1655.0 903.1,1661.5 625.6,1939.5" fill="#6f8cc4" />
<polygon points="70.0,1933.0 625.6,1933.0 903.1,1655.0 347.5,1655.0" fill="url(#pZnO)" />
<polygon points="70.0,1800.0 642.0,1800.0 642.0,1809.5 70.0,1809.5" fill="#c4c4c4" opacity="0.85"/>
<polygon points="642.0,1800.0 983.0,1456.0 983.0,1465.0 642.0,1809.5" fill="#b5b5b5" opacity="0.8"/>
<polygon points="70.0,1800.0 642.0,1800.0 983.0,1456.0 411.0,1456.0" fill="#c2c2c2" opacity="0.57"/>
<g filter="url(#optBlur)"><polygon points="112.0,1298.0 229.0,1244.0 439.0,1485.0 201.0,1615.0" fill="url(#optG)" /></g>
<path d="M176.1,1564.1 L212.5,1564.1 L212.5,1478.6 L247.2,1478.6 L247.2,1564.1 L282.9,1564.1" fill="none" stroke="#1f3560" stroke-width="5"/>
<path d="M499.6,1663.6 L544,1663.6 L544,1590 C544.5,1578 548,1574 550,1584 C553,1600 556,1610 562,1620 C575,1645 595,1658 618.6,1662" fill="none" stroke="#1f3560" stroke-width="4.6"/>
<path d="M839,1551.6 L961.8,1551.6 L961.8,1639 M925.4,1639 L999,1639 M936,1654 L989,1654 M947,1668.5 L978,1668.5" fill="none" stroke="#000" stroke-width="5"/>
<circle cx="703.6" cy="2276" r="10" fill="#000"/>
<path d="M703.6,2276 L703.6,2380.4 L829.7,2380.4" fill="none" stroke="#000" stroke-width="5"/>
<path d="M736.3,2339.3 L772.7,2339.3 L772.7,2253 L806.3,2253 L806.3,2339.3 L841.8,2339.3" fill="none" stroke="#1f3560" stroke-width="5"/>
<text x="68.1" y="1079" font-size="82" fill="#000" >c</text>
<text x="60.0" y="1175.8" font-size="64" fill="#548235" >Optoelectronic bimodal memristor</text>
<text x="144.0" y="1320.5" font-size="64" fill="#000" >Optical stimuli</text>
<text x="490.8" y="1565.6" font-size="64" fill="#000" >EPSC</text>
<text x="304.6" y="1748.6" font-size="64" fill="#000" >ITO</text>
<text x="224.4" y="1916" font-size="64" fill="#000" >ZnO QDs</text>
<text x="207.8" y="2046" font-size="64" fill="#000" >CdSe QDs</text>
<text x="224.4" y="2176" font-size="64" fill="#000" >ZnO QDs</text>
<text x="289.4" y="2305.6" font-size="64" fill="#000" >Al</text>
<text x="569.8" y="2454.6" font-size="64" fill="#000" >Electric stimuli</text>
<path d="M1036.4,1456.5 C1060,1464.3 1090,1469.3 1116,1470.8 L1116,1448.3 L1146.7,1483.3 L1116,1519.0 L1116,1495.3999999999999 C1090,1498.3 1060,1502.3 1036.4,1507.6 Z" fill="#97c78a"/>
<path d="M1036.4,2143.6 C1060,2151.4 1090,2156.4 1116,2157.9 L1116,2135.4 L1146.7,2170.4 L1116,2206.1 L1116,2182.5 C1090,2185.4 1060,2189.4 1036.4,2194.7000000000003 Z" fill="#97c78a"/>
<!-- d -->
<rect x="1148.5" y="1096.6" width="1289" height="703.3" fill="none" stroke="#6aaf58" stroke-width="6.8" stroke-dasharray="27.4 20.73"/>
<path d="M1181,1483.4 L2437,1483.4" stroke="#6aaf58" stroke-width="6.8" stroke-dasharray="27.4 20.73" fill="none"/>
<path d="M1662.5,1112.8 L1662.5,1470" stroke="#6aaf58" stroke-width="6.8" stroke-dasharray="27.4 20.73" fill="none"/>
<text x="1083.8" y="1079" font-size="82" fill="#000" >d</text>
<text x="1169.5" y="1177.2" font-size="64" fill="#548235" >Color perception</text>
<text x="1702.8" y="1177.2" font-size="64" fill="#548235" >In-sensor preprocessing</text>
<text x="1167.8" y="1643" font-size="64" fill="#548235" >Dynamic</text>
<text x="1168.9" y="1720" font-size="64" fill="#548235" >perception</text>
<defs><clipPath id="cpG"><circle cx="1319.9" cy="1379.2" r="77"/></clipPath><clipPath id="cpB"><circle cx="1473.2" cy="1379.2" r="77"/></clipPath></defs>
<circle cx="1396.8" cy="1288.7" r="76.3" fill="#fe3233"/>
<circle cx="1319.9" cy="1379.2" r="77" fill="#35c075"/>
<circle cx="1473.2" cy="1379.2" r="77" fill="#358dce"/>
<circle cx="1396.8" cy="1288.7" r="76.3" fill="#34994e" clip-path="url(#cpG)"/>
<circle cx="1396.8" cy="1288.7" r="76.3" fill="#3465a8" clip-path="url(#cpB)"/>
<g shape-rendering="crispEdges"><rect x="1692.3" y="1215.2" width="251.4" height="240" fill="#440154"/><rect x="1692.30" y="1215.20" width="9.28" height="9.20" fill="#433981"/><rect x="1701.28" y="1215.20" width="9.28" height="9.20" fill="#31678d"/><rect x="1710.26" y="1215.20" width="9.28" height="9.20" fill="#433981"/><rect x="1719.24" y="1215.20" width="9.28" height="9.20" fill="#471e70"/><rect x="1728.21" y="1215.20" width="9.28" height="9.20" fill="#404688"/><rect x="1737.19" y="1215.20" width="27.24" height="9.20" fill="#461062"/><rect x="1764.13" y="1215.20" width="9.28" height="9.20" fill="#31678d"/><rect x="1773.11" y="1215.20" width="9.28" height="9.20" fill="#3b528a"/><rect x="1791.06" y="1215.20" width="9.28" height="9.20" fill="#461062"/><rect x="1818.00" y="1215.20" width="36.21" height="9.20" fill="#433981"/><rect x="1853.91" y="1215.20" width="9.28" height="9.20" fill="#2d728e"/><rect x="1862.89" y="1215.20" width="9.28" height="9.20" fill="#365d8c"/><rect x="1871.87" y="1215.20" width="9.28" height="9.20" fill="#461062"/><rect x="1889.83" y="1215.20" width="18.26" height="9.20" fill="#365d8c"/><rect x="1907.79" y="1215.20" width="9.28" height="9.20" fill="#31678d"/><rect x="1925.74" y="1215.20" width="18.26" height="9.20" fill="#31678d"/><rect x="1692.30" y="1224.10" width="9.28" height="9.20" fill="#461062"/><rect x="1701.28" y="1224.10" width="9.28" height="9.20" fill="#365d8c"/><rect x="1710.26" y="1224.10" width="9.28" height="9.20" fill="#461062"/><rect x="1719.24" y="1224.10" width="9.28" height="9.20" fill="#31678d"/><rect x="1746.17" y="1224.10" width="9.28" height="9.20" fill="#461062"/><rect x="1755.15" y="1224.10" width="9.28" height="9.20" fill="#404688"/><rect x="1764.13" y="1224.10" width="9.28" height="9.20" fill="#471e70"/><rect x="1773.11" y="1224.10" width="18.26" height="9.20" fill="#461062"/><rect x="1791.06" y="1224.10" width="9.28" height="9.20" fill="#471e70"/><rect x="1800.04" y="1224.10" width="9.28" height="9.20" fill="#31678d"/><rect x="1809.02" y="1224.10" width="9.28" height="9.20" fill="#462c7a"/><rect x="1818.00" y="1224.10" width="9.28" height="9.20" fill="#471e70"/><rect x="1826.98" y="1224.10" width="9.28" height="9.20" fill="#365d8c"/><rect x="1835.96" y="1224.10" width="9.28" height="9.20" fill="#461062"/><rect x="1844.94" y="1224.10" width="9.28" height="9.20" fill="#471e70"/><rect x="1853.91" y="1224.10" width="9.28" height="9.20" fill="#365d8c"/><rect x="1862.89" y="1224.10" width="18.26" height="9.20" fill="#461062"/><rect x="1880.85" y="1224.10" width="9.28" height="9.20" fill="#471e70"/><rect x="1889.83" y="1224.10" width="9.28" height="9.20" fill="#462c7a"/><rect x="1898.81" y="1224.10" width="9.28" height="9.20" fill="#31678d"/><rect x="1907.79" y="1224.10" width="9.28" height="9.20" fill="#404688"/><rect x="1925.74" y="1224.10" width="9.28" height="9.20" fill="#31678d"/><rect x="1692.30" y="1233.00" width="9.28" height="9.20" fill="#3b528a"/><rect x="1701.28" y="1233.00" width="9.28" height="9.20" fill="#471e70"/><rect x="1710.26" y="1233.00" width="9.28" height="9.20" fill="#31678d"/><rect x="1719.24" y="1233.00" width="9.28" height="9.20" fill="#461062"/><rect x="1737.19" y="1233.00" width="18.26" height="9.20" fill="#471e70"/><rect x="1755.15" y="1233.00" width="9.28" height="9.20" fill="#404688"/><rect x="1764.13" y="1233.00" width="9.28" height="9.20" fill="#471e70"/><rect x="1782.09" y="1233.00" width="18.26" height="9.20" fill="#404688"/><rect x="1800.04" y="1233.00" width="9.28" height="9.20" fill="#471e70"/><rect x="1818.00" y="1233.00" width="9.28" height="9.20" fill="#461062"/><rect x="1826.98" y="1233.00" width="9.28" height="9.20" fill="#471e70"/><rect x="1835.96" y="1233.00" width="9.28" height="9.20" fill="#461062"/><rect x="1844.94" y="1233.00" width="9.28" height="9.20" fill="#462c7a"/><rect x="1853.91" y="1233.00" width="9.28" height="9.20" fill="#31678d"/><rect x="1862.89" y="1233.00" width="9.28" height="9.20" fill="#3b528a"/><rect x="1889.83" y="1233.00" width="9.28" height="9.20" fill="#3b528a"/><rect x="1907.79" y="1233.00" width="9.28" height="9.20" fill="#433981"/><rect x="1916.76" y="1233.00" width="9.28" height="9.20" fill="#462c7a"/><rect x="1925.74" y="1233.00" width="9.28" height="9.20" fill="#461062"/><rect x="1934.72" y="1233.00" width="9.28" height="9.20" fill="#3b528a"/><rect x="1692.30" y="1241.90" width="9.28" height="9.20" fill="#3b528a"/><rect x="1701.28" y="1241.90" width="9.28" height="9.20" fill="#365d8c"/><rect x="1710.26" y="1241.90" width="9.28" height="9.20" fill="#462c7a"/><rect x="1719.24" y="1241.90" width="9.28" height="9.20" fill="#31678d"/><rect x="1728.21" y="1241.90" width="9.28" height="9.20" fill="#433981"/><rect x="1737.19" y="1241.90" width="9.28" height="9.20" fill="#365d8c"/><rect x="1746.17" y="1241.90" width="18.26" height="9.20" fill="#404688"/><rect x="1764.13" y="1241.90" width="9.28" height="9.20" fill="#461062"/><rect x="1773.11" y="1241.90" width="9.28" height="9.20" fill="#2d728e"/><rect x="1782.09" y="1241.90" width="18.26" height="9.20" fill="#3b528a"/><rect x="1800.04" y="1241.90" width="9.28" height="9.20" fill="#433981"/><rect x="1809.02" y="1241.90" width="9.28" height="9.20" fill="#461062"/><rect x="1826.98" y="1241.90" width="9.28" height="9.20" fill="#461062"/><rect x="1835.96" y="1241.90" width="9.28" height="9.20" fill="#3b528a"/><rect x="1844.94" y="1241.90" width="9.28" height="9.20" fill="#404688"/><rect x="1862.89" y="1241.90" width="9.28" height="9.20" fill="#462c7a"/><rect x="1880.85" y="1241.90" width="9.28" height="9.20" fill="#31678d"/><rect x="1889.83" y="1241.90" width="9.28" height="9.20" fill="#433981"/><rect x="1898.81" y="1241.90" width="9.28" height="9.20" fill="#462c7a"/><rect x="1907.79" y="1241.90" width="9.28" height="9.20" fill="#471e70"/><rect x="1916.76" y="1241.90" width="9.28" height="9.20" fill="#365d8c"/><rect x="1925.74" y="1241.90" width="9.28" height="9.20" fill="#31678d"/><rect x="1934.72" y="1241.90" width="9.28" height="9.20" fill="#404688"/><rect x="1692.30" y="1250.80" width="9.28" height="9.20" fill="#461062"/><rect x="1701.28" y="1250.80" width="9.28" height="9.20" fill="#365d8c"/><rect x="1710.26" y="1250.80" width="9.28" height="9.20" fill="#3b528a"/><rect x="1728.21" y="1250.80" width="9.28" height="9.20" fill="#433981"/><rect x="1737.19" y="1250.80" width="9.28" height="9.20" fill="#471e70"/><rect x="1746.17" y="1250.80" width="9.28" height="9.20" fill="#404688"/><rect x="1755.15" y="1250.80" width="9.28" height="9.20" fill="#462c7a"/><rect x="1764.13" y="1250.80" width="9.28" height="9.20" fill="#31678d"/><rect x="1782.09" y="1250.80" width="9.28" height="9.20" fill="#471e70"/><rect x="1791.06" y="1250.80" width="9.28" height="9.20" fill="#3b528a"/><rect x="1800.04" y="1250.80" width="9.28" height="9.20" fill="#462c7a"/><rect x="1809.02" y="1250.80" width="9.28" height="9.20" fill="#471e70"/><rect x="1818.00" y="1250.80" width="9.28" height="9.20" fill="#462c7a"/><rect x="1826.98" y="1250.80" width="9.28" height="9.20" fill="#433981"/><rect x="1835.96" y="1250.80" width="9.28" height="9.20" fill="#39b777"/><rect x="1844.94" y="1250.80" width="9.28" height="9.20" fill="#c8e026"/><rect x="1853.91" y="1250.80" width="9.28" height="9.20" fill="#fde725"/><rect x="1862.89" y="1250.80" width="9.28" height="9.20" fill="#287c8e"/><rect x="1871.87" y="1250.80" width="9.28" height="9.20" fill="#c8e026"/><rect x="1880.85" y="1250.80" width="18.26" height="9.20" fill="#fde725"/><rect x="1898.81" y="1250.80" width="9.28" height="9.20" fill="#49c06d"/><rect x="1907.79" y="1250.80" width="9.28" height="9.20" fill="#471e70"/><rect x="1916.76" y="1250.80" width="9.28" height="9.20" fill="#3b528a"/><rect x="1925.74" y="1250.80" width="9.28" height="9.20" fill="#404688"/><rect x="1934.72" y="1250.80" width="9.28" height="9.20" fill="#462c7a"/><rect x="1692.30" y="1259.70" width="9.28" height="9.20" fill="#471e70"/><rect x="1701.28" y="1259.70" width="9.28" height="9.20" fill="#31678d"/><rect x="1710.26" y="1259.70" width="9.28" height="9.20" fill="#461062"/><rect x="1719.24" y="1259.70" width="9.28" height="9.20" fill="#404688"/><rect x="1728.21" y="1259.70" width="9.28" height="9.20" fill="#462c7a"/><rect x="1737.19" y="1259.70" width="18.26" height="9.20" fill="#31678d"/><rect x="1755.15" y="1259.70" width="9.28" height="9.20" fill="#461062"/><rect x="1764.13" y="1259.70" width="18.26" height="9.20" fill="#287c8e"/><rect x="1782.09" y="1259.70" width="9.28" height="9.20" fill="#22a485"/><rect x="1791.06" y="1259.70" width="72.13" height="9.20" fill="#fde725"/><rect x="1862.89" y="1259.70" width="9.28" height="9.20" fill="#e2e425"/><rect x="1871.87" y="1259.70" width="27.24" height="9.20" fill="#fde725"/><rect x="1898.81" y="1259.70" width="9.28" height="9.20" fill="#2aae7f"/><rect x="1907.79" y="1259.70" width="9.28" height="9.20" fill="#31678d"/><rect x="1916.76" y="1259.70" width="18.26" height="9.20" fill="#471e70"/><rect x="1934.72" y="1259.70" width="9.28" height="9.20" fill="#462c7a"/><rect x="1692.30" y="1268.60" width="9.28" height="9.20" fill="#3b528a"/><rect x="1701.28" y="1268.60" width="9.28" height="9.20" fill="#365d8c"/><rect x="1710.26" y="1268.60" width="9.28" height="9.20" fill="#462c7a"/><rect x="1719.24" y="1268.60" width="9.28" height="9.20" fill="#365d8c"/><rect x="1728.21" y="1268.60" width="9.28" height="9.20" fill="#471e70"/><rect x="1737.19" y="1268.60" width="9.28" height="9.20" fill="#31678d"/><rect x="1746.17" y="1268.60" width="9.28" height="9.20" fill="#461062"/><rect x="1755.15" y="1268.60" width="9.28" height="9.20" fill="#25878d"/><rect x="1764.13" y="1268.60" width="90.09" height="9.20" fill="#fde725"/><rect x="1853.91" y="1268.60" width="9.28" height="9.20" fill="#39b777"/><rect x="1862.89" y="1268.60" width="18.26" height="9.20" fill="#21918c"/><rect x="1880.85" y="1268.60" width="9.28" height="9.20" fill="#31678d"/><rect x="1889.83" y="1268.60" width="9.28" height="9.20" fill="#404688"/><rect x="1898.81" y="1268.60" width="9.28" height="9.20" fill="#3b528a"/><rect x="1907.79" y="1268.60" width="9.28" height="9.20" fill="#462c7a"/><rect x="1916.76" y="1268.60" width="18.26" height="9.20" fill="#461062"/><rect x="1692.30" y="1277.50" width="9.28" height="9.20" fill="#404688"/><rect x="1701.28" y="1277.50" width="9.28" height="9.20" fill="#462c7a"/><rect x="1710.26" y="1277.50" width="9.28" height="9.20" fill="#461062"/><rect x="1719.24" y="1277.50" width="9.28" height="9.20" fill="#471e70"/><rect x="1728.21" y="1277.50" width="9.28" height="9.20" fill="#3b528a"/><rect x="1737.19" y="1277.50" width="9.28" height="9.20" fill="#365d8c"/><rect x="1746.17" y="1277.50" width="9.28" height="9.20" fill="#461062"/><rect x="1755.15" y="1277.50" width="9.28" height="9.20" fill="#2d728e"/><rect x="1764.13" y="1277.50" width="90.09" height="9.20" fill="#fde725"/><rect x="1853.91" y="1277.50" width="9.28" height="9.20" fill="#3b528a"/><rect x="1862.89" y="1277.50" width="9.28" height="9.20" fill="#471e70"/><rect x="1871.87" y="1277.50" width="18.26" height="9.20" fill="#433981"/><rect x="1907.79" y="1277.50" width="9.28" height="9.20" fill="#404688"/><rect x="1916.76" y="1277.50" width="9.28" height="9.20" fill="#461062"/><rect x="1934.72" y="1277.50" width="9.28" height="9.20" fill="#365d8c"/><rect x="1692.30" y="1286.40" width="9.28" height="9.20" fill="#471e70"/><rect x="1701.28" y="1286.40" width="9.28" height="9.20" fill="#461062"/><rect x="1710.26" y="1286.40" width="9.28" height="9.20" fill="#433981"/><rect x="1719.24" y="1286.40" width="9.28" height="9.20" fill="#462c7a"/><rect x="1728.21" y="1286.40" width="9.28" height="9.20" fill="#433981"/><rect x="1737.19" y="1286.40" width="9.28" height="9.20" fill="#461062"/><rect x="1746.17" y="1286.40" width="9.28" height="9.20" fill="#3b528a"/><rect x="1755.15" y="1286.40" width="9.28" height="9.20" fill="#471e70"/><rect x="1764.13" y="1286.40" width="9.28" height="9.20" fill="#39b777"/><rect x="1773.11" y="1286.40" width="9.28" height="9.20" fill="#90d643"/><rect x="1782.09" y="1286.40" width="9.28" height="9.20" fill="#22a485"/><rect x="1791.06" y="1286.40" width="27.24" height="9.20" fill="#fde725"/><rect x="1818.00" y="1286.40" width="9.28" height="9.20" fill="#365d8c"/><rect x="1826.98" y="1286.40" width="18.26" height="9.20" fill="#31678d"/><rect x="1844.94" y="1286.40" width="9.28" height="9.20" fill="#fde725"/><rect x="1853.91" y="1286.40" width="9.28" height="9.20" fill="#365d8c"/><rect x="1862.89" y="1286.40" width="9.28" height="9.20" fill="#31678d"/><rect x="1871.87" y="1286.40" width="9.28" height="9.20" fill="#3b528a"/><rect x="1880.85" y="1286.40" width="9.28" height="9.20" fill="#365d8c"/><rect x="1889.83" y="1286.40" width="9.28" height="9.20" fill="#461062"/><rect x="1898.81" y="1286.40" width="9.28" height="9.20" fill="#462c7a"/><rect x="1916.76" y="1286.40" width="9.28" height="9.20" fill="#3b528a"/><rect x="1925.74" y="1286.40" width="9.28" height="9.20" fill="#471e70"/><rect x="1934.72" y="1286.40" width="9.28" height="9.20" fill="#3b528a"/><rect x="1692.30" y="1295.30" width="9.28" height="9.20" fill="#3b528a"/><rect x="1701.28" y="1295.30" width="9.28" height="9.20" fill="#404688"/><rect x="1710.26" y="1295.30" width="9.28" height="9.20" fill="#2d728e"/><rect x="1719.24" y="1295.30" width="9.28" height="9.20" fill="#3b528a"/><rect x="1728.21" y="1295.30" width="9.28" height="9.20" fill="#471e70"/><rect x="1737.19" y="1295.30" width="9.28" height="9.20" fill="#404688"/><rect x="1746.17" y="1295.30" width="9.28" height="9.20" fill="#471e70"/><rect x="1764.13" y="1295.30" width="9.28" height="9.20" fill="#461062"/><rect x="1773.11" y="1295.30" width="9.28" height="9.20" fill="#433981"/><rect x="1782.09" y="1295.30" width="9.28" height="9.20" fill="#404688"/><rect x="1791.06" y="1295.30" width="18.26" height="9.20" fill="#fde725"/><rect x="1809.02" y="1295.30" width="9.28" height="9.20" fill="#219b89"/><rect x="1818.00" y="1295.30" width="9.28" height="9.20" fill="#404688"/><rect x="1835.96" y="1295.30" width="27.24" height="9.20" fill="#461062"/><rect x="1862.89" y="1295.30" width="9.28" height="9.20" fill="#31678d"/><rect x="1871.87" y="1295.30" width="9.28" height="9.20" fill="#404688"/><rect x="1880.85" y="1295.30" width="9.28" height="9.20" fill="#462c7a"/><rect x="1889.83" y="1295.30" width="9.28" height="9.20" fill="#3b528a"/><rect x="1898.81" y="1295.30" width="9.28" height="9.20" fill="#471e70"/><rect x="1907.79" y="1295.30" width="9.28" height="9.20" fill="#461062"/><rect x="1925.74" y="1295.30" width="9.28" height="9.20" fill="#461062"/><rect x="1934.72" y="1295.30" width="9.28" height="9.20" fill="#462c7a"/><rect x="1692.30" y="1304.20" width="9.28" height="9.20" fill="#461062"/><rect x="1701.28" y="1304.20" width="9.28" height="9.20" fill="#2d728e"/><rect x="1710.26" y="1304.20" width="9.28" height="9.20" fill="#461062"/><rect x="1719.24" y="1304.20" width="9.28" height="9.20" fill="#433981"/><rect x="1728.21" y="1304.20" width="9.28" height="9.20" fill="#471e70"/><rect x="1737.19" y="1304.20" width="9.28" height="9.20" fill="#404688"/><rect x="1746.17" y="1304.20" width="9.28" height="9.20" fill="#3b528a"/><rect x="1755.15" y="1304.20" width="9.28" height="9.20" fill="#31678d"/><rect x="1764.13" y="1304.20" width="9.28" height="9.20" fill="#461062"/><rect x="1773.11" y="1304.20" width="9.28" height="9.20" fill="#404688"/><rect x="1791.06" y="1304.20" width="9.28" height="9.20" fill="#5fc860"/><rect x="1800.04" y="1304.20" width="18.26" height="9.20" fill="#fde725"/><rect x="1818.00" y="1304.20" width="9.28" height="9.20" fill="#404688"/><rect x="1826.98" y="1304.20" width="9.28" height="9.20" fill="#365d8c"/><rect x="1835.96" y="1304.20" width="9.28" height="9.20" fill="#2d728e"/><rect x="1844.94" y="1304.20" width="18.26" height="9.20" fill="#461062"/><rect x="1862.89" y="1304.20" width="9.28" height="9.20" fill="#365d8c"/><rect x="1871.87" y="1304.20" width="9.28" height="9.20" fill="#462c7a"/><rect x="1880.85" y="1304.20" width="9.28" height="9.20" fill="#3b528a"/><rect x="1889.83" y="1304.20" width="9.28" height="9.20" fill="#404688"/><rect x="1898.81" y="1304.20" width="9.28" height="9.20" fill="#461062"/><rect x="1907.79" y="1304.20" width="9.28" height="9.20" fill="#471e70"/><rect x="1916.76" y="1304.20" width="9.28" height="9.20" fill="#31678d"/><rect x="1934.72" y="1304.20" width="9.28" height="9.20" fill="#471e70"/><rect x="1692.30" y="1313.10" width="27.24" height="9.20" fill="#461062"/><rect x="1719.24" y="1313.10" width="9.28" height="9.20" fill="#404688"/><rect x="1728.21" y="1313.10" width="9.28" height="9.20" fill="#462c7a"/><rect x="1737.19" y="1313.10" width="9.28" height="9.20" fill="#471e70"/><rect x="1746.17" y="1313.10" width="9.28" height="9.20" fill="#3b528a"/><rect x="1764.13" y="1313.10" width="9.28" height="9.20" fill="#365d8c"/><rect x="1773.11" y="1313.10" width="9.28" height="9.20" fill="#461062"/><rect x="1782.09" y="1313.10" width="9.28" height="9.20" fill="#433981"/><rect x="1791.06" y="1313.10" width="9.28" height="9.20" fill="#31678d"/><rect x="1800.04" y="1313.10" width="18.26" height="9.20" fill="#fde725"/><rect x="1818.00" y="1313.10" width="9.28" height="9.20" fill="#2aae7f"/><rect x="1826.98" y="1313.10" width="9.28" height="9.20" fill="#433981"/><rect x="1835.96" y="1313.10" width="9.28" height="9.20" fill="#461062"/><rect x="1853.91" y="1313.10" width="9.28" height="9.20" fill="#404688"/><rect x="1862.89" y="1313.10" width="9.28" height="9.20" fill="#3b528a"/><rect x="1871.87" y="1313.10" width="9.28" height="9.20" fill="#461062"/><rect x="1880.85" y="1313.10" width="9.28" height="9.20" fill="#471e70"/><rect x="1889.83" y="1313.10" width="9.28" height="9.20" fill="#461062"/><rect x="1898.81" y="1313.10" width="9.28" height="9.20" fill="#3b528a"/><rect x="1916.76" y="1313.10" width="9.28" height="9.20" fill="#462c7a"/><rect x="1925.74" y="1313.10" width="9.28" height="9.20" fill="#461062"/><rect x="1934.72" y="1313.10" width="9.28" height="9.20" fill="#3b528a"/><rect x="1692.30" y="1322.00" width="18.26" height="9.20" fill="#31678d"/><rect x="1710.26" y="1322.00" width="9.28" height="9.20" fill="#365d8c"/><rect x="1719.24" y="1322.00" width="9.28" height="9.20" fill="#462c7a"/><rect x="1728.21" y="1322.00" width="9.28" height="9.20" fill="#31678d"/><rect x="1737.19" y="1322.00" width="9.28" height="9.20" fill="#471e70"/><rect x="1746.17" y="1322.00" width="18.26" height="9.20" fill="#462c7a"/><rect x="1764.13" y="1322.00" width="9.28" height="9.20" fill="#471e70"/><rect x="1773.11" y="1322.00" width="18.26" height="9.20" fill="#365d8c"/><rect x="1791.06" y="1322.00" width="9.28" height="9.20" fill="#471e70"/><rect x="1800.04" y="1322.00" width="9.28" height="9.20" fill="#21918c"/><rect x="1809.02" y="1322.00" width="27.24" height="9.20" fill="#fde725"/><rect x="1835.96" y="1322.00" width="9.28" height="9.20" fill="#2aae7f"/><rect x="1844.94" y="1322.00" width="9.28" height="9.20" fill="#404688"/><rect x="1862.89" y="1322.00" width="9.28" height="9.20" fill="#3b528a"/><rect x="1871.87" y="1322.00" width="27.24" height="9.20" fill="#461062"/><rect x="1898.81" y="1322.00" width="9.28" height="9.20" fill="#471e70"/><rect x="1907.79" y="1322.00" width="9.28" height="9.20" fill="#404688"/><rect x="1916.76" y="1322.00" width="9.28" height="9.20" fill="#462c7a"/><rect x="1925.74" y="1322.00" width="9.28" height="9.20" fill="#31678d"/><rect x="1934.72" y="1322.00" width="9.28" height="9.20" fill="#433981"/><rect x="1692.30" y="1330.90" width="9.28" height="9.20" fill="#3b528a"/><rect x="1701.28" y="1330.90" width="9.28" height="9.20" fill="#31678d"/><rect x="1710.26" y="1330.90" width="27.24" height="9.20" fill="#365d8c"/><rect x="1737.19" y="1330.90" width="9.28" height="9.20" fill="#31678d"/><rect x="1746.17" y="1330.90" width="9.28" height="9.20" fill="#404688"/><rect x="1755.15" y="1330.90" width="9.28" height="9.20" fill="#365d8c"/><rect x="1764.13" y="1330.90" width="9.28" height="9.20" fill="#461062"/><rect x="1773.11" y="1330.90" width="9.28" height="9.20" fill="#3b528a"/><rect x="1782.09" y="1330.90" width="9.28" height="9.20" fill="#461062"/><rect x="1791.06" y="1330.90" width="9.28" height="9.20" fill="#471e70"/><rect x="1800.04" y="1330.90" width="9.28" height="9.20" fill="#462c7a"/><rect x="1809.02" y="1330.90" width="9.28" height="9.20" fill="#25878d"/><rect x="1818.00" y="1330.90" width="27.24" height="9.20" fill="#fde725"/><rect x="1844.94" y="1330.90" width="9.28" height="9.20" fill="#90d643"/><rect x="1853.91" y="1330.90" width="9.28" height="9.20" fill="#462c7a"/><rect x="1871.87" y="1330.90" width="9.28" height="9.20" fill="#471e70"/><rect x="1880.85" y="1330.90" width="9.28" height="9.20" fill="#461062"/><rect x="1889.83" y="1330.90" width="9.28" height="9.20" fill="#471e70"/><rect x="1898.81" y="1330.90" width="9.28" height="9.20" fill="#461062"/><rect x="1907.79" y="1330.90" width="9.28" height="9.20" fill="#462c7a"/><rect x="1916.76" y="1330.90" width="9.28" height="9.20" fill="#365d8c"/><rect x="1925.74" y="1330.90" width="9.28" height="9.20" fill="#471e70"/><rect x="1934.72" y="1330.90" width="9.28" height="9.20" fill="#31678d"/><rect x="1692.30" y="1339.80" width="9.28" height="9.20" fill="#404688"/><rect x="1701.28" y="1339.80" width="9.28" height="9.20" fill="#461062"/><rect x="1719.24" y="1339.80" width="9.28" height="9.20" fill="#365d8c"/><rect x="1728.21" y="1339.80" width="9.28" height="9.20" fill="#404688"/><rect x="1737.19" y="1339.80" width="9.28" height="9.20" fill="#471e70"/><rect x="1746.17" y="1339.80" width="9.28" height="9.20" fill="#461062"/><rect x="1764.13" y="1339.80" width="9.28" height="9.20" fill="#462c7a"/><rect x="1773.11" y="1339.80" width="9.28" height="9.20" fill="#3b528a"/><rect x="1791.06" y="1339.80" width="9.28" height="9.20" fill="#462c7a"/><rect x="1800.04" y="1339.80" width="9.28" height="9.20" fill="#31678d"/><rect x="1809.02" y="1339.80" width="9.28" height="9.20" fill="#3b528a"/><rect x="1818.00" y="1339.80" width="9.28" height="9.20" fill="#31678d"/><rect x="1826.98" y="1339.80" width="27.24" height="9.20" fill="#fde725"/><rect x="1853.91" y="1339.80" width="9.28" height="9.20" fill="#75d054"/><rect x="1862.89" y="1339.80" width="9.28" height="9.20" fill="#404688"/><rect x="1871.87" y="1339.80" width="9.28" height="9.20" fill="#433981"/><rect x="1880.85" y="1339.80" width="9.28" height="9.20" fill="#31678d"/><rect x="1889.83" y="1339.80" width="18.26" height="9.20" fill="#365d8c"/><rect x="1907.79" y="1339.80" width="9.28" height="9.20" fill="#471e70"/><rect x="1916.76" y="1339.80" width="9.28" height="9.20" fill="#461062"/><rect x="1925.74" y="1339.80" width="9.28" height="9.20" fill="#404688"/><rect x="1934.72" y="1339.80" width="9.28" height="9.20" fill="#461062"/><rect x="1692.30" y="1348.70" width="9.28" height="9.20" fill="#462c7a"/><rect x="1701.28" y="1348.70" width="9.28" height="9.20" fill="#461062"/><rect x="1710.26" y="1348.70" width="9.28" height="9.20" fill="#433981"/><rect x="1719.24" y="1348.70" width="9.28" height="9.20" fill="#462c7a"/><rect x="1728.21" y="1348.70" width="9.28" height="9.20" fill="#461062"/><rect x="1737.19" y="1348.70" width="9.28" height="9.20" fill="#433981"/><rect x="1746.17" y="1348.70" width="9.28" height="9.20" fill="#365d8c"/><rect x="1764.13" y="1348.70" width="9.28" height="9.20" fill="#461062"/><rect x="1773.11" y="1348.70" width="9.28" height="9.20" fill="#404688"/><rect x="1791.06" y="1348.70" width="9.28" height="9.20" fill="#461062"/><rect x="1800.04" y="1348.70" width="9.28" height="9.20" fill="#404688"/><rect x="1809.02" y="1348.70" width="18.26" height="9.20" fill="#462c7a"/><rect x="1826.98" y="1348.70" width="9.28" height="9.20" fill="#404688"/><rect x="1835.96" y="1348.70" width="9.28" height="9.20" fill="#21918c"/><rect x="1844.94" y="1348.70" width="27.24" height="9.20" fill="#fde725"/><rect x="1871.87" y="1348.70" width="9.28" height="9.20" fill="#461062"/><rect x="1889.83" y="1348.70" width="9.28" height="9.20" fill="#3b528a"/><rect x="1898.81" y="1348.70" width="9.28" height="9.20" fill="#471e70"/><rect x="1907.79" y="1348.70" width="9.28" height="9.20" fill="#365d8c"/><rect x="1934.72" y="1348.70" width="9.28" height="9.20" fill="#461062"/><rect x="1692.30" y="1357.60" width="9.28" height="9.20" fill="#31678d"/><rect x="1701.28" y="1357.60" width="9.28" height="9.20" fill="#433981"/><rect x="1710.26" y="1357.60" width="9.28" height="9.20" fill="#365d8c"/><rect x="1719.24" y="1357.60" width="9.28" height="9.20" fill="#462c7a"/><rect x="1728.21" y="1357.60" width="9.28" height="9.20" fill="#461062"/><rect x="1737.19" y="1357.60" width="9.28" height="9.20" fill="#462c7a"/><rect x="1746.17" y="1357.60" width="9.28" height="9.20" fill="#31678d"/><rect x="1755.15" y="1357.60" width="9.28" height="9.20" fill="#3b528a"/><rect x="1773.11" y="1357.60" width="9.28" height="9.20" fill="#462c7a"/><rect x="1782.09" y="1357.60" width="9.28" height="9.20" fill="#461062"/><rect x="1791.06" y="1357.60" width="9.28" height="9.20" fill="#433981"/><rect x="1800.04" y="1357.60" width="9.28" height="9.20" fill="#365d8c"/><rect x="1809.02" y="1357.60" width="9.28" height="9.20" fill="#461062"/><rect x="1818.00" y="1357.60" width="9.28" height="9.20" fill="#31678d"/><rect x="1826.98" y="1357.60" width="9.28" height="9.20" fill="#462c7a"/><rect x="1835.96" y="1357.60" width="9.28" height="9.20" fill="#461062"/><rect x="1844.94" y="1357.60" width="27.24" height="9.20" fill="#fde725"/><rect x="1871.87" y="1357.60" width="9.28" height="9.20" fill="#2d728e"/><rect x="1889.83" y="1357.60" width="9.28" height="9.20" fill="#404688"/><rect x="1898.81" y="1357.60" width="18.26" height="9.20" fill="#462c7a"/><rect x="1916.76" y="1357.60" width="18.26" height="9.20" fill="#461062"/><rect x="1934.72" y="1357.60" width="9.28" height="9.20" fill="#404688"/><rect x="1692.30" y="1366.50" width="9.28" height="9.20" fill="#404688"/><rect x="1701.28" y="1366.50" width="9.28" height="9.20" fill="#31678d"/><rect x="1710.26" y="1366.50" width="9.28" height="9.20" fill="#365d8c"/><rect x="1719.24" y="1366.50" width="9.28" height="9.20" fill="#461062"/><rect x="1728.21" y="1366.50" width="18.26" height="9.20" fill="#471e70"/><rect x="1746.17" y="1366.50" width="18.26" height="9.20" fill="#461062"/><rect x="1773.11" y="1366.50" width="9.28" height="9.20" fill="#2d728e"/><rect x="1782.09" y="1366.50" width="18.26" height="9.20" fill="#3b528a"/><rect x="1800.04" y="1366.50" width="9.28" height="9.20" fill="#462c7a"/><rect x="1809.02" y="1366.50" width="9.28" height="9.20" fill="#461062"/><rect x="1818.00" y="1366.50" width="9.28" height="9.20" fill="#365d8c"/><rect x="1826.98" y="1366.50" width="9.28" height="9.20" fill="#49c06d"/><rect x="1835.96" y="1366.50" width="36.21" height="9.20" fill="#fde725"/><rect x="1871.87" y="1366.50" width="9.28" height="9.20" fill="#461062"/><rect x="1880.85" y="1366.50" width="9.28" height="9.20" fill="#31678d"/><rect x="1889.83" y="1366.50" width="9.28" height="9.20" fill="#433981"/><rect x="1898.81" y="1366.50" width="9.28" height="9.20" fill="#404688"/><rect x="1907.79" y="1366.50" width="9.28" height="9.20" fill="#365d8c"/><rect x="1916.76" y="1366.50" width="9.28" height="9.20" fill="#433981"/><rect x="1925.74" y="1366.50" width="9.28" height="9.20" fill="#365d8c"/><rect x="1934.72" y="1366.50" width="9.28" height="9.20" fill="#433981"/><rect x="1692.30" y="1375.40" width="18.26" height="9.20" fill="#404688"/><rect x="1710.26" y="1375.40" width="9.28" height="9.20" fill="#433981"/><rect x="1719.24" y="1375.40" width="9.28" height="9.20" fill="#461062"/><rect x="1728.21" y="1375.40" width="27.24" height="9.20" fill="#3b528a"/><rect x="1755.15" y="1375.40" width="18.26" height="9.20" fill="#461062"/><rect x="1773.11" y="1375.40" width="9.28" height="9.20" fill="#433981"/><rect x="1791.06" y="1375.40" width="9.28" height="9.20" fill="#461062"/><rect x="1800.04" y="1375.40" width="9.28" height="9.20" fill="#365d8c"/><rect x="1809.02" y="1375.40" width="9.28" height="9.20" fill="#75d054"/><rect x="1818.00" y="1375.40" width="45.19" height="9.20" fill="#fde725"/><rect x="1862.89" y="1375.40" width="9.28" height="9.20" fill="#e2e425"/><rect x="1871.87" y="1375.40" width="9.28" height="9.20" fill="#461062"/><rect x="1880.85" y="1375.40" width="18.26" height="9.20" fill="#471e70"/><rect x="1898.81" y="1375.40" width="9.28" height="9.20" fill="#461062"/><rect x="1907.79" y="1375.40" width="9.28" height="9.20" fill="#31678d"/><rect x="1916.76" y="1375.40" width="9.28" height="9.20" fill="#462c7a"/><rect x="1925.74" y="1375.40" width="9.28" height="9.20" fill="#461062"/><rect x="1692.30" y="1384.30" width="9.28" height="9.20" fill="#462c7a"/><rect x="1701.28" y="1384.30" width="9.28" height="9.20" fill="#31678d"/><rect x="1710.26" y="1384.30" width="9.28" height="9.20" fill="#461062"/><rect x="1719.24" y="1384.30" width="9.28" height="9.20" fill="#462c7a"/><rect x="1728.21" y="1384.30" width="9.28" height="9.20" fill="#471e70"/><rect x="1737.19" y="1384.30" width="9.28" height="9.20" fill="#365d8c"/><rect x="1746.17" y="1384.30" width="9.28" height="9.20" fill="#461062"/><rect x="1755.15" y="1384.30" width="9.28" height="9.20" fill="#31678d"/><rect x="1764.13" y="1384.30" width="18.26" height="9.20" fill="#471e70"/><rect x="1782.09" y="1384.30" width="9.28" height="9.20" fill="#462c7a"/><rect x="1791.06" y="1384.30" width="9.28" height="9.20" fill="#90d643"/><rect x="1800.04" y="1384.30" width="54.17" height="9.20" fill="#fde725"/><rect x="1853.91" y="1384.30" width="9.28" height="9.20" fill="#287c8e"/><rect x="1862.89" y="1384.30" width="9.28" height="9.20" fill="#3b528a"/><rect x="1871.87" y="1384.30" width="9.28" height="9.20" fill="#462c7a"/><rect x="1880.85" y="1384.30" width="9.28" height="9.20" fill="#31678d"/><rect x="1889.83" y="1384.30" width="9.28" height="9.20" fill="#471e70"/><rect x="1898.81" y="1384.30" width="9.28" height="9.20" fill="#31678d"/><rect x="1907.79" y="1384.30" width="9.28" height="9.20" fill="#471e70"/><rect x="1916.76" y="1384.30" width="9.28" height="9.20" fill="#461062"/><rect x="1925.74" y="1384.30" width="9.28" height="9.20" fill="#433981"/><rect x="1934.72" y="1384.30" width="9.28" height="9.20" fill="#461062"/><rect x="1692.30" y="1393.20" width="9.28" height="9.20" fill="#404688"/><rect x="1701.28" y="1393.20" width="9.28" height="9.20" fill="#471e70"/><rect x="1710.26" y="1393.20" width="18.26" height="9.20" fill="#461062"/><rect x="1728.21" y="1393.20" width="27.24" height="9.20" fill="#471e70"/><rect x="1755.15" y="1393.20" width="9.28" height="9.20" fill="#433981"/><rect x="1764.13" y="1393.20" width="9.28" height="9.20" fill="#3b528a"/><rect x="1773.11" y="1393.20" width="9.28" height="9.20" fill="#2d728e"/><rect x="1782.09" y="1393.20" width="54.17" height="9.20" fill="#fde725"/><rect x="1835.96" y="1393.20" width="9.28" height="9.20" fill="#25878d"/><rect x="1844.94" y="1393.20" width="9.28" height="9.20" fill="#461062"/><rect x="1853.91" y="1393.20" width="9.28" height="9.20" fill="#433981"/><rect x="1862.89" y="1393.20" width="9.28" height="9.20" fill="#365d8c"/><rect x="1871.87" y="1393.20" width="18.26" height="9.20" fill="#471e70"/><rect x="1889.83" y="1393.20" width="9.28" height="9.20" fill="#461062"/><rect x="1898.81" y="1393.20" width="18.26" height="9.20" fill="#404688"/><rect x="1934.72" y="1393.20" width="9.28" height="9.20" fill="#433981"/><rect x="1692.30" y="1402.10" width="9.28" height="9.20" fill="#471e70"/><rect x="1701.28" y="1402.10" width="9.28" height="9.20" fill="#461062"/><rect x="1710.26" y="1402.10" width="9.28" height="9.20" fill="#404688"/><rect x="1719.24" y="1402.10" width="18.26" height="9.20" fill="#461062"/><rect x="1746.17" y="1402.10" width="9.28" height="9.20" fill="#31678d"/><rect x="1755.15" y="1402.10" width="63.15" height="9.20" fill="#fde725"/><rect x="1818.00" y="1402.10" width="9.28" height="9.20" fill="#21918c"/><rect x="1826.98" y="1402.10" width="9.28" height="9.20" fill="#404688"/><rect x="1835.96" y="1402.10" width="9.28" height="9.20" fill="#471e70"/><rect x="1844.94" y="1402.10" width="9.28" height="9.20" fill="#433981"/><rect x="1862.89" y="1402.10" width="9.28" height="9.20" fill="#471e70"/><rect x="1871.87" y="1402.10" width="9.28" height="9.20" fill="#462c7a"/><rect x="1880.85" y="1402.10" width="9.28" height="9.20" fill="#461062"/><rect x="1898.81" y="1402.10" width="9.28" height="9.20" fill="#365d8c"/><rect x="1907.79" y="1402.10" width="9.28" height="9.20" fill="#471e70"/><rect x="1916.76" y="1402.10" width="9.28" height="9.20" fill="#461062"/><rect x="1925.74" y="1402.10" width="9.28" height="9.20" fill="#433981"/><rect x="1934.72" y="1402.10" width="9.28" height="9.20" fill="#462c7a"/><rect x="1692.30" y="1411.00" width="9.28" height="9.20" fill="#31678d"/><rect x="1710.26" y="1411.00" width="9.28" height="9.20" fill="#461062"/><rect x="1719.24" y="1411.00" width="9.28" height="9.20" fill="#462c7a"/><rect x="1728.21" y="1411.00" width="9.28" height="9.20" fill="#22a485"/><rect x="1737.19" y="1411.00" width="63.15" height="9.20" fill="#fde725"/><rect x="1800.04" y="1411.00" width="9.28" height="9.20" fill="#75d054"/><rect x="1809.02" y="1411.00" width="9.28" height="9.20" fill="#287c8e"/><rect x="1818.00" y="1411.00" width="18.26" height="9.20" fill="#461062"/><rect x="1835.96" y="1411.00" width="9.28" height="9.20" fill="#3b528a"/><rect x="1853.91" y="1411.00" width="9.28" height="9.20" fill="#471e70"/><rect x="1862.89" y="1411.00" width="9.28" height="9.20" fill="#462c7a"/><rect x="1871.87" y="1411.00" width="9.28" height="9.20" fill="#3b528a"/><rect x="1880.85" y="1411.00" width="9.28" height="9.20" fill="#461062"/><rect x="1889.83" y="1411.00" width="9.28" height="9.20" fill="#31678d"/><rect x="1898.81" y="1411.00" width="9.28" height="9.20" fill="#365d8c"/><rect x="1907.79" y="1411.00" width="9.28" height="9.20" fill="#471e70"/><rect x="1916.76" y="1411.00" width="9.28" height="9.20" fill="#462c7a"/><rect x="1925.74" y="1411.00" width="9.28" height="9.20" fill="#461062"/><rect x="1934.72" y="1411.00" width="9.28" height="9.20" fill="#462c7a"/><rect x="1692.30" y="1419.90" width="18.26" height="9.20" fill="#461062"/><rect x="1719.24" y="1419.90" width="9.28" height="9.20" fill="#461062"/><rect x="1728.21" y="1419.90" width="9.28" height="9.20" fill="#90d643"/><rect x="1737.19" y="1419.90" width="36.21" height="9.20" fill="#fde725"/><rect x="1773.11" y="1419.90" width="9.28" height="9.20" fill="#75d054"/><rect x="1782.09" y="1419.90" width="9.28" height="9.20" fill="#90d643"/><rect x="1791.06" y="1419.90" width="18.26" height="9.20" fill="#462c7a"/><rect x="1826.98" y="1419.90" width="9.28" height="9.20" fill="#404688"/><rect x="1835.96" y="1419.90" width="9.28" height="9.20" fill="#31678d"/><rect x="1844.94" y="1419.90" width="9.28" height="9.20" fill="#3b528a"/><rect x="1853.91" y="1419.90" width="9.28" height="9.20" fill="#471e70"/><rect x="1862.89" y="1419.90" width="9.28" height="9.20" fill="#3b528a"/><rect x="1871.87" y="1419.90" width="9.28" height="9.20" fill="#471e70"/><rect x="1880.85" y="1419.90" width="9.28" height="9.20" fill="#461062"/><rect x="1889.83" y="1419.90" width="9.28" height="9.20" fill="#433981"/><rect x="1898.81" y="1419.90" width="9.28" height="9.20" fill="#461062"/><rect x="1907.79" y="1419.90" width="9.28" height="9.20" fill="#462c7a"/><rect x="1925.74" y="1419.90" width="9.28" height="9.20" fill="#462c7a"/><rect x="1934.72" y="1419.90" width="9.28" height="9.20" fill="#461062"/><rect x="1701.28" y="1428.80" width="9.28" height="9.20" fill="#462c7a"/><rect x="1710.26" y="1428.80" width="9.28" height="9.20" fill="#461062"/><rect x="1719.24" y="1428.80" width="9.28" height="9.20" fill="#3b528a"/><rect x="1728.21" y="1428.80" width="9.28" height="9.20" fill="#461062"/><rect x="1737.19" y="1428.80" width="9.28" height="9.20" fill="#462c7a"/><rect x="1746.17" y="1428.80" width="9.28" height="9.20" fill="#461062"/><rect x="1764.13" y="1428.80" width="9.28" height="9.20" fill="#404688"/><rect x="1773.11" y="1428.80" width="9.28" height="9.20" fill="#462c7a"/><rect x="1791.06" y="1428.80" width="9.28" height="9.20" fill="#31678d"/><rect x="1800.04" y="1428.80" width="18.26" height="9.20" fill="#471e70"/><rect x="1818.00" y="1428.80" width="9.28" height="9.20" fill="#404688"/><rect x="1826.98" y="1428.80" width="9.28" height="9.20" fill="#462c7a"/><rect x="1835.96" y="1428.80" width="9.28" height="9.20" fill="#31678d"/><rect x="1844.94" y="1428.80" width="9.28" height="9.20" fill="#404688"/><rect x="1853.91" y="1428.80" width="9.28" height="9.20" fill="#433981"/><rect x="1862.89" y="1428.80" width="9.28" height="9.20" fill="#471e70"/><rect x="1871.87" y="1428.80" width="9.28" height="9.20" fill="#31678d"/><rect x="1880.85" y="1428.80" width="9.28" height="9.20" fill="#471e70"/><rect x="1889.83" y="1428.80" width="9.28" height="9.20" fill="#461062"/><rect x="1898.81" y="1428.80" width="9.28" height="9.20" fill="#462c7a"/><rect x="1907.79" y="1428.80" width="9.28" height="9.20" fill="#471e70"/><rect x="1925.74" y="1428.80" width="9.28" height="9.20" fill="#461062"/><rect x="1692.30" y="1437.70" width="9.28" height="9.20" fill="#461062"/><rect x="1701.28" y="1437.70" width="9.28" height="9.20" fill="#433981"/><rect x="1710.26" y="1437.70" width="18.26" height="9.20" fill="#404688"/><rect x="1728.21" y="1437.70" width="9.28" height="9.20" fill="#31678d"/><rect x="1737.19" y="1437.70" width="18.26" height="9.20" fill="#462c7a"/><rect x="1755.15" y="1437.70" width="9.28" height="9.20" fill="#3b528a"/><rect x="1764.13" y="1437.70" width="9.28" height="9.20" fill="#31678d"/><rect x="1773.11" y="1437.70" width="9.28" height="9.20" fill="#461062"/><rect x="1782.09" y="1437.70" width="9.28" height="9.20" fill="#433981"/><rect x="1791.06" y="1437.70" width="9.28" height="9.20" fill="#462c7a"/><rect x="1800.04" y="1437.70" width="9.28" height="9.20" fill="#3b528a"/><rect x="1818.00" y="1437.70" width="18.26" height="9.20" fill="#461062"/><rect x="1844.94" y="1437.70" width="18.26" height="9.20" fill="#461062"/><rect x="1862.89" y="1437.70" width="9.28" height="9.20" fill="#365d8c"/><rect x="1871.87" y="1437.70" width="9.28" height="9.20" fill="#461062"/><rect x="1880.85" y="1437.70" width="18.26" height="9.20" fill="#471e70"/><rect x="1898.81" y="1437.70" width="9.28" height="9.20" fill="#365d8c"/><rect x="1907.79" y="1437.70" width="18.26" height="9.20" fill="#3b528a"/><rect x="1925.74" y="1437.70" width="9.28" height="9.20" fill="#462c7a"/><rect x="1934.72" y="1437.70" width="9.28" height="9.20" fill="#365d8c"/><rect x="1692.30" y="1446.60" width="9.28" height="9.20" fill="#404688"/><rect x="1701.28" y="1446.60" width="9.28" height="9.20" fill="#3b528a"/><rect x="1710.26" y="1446.60" width="9.28" height="9.20" fill="#365d8c"/><rect x="1719.24" y="1446.60" width="18.26" height="9.20" fill="#461062"/><rect x="1746.17" y="1446.60" width="9.28" height="9.20" fill="#404688"/><rect x="1755.15" y="1446.60" width="9.28" height="9.20" fill="#471e70"/><rect x="1764.13" y="1446.60" width="9.28" height="9.20" fill="#3b528a"/><rect x="1773.11" y="1446.60" width="9.28" height="9.20" fill="#404688"/><rect x="1782.09" y="1446.60" width="9.28" height="9.20" fill="#31678d"/><rect x="1809.02" y="1446.60" width="18.26" height="9.20" fill="#471e70"/><rect x="1826.98" y="1446.60" width="9.28" height="9.20" fill="#461062"/><rect x="1835.96" y="1446.60" width="9.28" height="9.20" fill="#404688"/><rect x="1844.94" y="1446.60" width="9.28" height="9.20" fill="#462c7a"/><rect x="1853.91" y="1446.60" width="9.28" height="9.20" fill="#365d8c"/><rect x="1862.89" y="1446.60" width="9.28" height="9.20" fill="#471e70"/><rect x="1871.87" y="1446.60" width="9.28" height="9.20" fill="#404688"/><rect x="1880.85" y="1446.60" width="9.28" height="9.20" fill="#31678d"/><rect x="1889.83" y="1446.60" width="9.28" height="9.20" fill="#3b528a"/><rect x="1898.81" y="1446.60" width="9.28" height="9.20" fill="#461062"/><rect x="1916.76" y="1446.60" width="9.28" height="9.20" fill="#31678d"/><rect x="1925.74" y="1446.60" width="18.26" height="9.20" fill="#461062"/><rect x="1692.3" y="1215.2" width="251.4" height="240" fill="none" stroke="#000" stroke-width="1.2"/></g>
<g shape-rendering="crispEdges"><rect x="2153.3" y="1215.2" width="251.4" height="240" fill="#440154"/><rect x="2207.17" y="1215.20" width="9.28" height="9.20" fill="#461062"/><rect x="2243.09" y="1215.20" width="18.26" height="9.20" fill="#461062"/><rect x="2305.94" y="1215.20" width="18.26" height="9.20" fill="#461062"/><rect x="2153.30" y="1224.10" width="9.28" height="9.20" fill="#471e70"/><rect x="2216.15" y="1224.10" width="9.28" height="9.20" fill="#461062"/><rect x="2234.11" y="1224.10" width="9.28" height="9.20" fill="#461062"/><rect x="2305.94" y="1224.10" width="9.28" height="9.20" fill="#471e70"/><rect x="2314.91" y="1224.10" width="9.28" height="9.20" fill="#461062"/><rect x="2332.87" y="1224.10" width="9.28" height="9.20" fill="#461062"/><rect x="2368.79" y="1224.10" width="9.28" height="9.20" fill="#471e70"/><rect x="2377.76" y="1224.10" width="9.28" height="9.20" fill="#461062"/><rect x="2189.21" y="1233.00" width="9.28" height="9.20" fill="#461062"/><rect x="2216.15" y="1233.00" width="9.28" height="9.20" fill="#471e70"/><rect x="2225.13" y="1233.00" width="9.28" height="9.20" fill="#461062"/><rect x="2305.94" y="1233.00" width="9.28" height="9.20" fill="#461062"/><rect x="2359.81" y="1233.00" width="9.28" height="9.20" fill="#461062"/><rect x="2395.72" y="1233.00" width="9.28" height="9.20" fill="#471e70"/><rect x="2153.30" y="1241.90" width="9.28" height="9.20" fill="#461062"/><rect x="2171.26" y="1241.90" width="9.28" height="9.20" fill="#461062"/><rect x="2207.17" y="1241.90" width="18.26" height="9.20" fill="#461062"/><rect x="2323.89" y="1241.90" width="9.28" height="9.20" fill="#461062"/><rect x="2270.02" y="1250.80" width="27.24" height="9.20" fill="#471e70"/><rect x="2296.96" y="1250.80" width="18.26" height="9.20" fill="#49c06d"/><rect x="2314.91" y="1250.80" width="9.28" height="9.20" fill="#c8e026"/><rect x="2323.89" y="1250.80" width="9.28" height="9.20" fill="#462c7a"/><rect x="2332.87" y="1250.80" width="9.28" height="9.20" fill="#acdc31"/><rect x="2341.85" y="1250.80" width="18.26" height="9.20" fill="#fde725"/><rect x="2359.81" y="1250.80" width="9.28" height="9.20" fill="#39b777"/><rect x="2216.15" y="1259.70" width="9.28" height="9.20" fill="#461062"/><rect x="2225.13" y="1259.70" width="18.26" height="9.20" fill="#433981"/><rect x="2243.09" y="1259.70" width="9.28" height="9.20" fill="#21918c"/><rect x="2252.06" y="1259.70" width="9.28" height="9.20" fill="#75d054"/><rect x="2261.04" y="1259.70" width="9.28" height="9.20" fill="#acdc31"/><rect x="2270.02" y="1259.70" width="54.17" height="9.20" fill="#fde725"/><rect x="2323.89" y="1259.70" width="9.28" height="9.20" fill="#acdc31"/><rect x="2332.87" y="1259.70" width="27.24" height="9.20" fill="#fde725"/><rect x="2359.81" y="1259.70" width="9.28" height="9.20" fill="#31678d"/><rect x="2368.79" y="1259.70" width="9.28" height="9.20" fill="#461062"/><rect x="2386.74" y="1259.70" width="9.28" height="9.20" fill="#461062"/><rect x="2153.30" y="1268.60" width="9.28" height="9.20" fill="#461062"/><rect x="2171.26" y="1268.60" width="9.28" height="9.20" fill="#461062"/><rect x="2207.17" y="1268.60" width="9.28" height="9.20" fill="#471e70"/><rect x="2216.15" y="1268.60" width="9.28" height="9.20" fill="#365d8c"/><rect x="2225.13" y="1268.60" width="90.09" height="9.20" fill="#fde725"/><rect x="2314.91" y="1268.60" width="9.28" height="9.20" fill="#21918c"/><rect x="2323.89" y="1268.60" width="18.26" height="9.20" fill="#287c8e"/><rect x="2341.85" y="1268.60" width="9.28" height="9.20" fill="#365d8c"/><rect x="2350.83" y="1268.60" width="9.28" height="9.20" fill="#3b528a"/><rect x="2189.21" y="1277.50" width="9.28" height="9.20" fill="#461062"/><rect x="2216.15" y="1277.50" width="9.28" height="9.20" fill="#471e70"/><rect x="2225.13" y="1277.50" width="63.15" height="9.20" fill="#fde725"/><rect x="2287.98" y="1277.50" width="9.28" height="9.20" fill="#e2e425"/><rect x="2296.96" y="1277.50" width="18.26" height="9.20" fill="#fde725"/><rect x="2359.81" y="1277.50" width="9.28" height="9.20" fill="#461062"/><rect x="2153.30" y="1286.40" width="9.28" height="9.20" fill="#461062"/><rect x="2198.19" y="1286.40" width="9.28" height="9.20" fill="#471e70"/><rect x="2225.13" y="1286.40" width="9.28" height="9.20" fill="#287c8e"/><rect x="2234.11" y="1286.40" width="9.28" height="9.20" fill="#75d054"/><rect x="2243.09" y="1286.40" width="9.28" height="9.20" fill="#219b89"/><rect x="2252.06" y="1286.40" width="27.24" height="9.20" fill="#fde725"/><rect x="2279.00" y="1286.40" width="9.28" height="9.20" fill="#461062"/><rect x="2296.96" y="1286.40" width="9.28" height="9.20" fill="#404688"/><rect x="2305.94" y="1286.40" width="9.28" height="9.20" fill="#75d054"/><rect x="2395.72" y="1286.40" width="9.28" height="9.20" fill="#461062"/><rect x="2234.11" y="1295.30" width="9.28" height="9.20" fill="#471e70"/><rect x="2252.06" y="1295.30" width="9.28" height="9.20" fill="#acdc31"/><rect x="2261.04" y="1295.30" width="9.28" height="9.20" fill="#fde725"/><rect x="2270.02" y="1295.30" width="9.28" height="9.20" fill="#25878d"/><rect x="2305.94" y="1295.30" width="9.28" height="9.20" fill="#461062"/><rect x="2341.85" y="1295.30" width="9.28" height="9.20" fill="#461062"/><rect x="2395.72" y="1295.30" width="9.28" height="9.20" fill="#461062"/><rect x="2180.24" y="1304.20" width="18.26" height="9.20" fill="#461062"/><rect x="2234.11" y="1304.20" width="9.28" height="9.20" fill="#461062"/><rect x="2252.06" y="1304.20" width="9.28" height="9.20" fill="#5fc860"/><rect x="2261.04" y="1304.20" width="18.26" height="9.20" fill="#fde725"/><rect x="2314.91" y="1304.20" width="9.28" height="9.20" fill="#461062"/><rect x="2368.79" y="1304.20" width="18.26" height="9.20" fill="#461062"/><rect x="2243.09" y="1313.10" width="18.26" height="9.20" fill="#461062"/><rect x="2261.04" y="1313.10" width="18.26" height="9.20" fill="#fde725"/><rect x="2279.00" y="1313.10" width="9.28" height="9.20" fill="#2d728e"/><rect x="2287.98" y="1313.10" width="9.28" height="9.20" fill="#461062"/><rect x="2323.89" y="1313.10" width="9.28" height="9.20" fill="#461062"/><rect x="2395.72" y="1313.10" width="9.28" height="9.20" fill="#461062"/><rect x="2162.28" y="1322.00" width="9.28" height="9.20" fill="#461062"/><rect x="2198.19" y="1322.00" width="9.28" height="9.20" fill="#461062"/><rect x="2261.04" y="1322.00" width="9.28" height="9.20" fill="#433981"/><rect x="2270.02" y="1322.00" width="18.26" height="9.20" fill="#fde725"/><rect x="2287.98" y="1322.00" width="9.28" height="9.20" fill="#90d643"/><rect x="2296.96" y="1322.00" width="9.28" height="9.20" fill="#219b89"/><rect x="2332.87" y="1322.00" width="9.28" height="9.20" fill="#461062"/><rect x="2386.74" y="1322.00" width="9.28" height="9.20" fill="#461062"/><rect x="2189.21" y="1330.90" width="9.28" height="9.20" fill="#461062"/><rect x="2198.19" y="1330.90" width="9.28" height="9.20" fill="#471e70"/><rect x="2261.04" y="1330.90" width="9.28" height="9.20" fill="#461062"/><rect x="2270.02" y="1330.90" width="9.28" height="9.20" fill="#287c8e"/><rect x="2279.00" y="1330.90" width="27.24" height="9.20" fill="#fde725"/><rect x="2305.94" y="1330.90" width="9.28" height="9.20" fill="#2aae7f"/><rect x="2314.91" y="1330.90" width="9.28" height="9.20" fill="#433981"/><rect x="2216.15" y="1339.80" width="9.28" height="9.20" fill="#461062"/><rect x="2279.00" y="1339.80" width="9.28" height="9.20" fill="#3b528a"/><rect x="2287.98" y="1339.80" width="27.24" height="9.20" fill="#fde725"/><rect x="2314.91" y="1339.80" width="9.28" height="9.20" fill="#75d054"/><rect x="2323.89" y="1339.80" width="9.28" height="9.20" fill="#462c7a"/><rect x="2350.83" y="1339.80" width="9.28" height="9.20" fill="#461062"/><rect x="2377.76" y="1339.80" width="18.26" height="9.20" fill="#461062"/><rect x="2287.98" y="1348.70" width="9.28" height="9.20" fill="#462c7a"/><rect x="2296.96" y="1348.70" width="9.28" height="9.20" fill="#21918c"/><rect x="2305.94" y="1348.70" width="18.26" height="9.20" fill="#fde725"/><rect x="2323.89" y="1348.70" width="9.28" height="9.20" fill="#e2e425"/><rect x="2395.72" y="1348.70" width="9.28" height="9.20" fill="#461062"/><rect x="2305.94" y="1357.60" width="27.24" height="9.20" fill="#fde725"/><rect x="2332.87" y="1357.60" width="9.28" height="9.20" fill="#2d728e"/><rect x="2359.81" y="1357.60" width="9.28" height="9.20" fill="#461062"/><rect x="2395.72" y="1357.60" width="9.28" height="9.20" fill="#461062"/><rect x="2171.26" y="1366.50" width="9.28" height="9.20" fill="#461062"/><rect x="2198.19" y="1366.50" width="18.26" height="9.20" fill="#461062"/><rect x="2243.09" y="1366.50" width="9.28" height="9.20" fill="#461062"/><rect x="2279.00" y="1366.50" width="9.28" height="9.20" fill="#3b528a"/><rect x="2287.98" y="1366.50" width="9.28" height="9.20" fill="#39b777"/><rect x="2296.96" y="1366.50" width="9.28" height="9.20" fill="#e2e425"/><rect x="2305.94" y="1366.50" width="27.24" height="9.20" fill="#fde725"/><rect x="2332.87" y="1366.50" width="9.28" height="9.20" fill="#471e70"/><rect x="2350.83" y="1366.50" width="9.28" height="9.20" fill="#471e70"/><rect x="2359.81" y="1366.50" width="9.28" height="9.20" fill="#461062"/><rect x="2153.30" y="1375.40" width="9.28" height="9.20" fill="#461062"/><rect x="2180.24" y="1375.40" width="9.28" height="9.20" fill="#461062"/><rect x="2189.21" y="1375.40" width="9.28" height="9.20" fill="#471e70"/><rect x="2234.11" y="1375.40" width="9.28" height="9.20" fill="#461062"/><rect x="2261.04" y="1375.40" width="9.28" height="9.20" fill="#3b528a"/><rect x="2270.02" y="1375.40" width="9.28" height="9.20" fill="#5fc860"/><rect x="2279.00" y="1375.40" width="45.19" height="9.20" fill="#fde725"/><rect x="2323.89" y="1375.40" width="9.28" height="9.20" fill="#e2e425"/><rect x="2341.85" y="1375.40" width="9.28" height="9.20" fill="#461062"/><rect x="2359.81" y="1375.40" width="9.28" height="9.20" fill="#461062"/><rect x="2377.76" y="1375.40" width="9.28" height="9.20" fill="#461062"/><rect x="2243.09" y="1384.30" width="9.28" height="9.20" fill="#462c7a"/><rect x="2252.06" y="1384.30" width="9.28" height="9.20" fill="#22a485"/><rect x="2261.04" y="1384.30" width="54.17" height="9.20" fill="#fde725"/><rect x="2314.91" y="1384.30" width="9.28" height="9.20" fill="#287c8e"/><rect x="2359.81" y="1384.30" width="9.28" height="9.20" fill="#461062"/><rect x="2180.24" y="1393.20" width="9.28" height="9.20" fill="#461062"/><rect x="2198.19" y="1393.20" width="9.28" height="9.20" fill="#471e70"/><rect x="2225.13" y="1393.20" width="9.28" height="9.20" fill="#433981"/><rect x="2234.11" y="1393.20" width="9.28" height="9.20" fill="#2d728e"/><rect x="2243.09" y="1393.20" width="54.17" height="9.20" fill="#fde725"/><rect x="2296.96" y="1393.20" width="9.28" height="9.20" fill="#287c8e"/><rect x="2323.89" y="1393.20" width="9.28" height="9.20" fill="#461062"/><rect x="2359.81" y="1393.20" width="9.28" height="9.20" fill="#461062"/><rect x="2207.17" y="1402.10" width="9.28" height="9.20" fill="#471e70"/><rect x="2216.15" y="1402.10" width="9.28" height="9.20" fill="#acdc31"/><rect x="2225.13" y="1402.10" width="54.17" height="9.20" fill="#fde725"/><rect x="2279.00" y="1402.10" width="9.28" height="9.20" fill="#287c8e"/><rect x="2287.98" y="1402.10" width="9.28" height="9.20" fill="#461062"/><rect x="2314.91" y="1402.10" width="9.28" height="9.20" fill="#461062"/><rect x="2377.76" y="1402.10" width="9.28" height="9.20" fill="#461062"/><rect x="2171.26" y="1411.00" width="18.26" height="9.20" fill="#461062"/><rect x="2189.21" y="1411.00" width="9.28" height="9.20" fill="#365d8c"/><rect x="2198.19" y="1411.00" width="9.28" height="9.20" fill="#acdc31"/><rect x="2207.17" y="1411.00" width="54.17" height="9.20" fill="#fde725"/><rect x="2261.04" y="1411.00" width="9.28" height="9.20" fill="#49c06d"/><rect x="2270.02" y="1411.00" width="9.28" height="9.20" fill="#471e70"/><rect x="2314.91" y="1411.00" width="9.28" height="9.20" fill="#461062"/><rect x="2341.85" y="1411.00" width="9.28" height="9.20" fill="#461062"/><rect x="2395.72" y="1411.00" width="9.28" height="9.20" fill="#461062"/><rect x="2171.26" y="1419.90" width="9.28" height="9.20" fill="#461062"/><rect x="2189.21" y="1419.90" width="9.28" height="9.20" fill="#49c06d"/><rect x="2198.19" y="1419.90" width="36.21" height="9.20" fill="#fde725"/><rect x="2234.11" y="1419.90" width="9.28" height="9.20" fill="#49c06d"/><rect x="2243.09" y="1419.90" width="9.28" height="9.20" fill="#39b777"/><rect x="2252.06" y="1419.90" width="9.28" height="9.20" fill="#471e70"/><rect x="2296.96" y="1419.90" width="18.26" height="9.20" fill="#461062"/><rect x="2323.89" y="1419.90" width="9.28" height="9.20" fill="#461062"/><rect x="2368.79" y="1419.90" width="9.28" height="9.20" fill="#461062"/><rect x="2386.74" y="1419.90" width="9.28" height="9.20" fill="#461062"/><rect x="2261.04" y="1428.80" width="9.28" height="9.20" fill="#461062"/><rect x="2162.28" y="1437.70" width="9.28" height="9.20" fill="#461062"/><rect x="2198.19" y="1437.70" width="9.28" height="9.20" fill="#461062"/><rect x="2261.04" y="1437.70" width="9.28" height="9.20" fill="#461062"/><rect x="2153.30" y="1446.60" width="9.28" height="9.20" fill="#461062"/><rect x="2243.09" y="1446.60" width="9.28" height="9.20" fill="#461062"/><rect x="2279.00" y="1446.60" width="9.28" height="9.20" fill="#461062"/><rect x="2296.96" y="1446.60" width="9.28" height="9.20" fill="#461062"/><rect x="2341.85" y="1446.60" width="18.26" height="9.20" fill="#461062"/><rect x="2368.79" y="1446.60" width="9.28" height="9.20" fill="#461062"/><rect x="2153.3" y="1215.2" width="251.4" height="240" fill="none" stroke="#000" stroke-width="1.2"/></g>
<text x="1944.8" y="1298" font-size="53.3" fill="#000" >Denoise</text>
<path d="M1986,1347.0 L2074.9,1347.0 L2055.3,1327.3 L2100.9,1349.8 L2055.3,1372.3 L2074.9,1352.6 L1986,1352.6 Z" fill="#8497b0"/>
<polygon points="1541.6,1784.8 1701.7,1688.6 1701.7,1693.5 1541.6,1789.7" fill="#9aa39f" opacity="0.55"/>
<polygon points="1541.6,1597.0 1701.7,1498.3 1701.7,1688.6 1541.6,1784.8" fill="#a0cdb9" />
<clipPath id="fc0"><polygon points="1541.6,1597.0 1701.7,1498.3 1701.7,1688.6 1541.6,1784.8" fill="#000" /></clipPath>
<path d="M1662.2,1555.4C1663.7,1553.6 1665.9,1552.2 1667.1,1556.6C1668.3,1561.0 1669.0,1572.2 1669.5,1581.9C1670.0,1591.6 1668.7,1607.0 1670.3,1614.5C1671.9,1622.0 1676.1,1622.3 1679.3,1626.7C1682.5,1631.1 1686.8,1636.2 1689.5,1641.0C1692.2,1645.8 1694.2,1647.0 1695.6,1655.2C1696.9,1663.4 1704.4,1679.9 1697.6,1689.9C1690.8,1700.0 1663.3,1714.5 1654.8,1715.5C1646.3,1716.5 1648.2,1703.3 1646.7,1696.0C1645.2,1688.7 1645.4,1679.0 1645.9,1671.5C1646.5,1664.0 1648.7,1658.0 1650.0,1651.2C1651.3,1644.4 1652.9,1639.0 1654.0,1630.8C1655.1,1622.6 1655.8,1612.7 1656.5,1602.2C1657.2,1591.7 1657.1,1575.4 1658.1,1567.6C1659.0,1559.8 1660.7,1557.2 1662.2,1555.4Z" fill="#f3dba0" clip-path="url(#fc0)"/>
<polygon points="1715.2,1784.8 1875.7,1688.6 1875.7,1693.5 1715.2,1789.7" fill="#9aa39f" opacity="0.55"/>
<polygon points="1715.2,1597.0 1875.7,1498.3 1875.7,1688.6 1715.2,1784.8" fill="#a0cdb9" />
<clipPath id="fc1"><polygon points="1715.2,1597.0 1875.7,1498.3 1875.7,1688.6 1715.2,1784.8" fill="#000" /></clipPath>
<path d="M1796.7,1571.7C1797.9,1565.9 1800.2,1566.9 1801.5,1567.6C1802.8,1568.3 1804.1,1567.3 1804.8,1575.8C1805.5,1584.3 1803.8,1609.5 1805.6,1618.5C1807.4,1627.5 1812.4,1626.9 1815.8,1630.0C1819.2,1633.1 1822.8,1634.9 1826.0,1636.9C1829.2,1638.9 1833.0,1630.3 1835.0,1642.2C1837.0,1654.1 1843.8,1693.5 1838.2,1708.2C1832.6,1722.9 1809.0,1729.6 1801.5,1730.6C1794.0,1731.6 1795.1,1722.1 1793.4,1714.3C1791.7,1706.5 1791.3,1694.3 1791.4,1683.8C1791.5,1673.3 1793.5,1660.7 1794.2,1651.2C1794.9,1641.7 1795.8,1634.9 1795.8,1626.7C1795.8,1618.5 1794.0,1611.4 1794.2,1602.2C1794.4,1593.0 1795.5,1577.5 1796.7,1571.7Z" fill="#f3dba0" clip-path="url(#fc1)"/>
<polygon points="1888.3,1784.8 2050.1,1688.6 2050.1,1693.5 1888.3,1789.7" fill="#9aa39f" opacity="0.55"/>
<polygon points="1888.3,1597.0 2050.1,1498.3 2050.1,1688.6 1888.3,1784.8" fill="#a0cdb9" />
<clipPath id="fc2"><polygon points="1888.3,1597.0 2050.1,1498.3 2050.1,1688.6 1888.3,1784.8" fill="#000" /></clipPath>
<path d="M1925.8,1620.6C1927.0,1616.4 1931.6,1612.0 1934.0,1613.7C1936.4,1615.4 1937.7,1623.9 1940.1,1630.8C1942.5,1637.7 1945.2,1652.8 1948.2,1655.2C1951.2,1657.6 1955.0,1646.2 1958.4,1645.0C1961.8,1643.8 1965.4,1647.0 1968.6,1647.9C1971.8,1648.8 1975.2,1646.4 1977.6,1650.3C1980.0,1654.2 1981.0,1664.6 1982.9,1671.5C1984.8,1678.4 1987.3,1683.4 1989.0,1691.9C1990.7,1700.4 1999.5,1713.3 1993.1,1722.5C1986.6,1731.7 1958.6,1746.6 1950.3,1746.9C1942.0,1747.2 1945.4,1735.0 1943.4,1724.5C1941.4,1714.0 1940.0,1694.7 1938.1,1683.8C1936.2,1672.9 1933.8,1666.8 1932.0,1659.3C1930.2,1651.8 1928.1,1645.4 1927.1,1638.9C1926.1,1632.5 1924.6,1624.8 1925.8,1620.6Z" fill="#f3dba0" clip-path="url(#fc2)"/>
<polygon points="2063.2,1784.8 2224.1,1688.6 2224.1,1693.5 2063.2,1789.7" fill="#9aa39f" opacity="0.55"/>
<polygon points="2063.2,1597.0 2224.1,1498.3 2224.1,1688.6 2063.2,1784.8" fill="#a0cdb9" />
<clipPath id="fc3"><polygon points="2063.2,1597.0 2224.1,1498.3 2224.1,1688.6 2063.2,1784.8" fill="#000" /></clipPath>
<path d="M2067.2,1695.2C2069.9,1691.8 2078.4,1690.8 2082.7,1691.9C2087.0,1693.1 2090.1,1699.2 2092.9,1702.1C2095.8,1704.9 2098.1,1712.0 2099.8,1709.0C2101.5,1706.0 2099.8,1689.5 2103.1,1683.8C2106.4,1678.1 2114.7,1677.5 2119.4,1674.8C2124.2,1672.1 2128.3,1666.3 2131.6,1667.5C2134.9,1668.7 2136.8,1677.0 2139.0,1681.7C2141.2,1686.5 2142.9,1687.8 2144.7,1696.0C2146.5,1704.2 2156.2,1720.4 2150.0,1730.6C2143.8,1740.8 2116.2,1755.4 2107.2,1757.1C2098.2,1758.8 2099.2,1745.2 2095.8,1740.8C2092.4,1736.4 2090.3,1734.0 2086.8,1730.6C2083.3,1727.2 2078.0,1723.5 2074.6,1720.4C2071.2,1717.4 2067.6,1716.5 2066.4,1712.3C2065.2,1708.1 2064.5,1698.6 2067.2,1695.2Z" fill="#f3dba0" clip-path="url(#fc3)"/>
<path d="M1816.0,1543.4 L1841.0,1555.4 L1816.0,1567.4 Z" fill="#6fa97f" opacity="0.38"/>
<path d="M1989.2,1543.4 L2014.2,1555.4 L1989.2,1567.4 Z" fill="#6fa97f" opacity="0.38"/>
<path d="M2164.4,1543.4 L2189.4,1555.4 L2164.4,1567.4 Z" fill="#6fa97f" opacity="0.38"/>
<path d="M1667.9,1555.4 L2221.3,1555.4" stroke="#4e8a3a" stroke-width="1.5" stroke-dasharray="7 3.5" fill="none"/>
<path d="M2219.3,1542.9 L2246.3,1555.4 L2219.3,1567.9 Z" fill="#538135"/>
<path d="M1805.8,1592.7 L1830.8,1604.7 L1805.8,1616.7 Z" fill="#6fa97f" opacity="0.38"/>
<path d="M1979.0,1592.7 L2004.0,1604.7 L1979.0,1616.7 Z" fill="#6fa97f" opacity="0.38"/>
<path d="M2152.2,1592.7 L2177.2,1604.7 L2152.2,1616.7 Z" fill="#6fa97f" opacity="0.38"/>
<path d="M1656.1,1604.7 L2221.3,1604.7" stroke="#4e8a3a" stroke-width="1.5" stroke-dasharray="7 3.5" fill="none"/>
<path d="M2219.3,1592.2 L2246.3,1604.7 L2219.3,1617.2 Z" fill="#538135"/>
<path d="M1775.3,1650.6 L1800.3,1662.6 L1775.3,1674.6 Z" fill="#6fa97f" opacity="0.38"/>
<path d="M1948.5,1650.6 L1973.5,1662.6 L1948.5,1674.6 Z" fill="#6fa97f" opacity="0.38"/>
<path d="M2125.7,1650.6 L2150.7,1662.6 L2125.7,1674.6 Z" fill="#6fa97f" opacity="0.38"/>
<path d="M1629.6,1662.6 L2221.3,1662.6" stroke="#4e8a3a" stroke-width="1.5" stroke-dasharray="7 3.5" fill="none"/>
<path d="M2219.3,1650.1 L2246.3,1662.6 L2219.3,1675.1 Z" fill="#538135"/>
<path d="M1773.2,1691.3 L1798.2,1703.3 L1773.2,1715.3 Z" fill="#6fa97f" opacity="0.38"/>
<path d="M1944.4,1691.3 L1969.4,1703.3 L1944.4,1715.3 Z" fill="#6fa97f" opacity="0.38"/>
<path d="M2117.6,1691.3 L2142.6,1703.3 L2117.6,1715.3 Z" fill="#6fa97f" opacity="0.38"/>
<path d="M1623.5,1703.3 L2221.3,1703.3" stroke="#4e8a3a" stroke-width="1.5" stroke-dasharray="7 3.5" fill="none"/>
<path d="M2219.3,1690.8 L2246.3,1703.3 L2219.3,1715.8 Z" fill="#538135"/>
<text x="2264.9" y="1572.9" font-size="53" fill="#000" >0000</text>
<text x="2263.0" y="1630.8" font-size="53" fill="#000" >1000</text>
<text x="2264.9" y="1688.6" font-size="53" fill="#000" >0110</text>
<text x="2264.9" y="1747" font-size="53" fill="#000" >0111</text>
<!-- net -->
<defs>
<linearGradient id="sphB" x1="0.85" y1="0.1" x2="0.15" y2="0.9"><stop offset="0" stop-color="#eef0f2"/><stop offset="0.45" stop-color="#dfe3e9"/><stop offset="0.55" stop-color="#d3d9e2"/><stop offset="1" stop-color="#a7b3c7"/></linearGradient>
<linearGradient id="sphBb" x1="0" y1="0" x2="0" y2="1"><stop offset="0.6" stop-color="#9fadc4" stop-opacity="0"/><stop offset="1" stop-color="#9fadc4" stop-opacity="0.75"/></linearGradient>
<linearGradient id="sphG" x1="0.85" y1="0.1" x2="0.15" y2="0.9"><stop offset="0" stop-color="#f0f0f0"/><stop offset="0.45" stop-color="#e0e0e0"/><stop offset="0.55" stop-color="#d4d3d3"/><stop offset="1" stop-color="#a9a6a6"/></linearGradient>
<linearGradient id="sphGb" x1="0" y1="0" x2="0" y2="1"><stop offset="0.6" stop-color="#a19e9e" stop-opacity="0"/><stop offset="1" stop-color="#a19e9e" stop-opacity="0.75"/></linearGradient>
<radialGradient id="brainG" cx="0.5" cy="0.48" r="0.62"><stop offset="0" stop-color="#fdf4f2"/><stop offset="0.45" stop-color="#fbeee6"/><stop offset="0.8" stop-color="#f7e7cf"/><stop offset="1" stop-color="#f4e0bb"/></radialGradient>
</defs>
<rect x="2539.5" y="1096.6" width="153.2" height="703.9" fill="none" stroke="#bfbfbf" stroke-width="6.6" stroke-dasharray="27.4 20.73"/>
<rect x="3625.2" y="1096.6" width="154" height="703.9" fill="none" stroke="#bfbfbf" stroke-width="6.6" stroke-dasharray="27.4 20.73"/>
<rect x="2788" y="1096.6" width="741.4" height="703.3" fill="none" stroke="#6aaf58" stroke-width="6.8" stroke-dasharray="27.4 20.73"/>
<circle cx="2615.3" cy="1202.7" r="44" fill="url(#sphB)"/><circle cx="2615.3" cy="1202.7" r="44" fill="url(#sphBb)"/>
<circle cx="3701.3" cy="1202.7" r="44" fill="url(#sphG)"/><circle cx="3701.3" cy="1202.7" r="44" fill="url(#sphGb)"/>
<circle cx="2615.3" cy="1344.8" r="44" fill="url(#sphB)"/><circle cx="2615.3" cy="1344.8" r="44" fill="url(#sphBb)"/>
<circle cx="3701.3" cy="1344.8" r="44" fill="url(#sphG)"/><circle cx="3701.3" cy="1344.8" r="44" fill="url(#sphGb)"/>
<circle cx="2615.3" cy="1486.9" r="44" fill="url(#sphB)"/><circle cx="2615.3" cy="1486.9" r="44" fill="url(#sphBb)"/>
<circle cx="3701.3" cy="1486.9" r="44" fill="url(#sphG)"/><circle cx="3701.3" cy="1486.9" r="44" fill="url(#sphGb)"/>
<circle cx="2615.3" cy="1709.2" r="44" fill="url(#sphB)"/><circle cx="2615.3" cy="1709.2" r="44" fill="url(#sphBb)"/>
<circle cx="3701.3" cy="1709.2" r="44" fill="url(#sphG)"/><circle cx="3701.3" cy="1709.2" r="44" fill="url(#sphGb)"/>
<circle cx="2603" cy="1603" r="4.3" fill="#000"/>
<circle cx="2623.8" cy="1603" r="4.3" fill="#000"/>
<circle cx="3689.5" cy="1603" r="4.3" fill="#000"/>
<circle cx="3710" cy="1603" r="4.3" fill="#000"/>
<path d="M2453,1358.95 L2512.3,1358.95 L2489.3,1338.8999999999999 L2534,1361.8 L2489.3,1384.7 L2512.3,1364.6499999999999 L2453,1364.6499999999999 Z" fill="#8497b0"/>
<path d="M2704.4,1358.95 L2762.9,1358.95 L2739.9,1338.8999999999999 L2784.6,1361.8 L2739.9,1384.7 L2762.9,1364.6499999999999 L2704.4,1364.6499999999999 Z" fill="#8497b0"/>
<path d="M3544.6,1358.95 L3600.3,1358.95 L3577.3,1338.8999999999999 L3622,1361.8 L3577.3,1384.7 L3600.3,1364.6499999999999 L3544.6,1364.6499999999999 Z" fill="#8497b0"/>
<path d="M2453,1454.25 L2512.3,1454.25 L2489.3,1434.1999999999998 L2534,1457.1 L2489.3,1480.0 L2512.3,1459.9499999999998 L2453,1459.9499999999998 Z" fill="#8497b0"/>
<path d="M2704.4,1454.25 L2762.9,1454.25 L2739.9,1434.1999999999998 L2784.6,1457.1 L2739.9,1480.0 L2762.9,1459.9499999999998 L2704.4,1459.9499999999998 Z" fill="#8497b0"/>
<path d="M3544.6,1454.25 L3600.3,1454.25 L3577.3,1434.1999999999998 L3622,1457.1 L3577.3,1480.0 L3600.3,1459.9499999999998 L3544.6,1459.9499999999998 Z" fill="#8497b0"/>
<path d="M2453,1549.15 L2512.3,1549.15 L2489.3,1529.1 L2534,1552 L2489.3,1574.9 L2512.3,1554.85 L2453,1554.85 Z" fill="#8497b0"/>
<path d="M2704.4,1549.15 L2762.9,1549.15 L2739.9,1529.1 L2784.6,1552 L2739.9,1574.9 L2762.9,1554.85 L2704.4,1554.85 Z" fill="#8497b0"/>
<path d="M3544.6,1549.15 L3600.3,1549.15 L3577.3,1529.1 L3622,1552 L3577.3,1574.9 L3600.3,1554.85 L3544.6,1554.85 Z" fill="#8497b0"/>
<path d="M3157.6,1214.5C3158.4,1214.5 3157.6,1188.2 3160.0,1174.4C3162.4,1160.6 3164.3,1142.1 3171.8,1131.9C3179.3,1121.7 3191.4,1116.5 3204.8,1113.0C3218.2,1109.5 3237.8,1109.1 3252.0,1110.7C3266.2,1112.3 3279.6,1116.6 3289.8,1122.5C3300.0,1128.4 3307.9,1143.9 3313.4,1146.1C3318.9,1148.3 3313.4,1134.1 3322.8,1135.7C3332.2,1137.3 3357.4,1149.8 3370.0,1155.5C3382.6,1161.2 3392.0,1163.4 3398.3,1169.7C3404.6,1176.0 3400.7,1188.6 3407.8,1193.3C3414.9,1198.0 3432.2,1190.9 3440.8,1198.0C3449.5,1205.1 3454.2,1224.0 3459.7,1235.8C3465.2,1247.6 3469.9,1257.0 3473.8,1268.8C3477.7,1280.6 3480.2,1294.0 3483.3,1306.6C3486.5,1319.2 3491.9,1331.7 3492.7,1344.3C3493.5,1356.9 3486.4,1369.5 3488.0,1382.1C3489.6,1394.7 3497.9,1406.4 3502.2,1419.8C3506.5,1433.2 3513.2,1449.7 3514.0,1462.3C3514.8,1474.9 3510.1,1486.8 3506.9,1495.4C3503.8,1504.1 3495.9,1506.3 3495.1,1514.2C3494.3,1522.1 3503.4,1531.6 3502.2,1542.6C3501.0,1553.6 3495.1,1566.9 3488.0,1580.3C3480.9,1593.7 3471.5,1609.4 3459.7,1622.8C3447.9,1636.2 3430.6,1650.4 3417.2,1660.6C3403.8,1670.8 3392.8,1677.9 3379.4,1684.2C3366.0,1690.5 3348.0,1697.9 3337.0,1698.3C3326.0,1698.7 3323.6,1687.3 3313.4,1686.5C3303.2,1685.7 3293.7,1691.6 3275.6,1693.6C3257.5,1695.6 3224.5,1697.5 3204.8,1698.3C3185.1,1699.1 3173.3,1698.3 3157.6,1698.3C3141.9,1698.3 3130.1,1699.1 3110.4,1698.3C3090.7,1697.5 3057.7,1695.6 3039.6,1693.6C3021.5,1691.6 3012.0,1685.7 3001.8,1686.5C2991.6,1687.3 2989.2,1698.7 2978.2,1698.3C2967.2,1697.9 2949.2,1690.5 2935.8,1684.2C2922.4,1677.9 2911.4,1670.8 2898.0,1660.6C2884.6,1650.4 2867.3,1636.2 2855.5,1622.8C2843.7,1609.4 2834.3,1593.7 2827.2,1580.3C2820.1,1566.9 2814.2,1553.6 2813.0,1542.6C2811.8,1531.6 2820.9,1522.1 2820.1,1514.2C2819.3,1506.3 2811.5,1504.1 2808.3,1495.4C2805.2,1486.8 2800.4,1474.9 2801.2,1462.3C2802.0,1449.7 2808.7,1433.2 2813.0,1419.8C2817.3,1406.4 2825.6,1394.7 2827.2,1382.1C2828.8,1369.5 2821.7,1356.9 2822.5,1344.3C2823.3,1331.7 2828.8,1319.2 2831.9,1306.6C2835.1,1294.0 2837.5,1280.6 2841.4,1268.8C2845.3,1257.0 2850.0,1247.6 2855.5,1235.8C2861.0,1224.0 2865.8,1205.1 2874.4,1198.0C2883.1,1190.9 2900.3,1198.0 2907.4,1193.3C2914.5,1188.6 2910.6,1176.0 2916.9,1169.7C2923.2,1163.4 2932.6,1161.2 2945.2,1155.5C2957.8,1149.8 2983.0,1137.3 2992.4,1135.7C3001.8,1134.1 2996.3,1148.3 3001.8,1146.1C3007.3,1143.9 3015.2,1128.4 3025.4,1122.5C3035.6,1116.6 3049.0,1112.3 3063.2,1110.7C3077.4,1109.1 3097.0,1109.5 3110.4,1113.0C3123.8,1116.5 3135.9,1121.7 3143.4,1131.9C3150.9,1142.1 3152.8,1160.6 3155.2,1174.4C3157.6,1188.2 3156.8,1214.5 3157.6,1214.5Z" fill="url(#brainG)"/>
<path d="M3151.9,1108.3 Q3156.6,1156.9 3157.6,1216.9 Q3158.6,1156.9 3163.3,1108.3 Z" fill="#fff"/>
<path d="M3079.7,1205.1C3086.4,1203.6 3106.8,1198.1 3119.8,1196.1C3132.8,1194.1 3143.4,1193.0 3157.6,1193.3C3171.8,1193.6 3188.7,1195.6 3204.8,1198.0C3220.9,1200.4 3246.1,1206.2 3254.4,1207.9" fill="none" stroke="#8ec4ab" stroke-width="5" stroke-dasharray="28 16" stroke-linecap="butt"/><path d="M3228.4,1175.3 L3256.7,1208.4 L3219.0,1230.1" fill="none" stroke="#8ec4ab" stroke-width="5" stroke-linecap="round" stroke-linejoin="round"/>
<path d="M3334.6,1245.2C3339.7,1249.1 3355.5,1259.4 3365.3,1268.8C3375.1,1278.2 3385.3,1290.8 3393.6,1301.8C3401.8,1312.8 3409.5,1326.2 3414.8,1334.9C3420.2,1343.6 3423.9,1350.7 3425.7,1353.8" fill="none" stroke="#8ec4ab" stroke-width="5" stroke-dasharray="28 16" stroke-linecap="butt"/><path d="M3385.6,1337.2 L3426.6,1356.1 L3436.1,1313.6" fill="none" stroke="#8ec4ab" stroke-width="5" stroke-linecap="round" stroke-linejoin="round"/>
<path d="M3435.1,1442.5C3434.1,1449.7 3432.8,1471.6 3429.0,1485.9C3425.2,1500.2 3420.8,1515.8 3412.5,1528.4C3404.2,1541.0 3392.0,1551.3 3379.4,1561.4C3366.8,1571.5 3344.1,1584.2 3337.0,1588.8" fill="none" stroke="#8ec4ab" stroke-width="5" stroke-dasharray="28 16" stroke-linecap="butt"/><path d="M3342.6,1548.7 L3334.6,1590.7 L3378.5,1588.8" fill="none" stroke="#8ec4ab" stroke-width="5" stroke-linecap="round" stroke-linejoin="round"/>
<path d="M3077.4,1632.2C3084.5,1633.8 3106.4,1639.7 3119.8,1641.7C3133.2,1643.7 3143.4,1644.2 3157.6,1644.0C3171.8,1643.8 3188.7,1643.0 3204.8,1640.7C3220.9,1638.4 3246.1,1632.1 3254.4,1630.4" fill="none" stroke="#8ec4ab" stroke-width="5" stroke-dasharray="28 16" stroke-linecap="butt"/><path d="M3218.0,1609.6 L3256.7,1629.9 L3230.8,1661.5" fill="none" stroke="#8ec4ab" stroke-width="5" stroke-linecap="round" stroke-linejoin="round"/>
<path d="M2990.0,1596.8C2984.1,1592.5 2966.0,1581.5 2954.6,1570.9C2943.2,1560.3 2931.4,1546.5 2921.6,1533.1C2911.8,1519.7 2902.3,1505.1 2895.6,1490.6C2888.9,1476.0 2883.8,1453.3 2881.5,1445.8" fill="none" stroke="#8ec4ab" stroke-width="5" stroke-dasharray="28 16" stroke-linecap="butt"/><path d="M2862.6,1482.1 L2880.5,1443.4 L2915.9,1470.8" fill="none" stroke="#8ec4ab" stroke-width="5" stroke-linecap="round" stroke-linejoin="round"/>
<path d="M2892.3,1356.1C2894.8,1350.2 2900.2,1332.9 2907.4,1320.7C2914.7,1308.5 2926.0,1294.0 2935.8,1283.0C2945.6,1272.0 2956.3,1262.6 2966.4,1254.6C2976.5,1246.6 2991.2,1238.1 2996.2,1234.8" fill="none" stroke="#8ec4ab" stroke-width="5" stroke-dasharray="28 16" stroke-linecap="butt"/><path d="M2955.6,1233.4 L2998.1,1233.4 L2988.6,1275.9" fill="none" stroke="#8ec4ab" stroke-width="5" stroke-linecap="round" stroke-linejoin="round"/>
<circle cx="3040.5" cy="1220.2" r="42.5" fill="#5b9db8"/>
<circle cx="3299.2" cy="1220.2" r="42.5" fill="#5b9db8"/>
<circle cx="2887.6" cy="1400" r="42.5" fill="#5b9db8"/>
<circle cx="3427.6" cy="1400" r="42.5" fill="#5b9db8"/>
<circle cx="3040.5" cy="1617" r="42.5" fill="#8fc1a9"/>
<circle cx="3299.2" cy="1617" r="42.5" fill="#5b9db8"/>
<text x="3146" y="1272.6" font-size="62" font-weight="bold" class="s" fill="#000">τ</text>
<text x="2884.2" y="1764.4" font-size="64" fill="#548235" >Memristor reservoir</text>
<path d="M1868,1812 L1903,1841 L1881,1841 C1883,1876 1889,1896 1895.5,1921 L1840.5,1921 C1847,1896 1853,1876 1855,1841 L1833,1841 Z" fill="#97c78a"/>
<path d="M3149.7,1812 L3184.7,1841 L3162.7,1841 C3164.7,1876 3170.7,1896 3177.2,1921 L3122.2,1921 C3128.7,1896 3134.7,1876 3136.7,1841 L3114.7,1841 Z" fill="#97c78a"/>
<!-- e -->
<rect x="1148.4" y="1926.5" width="2632" height="594.9" fill="none" stroke="#6aaf58" stroke-width="6.8" stroke-dasharray="27.4 20.73"/>
<text x="1083.4" y="1927" font-size="82" fill="#000" >e</text>
<path d="M1219,1996.5 L1219,2486 L1757.7,2486" fill="none" stroke="#000" stroke-width="2"/><path d="M1219,1986.5 L1208.4,2011.0 L1229.6,2011.0 Z" fill="#000"/><path d="M1767.7,2486 L1745.7,2475 L1745.7,2497 Z" fill="#000"/>
<path d="M1263.8,2116.2C1264.2,2110.8 1265.1,2093.8 1265.9,2083.6C1266.7,2073.4 1267.4,2063.2 1268.7,2055.0C1270.0,2046.8 1271.0,2039.7 1273.6,2034.6C1276.2,2029.5 1280.9,2025.1 1284.2,2024.4C1287.5,2023.7 1290.0,2027.2 1293.2,2030.6C1296.4,2034.0 1301.2,2040.6 1303.4,2044.8C1305.7,2049.0 1305.3,2054.5 1306.7,2055.9C1308.1,2057.3 1310.1,2051.1 1311.6,2053.0C1313.1,2054.9 1314.2,2060.2 1315.6,2067.3C1316.9,2074.4 1318.3,2084.2 1319.7,2095.8C1321.1,2107.4 1322.6,2124.3 1323.8,2136.6C1325.0,2148.8 1325.7,2157.7 1327.1,2169.3C1328.5,2180.9 1329.8,2195.1 1332.0,2206.0C1334.2,2216.9 1336.7,2225.8 1340.1,2234.6C1343.5,2243.4 1347.3,2251.2 1352.4,2259.0C1357.5,2266.8 1364.2,2274.8 1370.7,2281.5C1377.2,2288.2 1385.0,2294.9 1391.1,2299.0C1397.2,2303.1 1402.0,2303.9 1407.4,2306.0C1412.9,2308.1 1418.0,2309.5 1423.8,2311.3C1429.6,2313.1 1436.7,2314.7 1442.1,2317.0C1447.5,2319.3 1450.6,2321.7 1456.4,2325.1C1462.2,2328.5 1470.0,2333.1 1476.8,2337.4C1483.6,2341.7 1490.4,2346.7 1497.2,2350.8C1504.0,2355.0 1511.5,2359.4 1517.6,2362.3C1523.7,2365.2 1528.5,2366.2 1533.9,2368.4C1539.3,2370.6 1545.3,2373.8 1550.2,2375.7C1555.1,2377.6 1559.5,2377.8 1563.3,2379.8C1567.0,2381.8 1569.4,2385.3 1572.7,2387.6C1576.0,2389.9 1577.8,2391.9 1582.9,2393.7C1588.0,2395.5 1595.8,2397.1 1603.3,2398.6C1610.8,2400.1 1618.3,2401.4 1627.8,2402.7C1637.3,2404.0 1649.5,2405.4 1660.4,2406.3C1671.3,2407.2 1682.8,2408.0 1693.0,2408.4C1703.2,2408.8 1716.8,2408.7 1721.6,2408.8" fill="none" stroke="#8dc0a8" stroke-width="4.6" stroke-linecap="round" stroke-linejoin="round"/>
<defs><linearGradient id="spec" x1="0" y1="0" x2="1" y2="0"><stop offset="0" stop-color="#c79bfb"/><stop offset="0.1" stop-color="#9d8fea"/><stop offset="0.21" stop-color="#4f88d8"/><stop offset="0.32" stop-color="#6db3a2"/><stop offset="0.42" stop-color="#8ddc80"/><stop offset="0.52" stop-color="#c6ec78"/><stop offset="0.6" stop-color="#ffff66"/><stop offset="0.72" stop-color="#ffa352"/><stop offset="0.84" stop-color="#ff4040"/><stop offset="0.92" stop-color="#dd5a5e"/><stop offset="1" stop-color="#c47474"/></linearGradient></defs>
<rect x="1248.3" y="2441.8" width="452.9" height="25.3" fill="url(#spec)"/>
<text x="1707" y="2467" font-size="74" class="s" fill="#000">λ</text>
<text transform="translate(1208.3,2294.1) rotate(-90)" font-size="64" fill="#000">Abs</text>
<text x="1294.0" y="2000" font-size="64" fill="#548235" >Broad perception</text>
<path d="M1886.3,1987.5 L1886.3,2482.2 L2377.7,2482.2" fill="none" stroke="#000" stroke-width="2"/><path d="M1886.3,1977.5 L1875.7,2002.0 L1896.8999999999999,2002.0 Z" fill="#000"/><path d="M2387.7,2482.2 L2365.7,2471.2 L2365.7,2493.2 Z" fill="#000"/>
<path d="M1927.9,2440.6C1935.5,2439.9 1958.5,2439.2 1973.6,2436.5C1988.7,2433.8 2002.9,2430.4 2018.5,2424.3C2034.1,2418.2 2051.1,2409.7 2067.4,2399.8C2083.7,2389.9 2100.1,2379.0 2116.4,2365.1C2132.7,2351.2 2149.1,2335.2 2165.4,2316.2C2181.7,2297.2 2198.7,2274.0 2214.3,2250.9C2229.9,2227.8 2244.9,2201.9 2259.2,2177.4C2273.5,2152.9 2288.4,2125.1 2300.0,2104.0C2311.6,2082.9 2321.1,2065.3 2328.6,2051.0C2336.1,2036.7 2342.2,2023.8 2344.9,2018.3" fill="none" stroke="#8dc0a8" stroke-width="4.2" stroke-linecap="round"/>
<text x="1941.0" y="2000" font-size="64" fill="#548235" >Gamma correction</text>
<text x="1992.8" y="2465" font-size="64" fill="#000" >Light duration</text>
<text transform="translate(1864.7,2321.4) rotate(-90)" font-size="64" fill="#000">Current</text>
<path d="M2590.2,1991.6 L2590.2,2484.7 L3113.8,2484.7" fill="none" stroke="#000" stroke-width="2"/><path d="M2590.2,1981.6 L2579.6,2006.1 L2600.7999999999997,2006.1 Z" fill="#000"/><path d="M3123.8,2484.7 L3101.8,2473.7 L3101.8,2495.7 Z" fill="#000"/>
<path d="M2627.7,2445.5 L2673.8,2446.7 L2677.1,2422.2 L2679.9,2348.8 L2683.2,2226.4 L2687.3,2104.0 L2692.2,2046.1 C2692.7,2054.4 2694.1,2076.0 2695.4,2095.8C2696.8,2115.7 2698.1,2143.4 2700.3,2165.2C2702.5,2187.0 2705.1,2207.4 2708.5,2226.4C2711.9,2245.4 2715.3,2263.1 2720.7,2279.4C2726.1,2295.7 2733.6,2311.7 2741.1,2324.3C2748.6,2336.9 2756.1,2346.1 2765.6,2354.9C2775.1,2363.8 2786.0,2370.6 2798.2,2377.4C2810.4,2384.2 2824.0,2390.1 2839.0,2395.7C2854.0,2401.3 2869.6,2406.4 2888.0,2410.8C2906.4,2415.2 2928.8,2419.1 2949.2,2422.2C2969.6,2425.3 2991.0,2427.3 3010.4,2429.2C3029.8,2431.0 3056.3,2432.6 3065.5,2433.3" fill="none" stroke="#8dc0a8" stroke-width="4.8" stroke-linejoin="round" stroke-linecap="round"/>
<text x="2604.4" y="2000" font-size="64" fill="#548235" >Short-term memory</text>
<text x="2828.6" y="2463" font-size="64" fill="#000" >Time</text>
<text transform="translate(2565.7,2321.2) rotate(-90)" font-size="64" fill="#000">Current</text>
<path d="M3239.8,1982.6 L3239.8,2484.7 L3779.8,2484.7" fill="none" stroke="#000" stroke-width="2"/><path d="M3239.8,1972.6 L3229.2000000000003,1997.1 L3250.4,1997.1 Z" fill="#000"/><path d="M3789.8,2484.7 L3767.8,2473.7 L3767.8,2495.7 Z" fill="#000"/>
<path d="M3293.7,1994.7C3297.6,1996.9 3309.4,2002.1 3317.4,2008.1C3325.4,2014.1 3333.7,2020.7 3341.8,2030.6C3350.0,2040.5 3359.5,2055.1 3366.3,2067.3C3373.1,2079.5 3377.2,2091.1 3382.6,2104.0C3388.0,2116.9 3392.9,2131.9 3399.0,2144.8C3405.1,2157.7 3411.2,2169.3 3419.4,2181.5C3427.6,2193.7 3438.4,2206.6 3447.9,2218.2C3457.4,2229.8 3469.0,2240.0 3476.5,2250.9C3484.0,2261.8 3488.1,2271.9 3492.8,2283.5C3497.6,2295.1 3501.9,2307.9 3505.0,2320.2C3508.1,2332.4 3509.8,2342.0 3511.2,2357.0C3512.6,2372.0 3512.9,2391.7 3513.2,2410.0C3513.5,2428.3 3513.2,2457.6 3513.2,2467.1" fill="none" stroke="#8dc0a8" stroke-width="4.3" stroke-linecap="round" stroke-linejoin="round"/>
<path d="M3293.7,1994.7C3299.7,1998.3 3316.8,2008.3 3329.6,2016.3C3342.4,2024.3 3357.5,2032.9 3370.4,2042.8C3383.3,2052.7 3396.2,2063.8 3407.1,2075.4C3418.0,2087.0 3426.8,2099.9 3435.7,2112.2C3444.5,2124.4 3452.0,2137.3 3460.2,2148.9C3468.3,2160.5 3477.8,2172.0 3484.6,2181.5C3491.4,2191.0 3496.9,2197.8 3501.0,2206.0C3505.1,2214.2 3507.1,2221.7 3509.1,2230.5C3511.1,2239.3 3512.3,2242.7 3513.2,2259.0C3514.1,2275.3 3514.2,2316.8 3514.4,2328.4" fill="none" stroke="#8dc0a8" stroke-width="4.3" stroke-linecap="round" stroke-linejoin="round"/>
<path d="M3514.4,2328.4C3514.5,2316.8 3514.4,2277.4 3515.2,2259.0C3516.0,2240.6 3516.9,2231.8 3519.3,2218.2C3521.7,2204.6 3525.1,2191.0 3529.5,2177.4C3533.9,2163.8 3539.0,2150.9 3545.8,2136.6C3552.6,2122.3 3560.8,2106.1 3570.3,2091.8C3579.8,2077.5 3590.8,2063.9 3603.0,2051.0C3615.2,2038.1 3630.2,2024.4 3643.8,2014.2C3657.4,2004.0 3672.4,1995.8 3684.6,1989.8C3696.8,1983.8 3709.0,1980.3 3717.2,1978.3C3725.3,1976.2 3730.8,1977.6 3733.5,1977.5" fill="none" stroke="#8dc0a8" stroke-width="4.3" stroke-linecap="round" stroke-linejoin="round"/>
<path d="M3733.5,1977.5C3732.2,1979.5 3729.5,1983.7 3725.4,1989.8C3721.3,1995.9 3714.4,2003.3 3709.0,2014.2C3703.6,2025.1 3698.1,2040.7 3692.7,2055.0C3687.3,2069.3 3682.5,2084.9 3676.4,2099.9C3670.3,2114.9 3662.8,2131.9 3656.0,2144.8C3649.2,2157.7 3643.1,2167.9 3635.6,2177.4C3628.1,2186.9 3619.3,2195.1 3611.1,2201.9C3602.9,2208.7 3594.1,2212.1 3586.6,2218.2C3579.1,2224.3 3573.0,2231.1 3566.2,2238.6C3559.4,2246.1 3551.9,2254.9 3545.8,2263.1C3539.7,2271.3 3533.2,2278.8 3529.5,2287.6C3525.8,2296.4 3525.3,2306.0 3523.4,2316.2C3521.5,2326.4 3519.5,2336.6 3518.1,2348.8C3516.7,2361.0 3516.0,2369.9 3515.2,2389.6C3514.4,2409.3 3513.5,2454.2 3513.2,2467.1" fill="none" stroke="#8dc0a8" stroke-width="4.3" stroke-linecap="round" stroke-linejoin="round"/>
<text x="3323.2" y="2000" font-size="64" fill="#548235" >Nonlinearity</text>
<text x="3531.3" y="2458" font-size="64" fill="#000" >Voltage</text>
<text transform="translate(3219.4,2321.2) rotate(-90)" font-size="64" fill="#000">Current</text>
</svg>
</body></html>
